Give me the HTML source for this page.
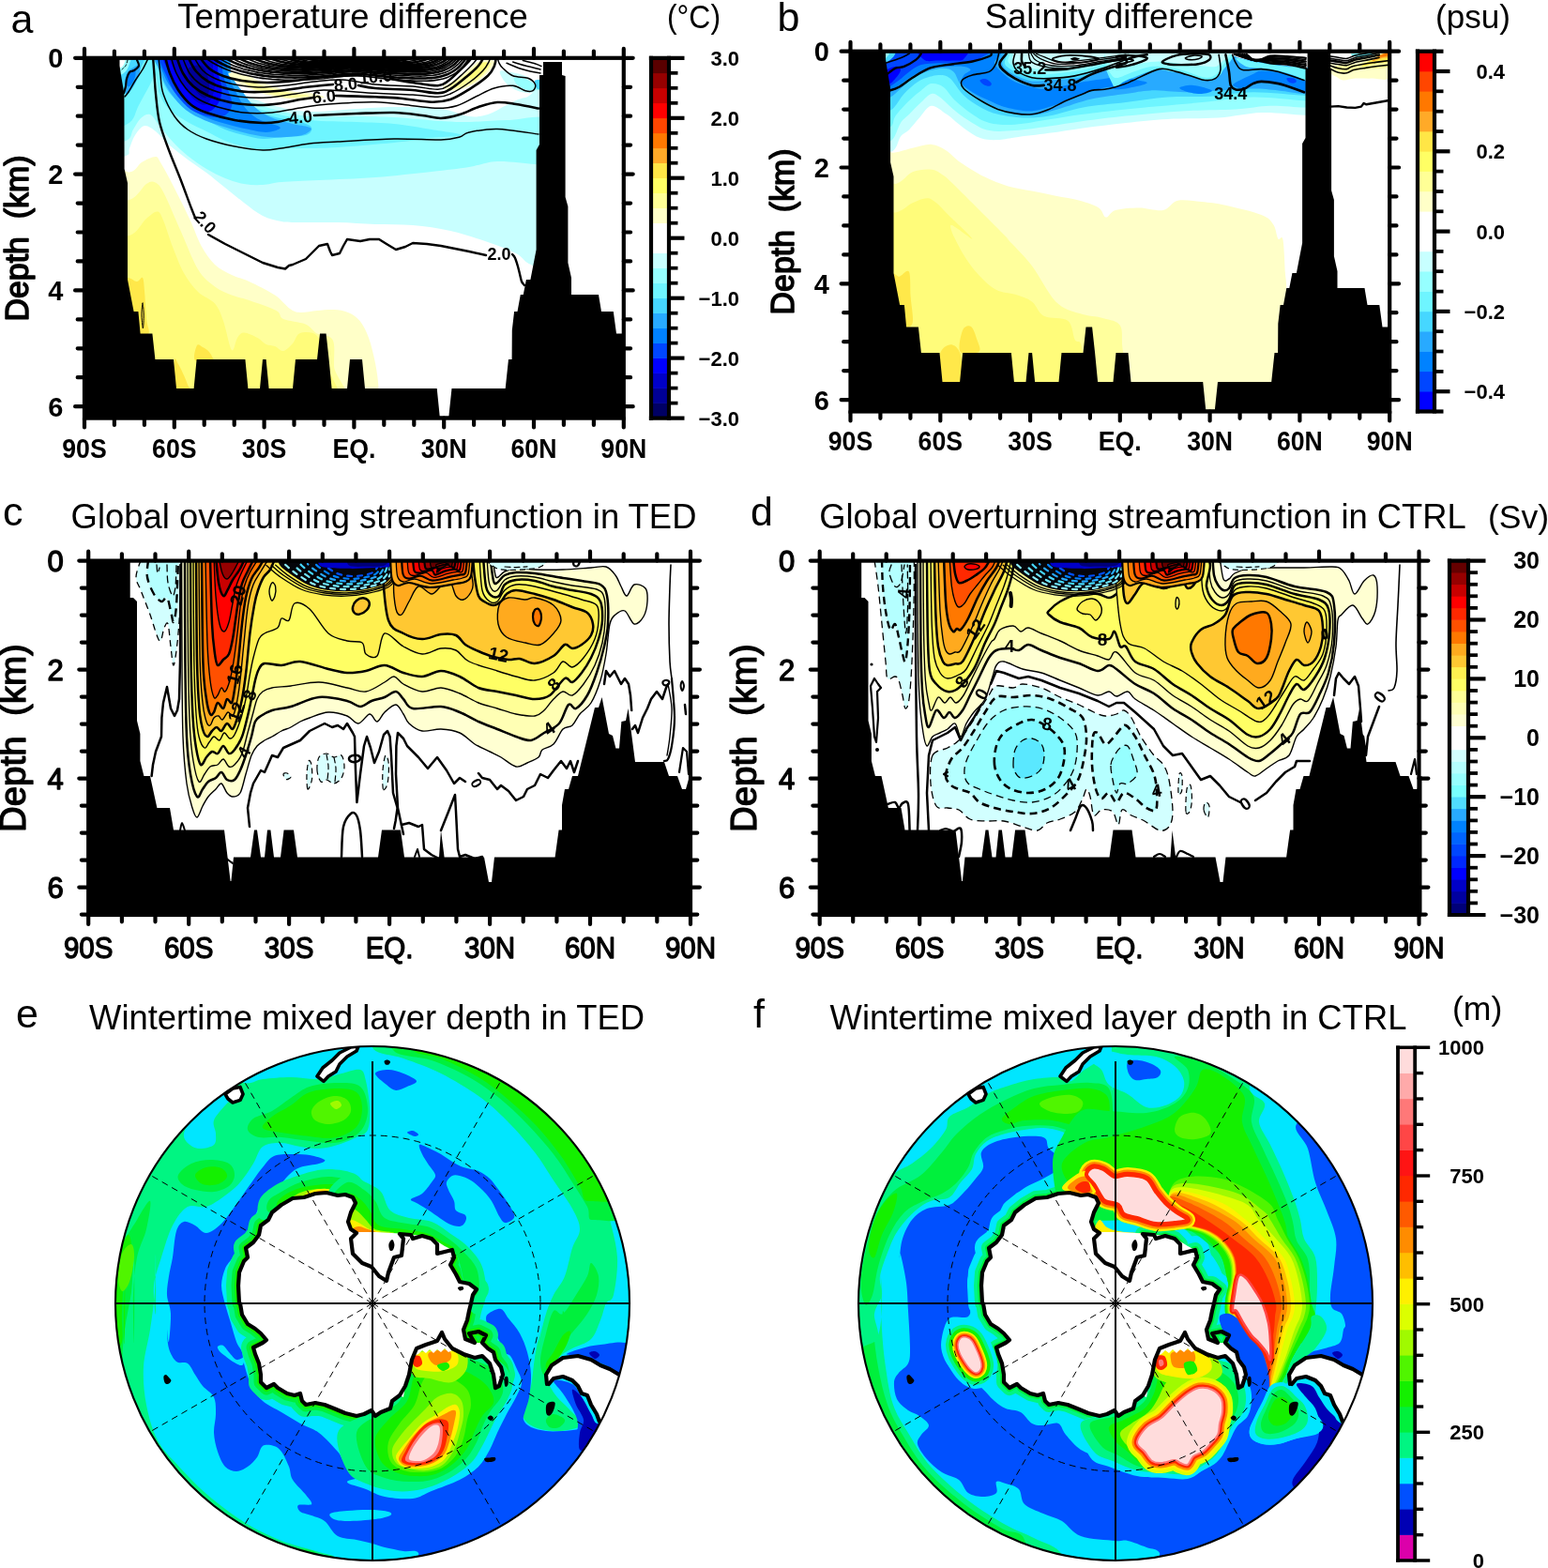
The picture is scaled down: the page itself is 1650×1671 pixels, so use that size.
<!DOCTYPE html>
<html lang="en"><head><meta charset="utf-8"><title>Figure</title>
<style>html,body{margin:0;padding:0;background:#fff}svg{display:block}</style>
</head><body>
<svg width="1650" height="1671" viewBox="0 0 1650 1671" font-family="'Liberation Sans', sans-serif" fill="#000">
<rect width="1650" height="1671" fill="#fff"/>
<g id="pa">
<defs><clipPath id="ca"><rect x="90.0" y="61.8" width="574.8" height="383.8"/></clipPath></defs>
<g clip-path="url(#ca)">
<path d="M100,50C120.8,30 203,46.7 225,50C247,53.3 229.5,64.3 232,70C234.5,75.7 235.3,79 240,84C244.7,89 251.7,95.3 260,100C268.3,104.7 278.3,108.8 290,112C301.7,115.2 315,118.3 330,119C345,119.7 365,116.8 380,116C395,115.2 405,114 420,114C435,114 456.7,114.3 470,116C483.3,117.7 491.7,123 500,124C508.3,125 513.3,124 520,122C526.7,120 533.3,115 540,112C546.7,109 551.7,105.3 560,104C568.3,102.7 585,74.3 590,104C595,133.7 594,252.3 590,282C586,311.7 572.7,284 566,282C559.3,280 557.7,274 550,270C542.3,266 531.7,262 520,258C508.3,254 493.3,249 480,246C466.7,243 453.3,241.2 440,240C426.7,238.8 413.3,239.5 400,239C386.7,238.5 373.3,237.3 360,237C346.7,236.7 330,237.2 320,237C310,236.8 306.7,237.2 300,236C293.3,234.8 286.7,233.3 280,230C273.3,226.7 266.7,221 260,216C253.3,211 246.7,205.3 240,200C233.3,194.7 226.7,189 220,184C213.3,179 206.7,175 200,170C193.3,165 185.7,159 180,154C174.3,149 170.3,143.3 166,140C161.7,136.7 157.7,133.3 154,134C150.3,134.7 146.7,140 144,144C141.3,148 139.7,154.3 138,158C136.3,161.7 140.3,164 134,166C127.7,168 105.7,189.3 100,170C94.3,150.7 79.2,70 100,50Z" fill="#c8ffff" />
<path d="M100,50C120.3,33 200.7,46.7 222,50C243.3,53.3 225.3,63.7 228,70C230.7,76.3 233,82.3 238,88C243,93.7 249.3,99.3 258,104C266.7,108.7 278,112.7 290,116C302,119.3 315,122.7 330,124C345,125.3 365,123.8 380,124C395,124.2 405,124.2 420,125C435,125.8 456.7,128.2 470,129C483.3,129.8 488.3,130.2 500,130C511.7,129.8 525,128.3 540,128C555,127.7 581.7,120 590,128C598.3,136 593.3,168.2 590,176C586.7,183.8 580,175.7 570,175C560,174.3 541.7,171.5 530,172C518.3,172.5 511.7,176.2 500,178C488.3,179.8 476.7,181.2 460,183C443.3,184.8 420,187.5 400,189C380,190.5 356.7,191.2 340,192C323.3,192.8 310,193.2 300,194C290,194.8 286.7,196.7 280,197C273.3,197.3 266.7,197.2 260,196C253.3,194.8 246.7,192.7 240,190C233.3,187.3 226.7,184 220,180C213.3,176 205.8,170.7 200,166C194.2,161.3 190,157.3 185,152C180,146.7 174.2,139 170,134C165.8,129 163.3,123.3 160,122C156.7,120.7 153,123.3 150,126C147,128.7 144.7,134 142,138C139.3,142 141,147.7 134,150C127,152.3 105.7,168.7 100,152C94.3,135.3 79.7,67 100,50Z" fill="#96ffff" />
<path d="M100,50C120,35.7 199.2,46.7 220,50C240.8,53.3 222.3,63 225,70C227.7,77 230.8,85.7 236,92C241.2,98.3 247,103.3 256,108C265,112.7 277.7,116.7 290,120C302.3,123.3 315,126.3 330,128C345,129.7 365,129.3 380,130C395,130.7 406.7,130.7 420,132C433.3,133.3 448,136 460,138C472,140 492,142.5 492,144C492,145.5 472,145.7 460,147C448,148.3 436.7,150.3 420,152C403.3,153.7 375,156 360,157C345,158 340,157.8 330,158C320,158.2 308.3,157.7 300,158C291.7,158.3 286.7,160.3 280,160C273.3,159.7 266.7,157.7 260,156C253.3,154.3 246.7,152.7 240,150C233.3,147.3 226.7,143.3 220,140C213.3,136.7 206.7,134 200,130C193.3,126 185,121 180,116C175,111 172.3,106 170,100C167.7,94 167.7,81.7 166,80C164.3,78.3 163,84.7 160,90C157,95.3 152,105 148,112C144,119 144,128 136,132C128,136 106,149.7 100,136C94,122.3 80,64.3 100,50Z" fill="#6ef5ff" />
<path d="M100,50C108.8,50 198.3,46.7 219,50C239.7,53.3 221.5,62.7 224,70C226.5,77.3 229,87.2 234,94C239,100.8 244.7,106 254,111C263.3,116 279,120.8 290,124C301,127.2 313,128 320,130C327,132 331,133.7 332,136C333,138.3 331.3,142.3 326,144C320.7,145.7 307.7,145.3 300,146C292.3,146.7 286.7,148.3 280,148C273.3,147.7 266.7,145.7 260,144C253.3,142.3 246.7,140.7 240,138C233.3,135.3 226.7,131.7 220,128C213.3,124.3 205.8,120 200,116C194.2,112 189.2,108.3 185,104C180.8,99.7 177.8,95.7 175,90C172.2,84.3 169.5,76.7 168,70C166.5,63.3 177.3,53.3 166,50C154.7,46.7 91.2,50 100,50Z" fill="#46d7ff" />
<path d="M166.4,50C177.2,45.2 222.9,44.8 236.4,50C249.9,55.2 243.7,73.1 247.3,81C250.9,88.9 254.2,91.9 258.2,97.3C262.1,102.7 266.1,109.1 271,113.6C275.9,118.1 280.6,121.5 287.3,124.5C294,127.5 304.1,130 311,131.8C317.9,133.6 325.7,134.3 329,135.5C332.3,136.7 332.5,137.5 331,139C329.5,140.5 326.4,143.3 320,144.5C313.6,145.7 301.8,146.7 292.7,146.4C283.6,146.1 274.3,144.5 265.5,142.7C256.7,140.9 247.9,137.9 240,135.5C232.1,133.1 225.2,131.2 218.2,128.2C211.2,125.2 204.3,122.2 198.2,117.3C192.1,112.4 186.2,105.4 181.8,99C177.4,92.6 174.4,87.2 171.8,79C169.2,70.8 155.6,54.8 166.4,50Z" fill="#28aaff" />
<path d="M168.2,50C177.9,45.2 220.1,44.8 232.7,50C245.3,55.2 240.5,73.1 243.6,81C246.7,88.9 248,91.5 251,97.3C254,103 257.9,110.7 261.8,115.5C265.7,120.3 269.1,123.4 274.5,126.4C279.9,129.4 290.6,131.8 294.5,133.6C298.4,135.4 299.8,136.1 298,137.3C296.2,138.5 289.6,141 283.6,141C277.6,141 269.1,138.8 261.8,137.3C254.5,135.8 247.3,133.9 240,131.8C232.7,129.7 224.7,127.5 218,124.5C211.3,121.5 205.4,118.1 200,113.6C194.6,109.1 189.8,103.1 185.5,97.3C181.2,91.5 177.4,86.9 174.5,79C171.6,71.1 158.5,54.8 168.2,50Z" fill="#0082ff" />
<path d="M171,50C179.2,43.9 217.8,44.8 229,50C240.2,55.2 235.6,73.1 238,81C240.4,88.9 242,92.2 243.6,97.3C245.2,102.4 247.9,107.6 247.3,111.8C246.7,116 243.6,120.6 240,122.7C236.4,124.8 230.9,125.1 225.5,124.5C220.1,123.9 212.8,122 207.3,119C201.8,116 197.2,111.8 192.7,106.4C188.1,101 183.6,95.8 180,86.4C176.4,77 162.8,56.1 171,50Z" fill="#0046ff" />
<path d="M174.5,50C181.8,44.8 215.8,45.2 225.5,50C235.2,54.8 230.9,71.4 232.7,79C234.5,86.6 236.4,90.3 236.4,95.5C236.4,100.7 235.1,106.1 232.7,110C230.3,113.9 226,118.4 221.8,119C217.6,119.6 212.2,116.9 207.3,113.6C202.5,110.3 196.9,104.4 192.7,99C188.4,93.6 184.8,89.2 181.8,81C178.8,72.8 167.2,55.2 174.5,50Z" fill="#0000ff" />
<path d="M180,50C185.8,45.2 213.9,45.5 221.8,50C229.7,54.5 226.1,70.3 227.3,77.3C228.5,84.3 229.3,87.3 229,91.8C228.7,96.3 227.3,101.2 225.5,104.5C223.7,107.8 221,111.5 218,111.8C215,112.1 210.9,109.4 207.3,106.4C203.7,103.4 199.7,98.2 196.4,93.6C193.1,89 190,86.3 187.3,79C184.6,71.7 174.2,54.8 180,50Z" fill="#0000c8" />
<path d="M200,73.6C202,71.2 210.9,68.5 214.5,70C218.1,71.5 220.4,78.2 221.8,82.7C223.2,87.2 223.3,93.7 222.7,97.3C222.1,100.9 220.5,104.5 218.2,104.5C215.9,104.5 211.6,100.6 209,97.3C206.4,94 204.2,88.5 202.7,84.5C201.2,80.5 198,76 200,73.6Z" fill="#000096" />
<path d="M120,100C122.2,107.5 130,101.3 133,100C136,98.7 136.2,94.7 138,92C139.8,89.3 142,87.3 144,84C146,80.7 148.3,75.7 150,72C151.7,68.3 154,64.8 154,62C154,59.2 155.7,56.2 150,55C144.3,53.8 125,47.5 120,55C115,62.5 117.8,92.5 120,100Z" fill="#46d7ff" />
<path d="M133,87C133.3,83.2 134.5,79.5 136,77C137.5,74.5 139.8,73.3 142,72C144.2,70.7 147.8,68.2 149,69C150.2,69.8 149.7,74 149,77C148.3,80 146.7,83.7 145,87C143.3,90.3 140.8,94.8 139,97C137.2,99.2 135,101.7 134,100C133,98.3 132.7,90.8 133,87Z" fill="#28aaff" />
<path d="M136,84C136.5,81.5 137.7,78.7 139,77C140.3,75.3 143.2,73.2 144,74C144.8,74.8 144.7,79.3 144,82C143.3,84.7 141.3,88.3 140,90C138.7,91.7 136.7,93 136,92C135.3,91 135.5,86.5 136,84Z" fill="#0082ff" />
<path d="M120,55C123.3,50.8 137,52.8 140,55C143,57.2 139,64.5 138,68C137,71.5 135.7,74 134,76C132.3,78 130.3,79.3 128,80C125.7,80.7 121.3,84.2 120,80C118.7,75.8 116.7,59.2 120,55Z" fill="#96ffff" />
<path d="M120,55C122.3,51.8 131.8,53.2 134,55C136.2,56.8 133.8,63.2 133,66C132.2,68.8 131.2,70.7 129,72C126.8,73.3 121.5,76.8 120,74C118.5,71.2 117.7,58.2 120,55Z" fill="#ffffff" />
<path d="M533,76C534.2,74.3 540.5,76.2 545,77C549.5,77.8 555.7,79 560,81C564.3,83 568.3,86.5 571,89C573.7,91.5 577.5,94.3 576,96C574.5,97.7 566.7,99.2 562,99C557.3,98.8 552,97 548,95C544,93 540.5,90.2 538,87C535.5,83.8 531.8,77.7 533,76Z" fill="#c8ffff" />
<path d="M548,83C549.3,81.8 556.3,82.8 560,84C563.7,85.2 567.3,88.2 570,90C572.7,91.8 577.2,94 576,95C574.8,96 567,96.7 563,96C559,95.3 554.5,93.2 552,91C549.5,88.8 546.7,84.2 548,83Z" fill="#96ffff" />
<path d="M570,86C571,84.7 576.7,84.5 578,86C579.3,87.5 579,93.7 578,95C577,96.3 573.3,95.5 572,94C570.7,92.5 569,87.3 570,86Z" fill="#46d7ff" />
<path d="M100,185C106.3,140.6 129.5,185.6 138,183.6C146.5,181.6 146.4,175.8 151,173C155.6,170.2 162.2,167 165.5,167C168.8,167 168,168.2 171,173C174,177.8 178.4,186 183.6,196C188.8,206 196.8,222 202,233C207.2,244 210,253.8 214.5,262C219,270.2 223.6,276.8 229,282C234.4,287.2 240.9,290 247,293C253.1,296 257.8,296.4 265.5,300C273.2,303.6 285.8,309.7 293,314.5C300.2,319.3 304.5,325.9 309,329C313.5,332.1 315.2,332.7 320,333C324.8,333.3 332,331.5 338,331C344,330.5 350.5,329.7 356,330C361.5,330.3 366.4,331 371,333C375.6,335 379.9,337.5 383.6,342C387.3,346.5 390.3,352.5 393,360C395.7,367.5 398.2,377.9 400,387C401.8,396.1 402.9,404 403.6,414.5C404.3,425 454.6,444.1 404,450C353.4,455.9 150.7,494.2 100,450C49.3,405.8 93.7,229.4 100,185Z" fill="#ffffc8" />
<path d="M100,215C106.3,175.5 128.7,216.2 138,213C147.3,209.8 151.4,199.1 156,196C160.6,192.9 162.4,192.9 165.5,194.5C168.6,196.1 169.9,196.8 174.5,205.5C179.1,214.2 186.9,233.4 193,247C199.1,260.6 205,277.2 211,287C217,296.8 223,300.9 229,305.5C235,310.1 240.9,312.1 247,314.5C253.1,316.9 257.6,317.2 265.5,320C273.4,322.8 288.4,327.7 294.5,331C300.6,334.3 296.8,337.6 302,340C307.2,342.4 319.5,342.9 325.5,345.5C331.5,348.1 333.2,352.8 338,355.5C342.8,358.2 351.5,356.2 354.5,362C357.5,367.8 355.9,375.3 356,390C356.1,404.7 397.7,440 355,450C312.3,460 142.5,489.2 100,450C57.5,410.8 93.7,254.5 100,215Z" fill="#ffff9c" />
<path d="M100,253C106.3,219.8 128.7,254.3 138,251C147.3,247.7 151,237.2 156,233C161,228.8 164.9,225 168,225.5C171.1,226 171.9,229.9 174.5,236C177.1,242.1 180,252.8 183.6,262C187.2,271.2 191.4,282.8 196,291C200.6,299.2 205.5,305.6 211,311C216.5,316.4 224.5,318.4 229,323.6C233.5,328.8 235,333.8 238,342C241,350.2 244.5,370 247,373C249.5,376 250.8,363.1 253,360C255.2,356.9 256.4,354.5 260,354.5C263.6,354.5 270.6,357.9 274.5,360C278.4,362.1 280.5,365.5 283.6,367C286.7,368.5 289.9,367.8 293,369C296.1,370.2 298.8,374.5 302,374C305.2,373.5 309,369.2 312,366C315,362.8 315.7,356.3 320,355C324.3,353.7 333.7,353.2 338,358C342.3,362.8 344.7,368.7 346,384C347.3,399.3 387,439 346,450C305,461 141,482.8 100,450C59,417.2 93.7,286.2 100,253Z" fill="#fffc7a" />
<path d="M134,300C135,290.7 143,300.7 146,300C149,299.3 150.7,294.3 152,296C153.3,297.7 153.3,302.7 154,310C154.7,317.3 155.3,332.3 156,340C156.7,347.7 160.7,353.3 158,356C155.3,358.7 144,365.3 140,356C136,346.7 133,309.3 134,300Z" fill="#ffe84a" />
<path d="M208,384C205.3,381.3 208.7,370.3 210,368C211.3,365.7 214,369 216,370C218,371 220.3,372.3 222,374C223.7,375.7 225.3,378.3 226,380C226.7,381.7 229,383.3 226,384C223,384.7 210.7,386.7 208,384Z" fill="#ffe84a" />
<path d="M186,384C186.7,379.3 188.3,385.3 190,388C191.7,390.7 194.3,396.3 196,400C197.7,403.7 199,407.3 200,410C201,412.7 204.3,415 202,416C199.7,417 188.7,421.3 186,416C183.3,410.7 185.3,388.7 186,384Z" fill="#ffe84a" />
<path d="M244,78C246,77 255.2,78 262,80C268.8,82 277,87.2 285,90C293,92.8 301.7,95.3 310,97C318.3,98.7 329.2,98.8 335,100C340.8,101.2 347.5,103 345,104C342.5,105 328.8,106.2 320,106C311.2,105.8 300.7,104.8 292,103C283.3,101.2 275,97.8 268,95C261,92.2 254,88.8 250,86C246,83.2 242,79 244,78Z" fill="#ffffc8" />
<path d="M258,84C260.8,84 276.3,90.5 285,93C293.7,95.5 302.5,97.5 310,99C317.5,100.5 330,101.2 330,102C330,102.8 317,104.3 310,104C303,103.7 295,101.8 288,100C281,98.2 273,95.7 268,93C263,90.3 255.2,84 258,84Z" fill="#ffff9c" />
<path d="M472,92C472.7,90.7 476.7,90 480,88C483.3,86 488,83 492,80C496,77 500.7,72.5 504,70C507.3,67.5 508.2,65.8 512,65C515.8,64.2 525.2,63.5 527,65C528.8,66.5 525.3,70.8 523,74C520.7,77.2 516.8,81 513,84C509.2,87 504.2,90 500,92C495.8,94 492,95.3 488,96C484,96.7 478.7,96.7 476,96C473.3,95.3 471.3,93.3 472,92Z" fill="#ffffc8" />
<path d="M480,91C481,89.2 488,86 492,83C496,80 500.7,75.7 504,73C507.3,70.3 508.8,68 512,67C515.2,66 521.8,65.7 523,67C524.2,68.3 521.2,72.2 519,75C516.8,77.8 513.5,81.3 510,84C506.5,86.7 502,89.3 498,91C494,92.7 489,94 486,94C483,94 479,92.8 480,91Z" fill="#ffff9c" />
<path d="M500,82C500.2,80.2 505.7,75.5 508,73C510.3,70.5 511.8,67.8 514,67C516.2,66.2 520.7,66.5 521,68C521.3,69.5 518.3,73.3 516,76C513.7,78.7 509.7,83 507,84C504.3,85 499.8,83.8 500,82Z" fill="#fffc7a" />
<path d="M163,60C163.2,63.3 164,73.3 164.5,80C165,86.7 165.1,91.7 166,100C166.9,108.3 167.7,120 170,130C172.3,140 176.3,150 180,160C183.7,170 188,179.7 192,190C196,200.3 201.3,215 204,222C206.7,229 207.3,230.3 208,232" fill="none" stroke="#000" stroke-width="2.4" stroke-linejoin="round" stroke-linecap="round" />
<path d="M222,250 240,260 260,270 280,280 296,285 304,286.5 308,283 312,282 326,276 334,268 340,262 349,260 352,268 354,272 362,270 366,262 370,255 384,257 394,255 404,255 412,260 422,266 432,263 440,259 455,260 470,262 485,265 500,268 518,272" fill="none" stroke="#000" stroke-width="2.4" stroke-linejoin="round" stroke-linecap="round" />
<path d="M546,271C546.5,271.7 548,272.8 549,275C550,277.2 551.2,281.2 552,284C552.8,286.8 553.3,289.3 554,292C554.7,294.7 555.2,298 556,300C556.8,302 558.5,303.3 559,304" fill="none" stroke="#000" stroke-width="2.4" stroke-linejoin="round" stroke-linecap="round" />
<text x="214" y="241" font-size="18" text-anchor="middle" font-weight="bold" transform="rotate(48 214 241)">2.0</text>
<text x="532" y="277" font-size="18" text-anchor="middle" font-weight="bold">2.0</text>
<path d="M169,60C169.3,63.3 170.2,73.3 171,80C171.8,86.7 171.5,92.7 174,100C176.5,107.3 181.7,117.7 186,124C190.3,130.3 194.3,134 200,138C205.7,142 211.7,145 220,148C228.3,151 240,154 250,156C260,158 271.7,159.7 280,160C288.3,160.3 291.7,159.2 300,158C308.3,156.8 320,154.2 330,153C340,151.8 345,151.8 360,151C375,150.2 401.7,148.3 420,148C438.3,147.7 458.3,149.3 470,149C481.7,148.7 485,147.3 490,146C495,144.7 493.3,142.4 500,141C506.7,139.6 517.7,137.1 530,137.4C542.3,137.7 566.7,142.1 574,143" fill="none" stroke="#000" stroke-width="1.5" stroke-linejoin="round" stroke-linecap="round" />
<path d="M176,60C176.8,63 178.7,72 181,78C183.3,84 186.2,90.3 190,96C193.8,101.7 199,108 204,112C209,116 212.3,117.3 220,120C227.7,122.7 240,126.2 250,128C260,129.8 272.3,130.7 280,131C287.7,131.3 291.3,130.7 296,130C300.7,129.3 306,127.5 308,127" fill="none" stroke="#000" stroke-width="2.6" stroke-linejoin="round" stroke-linecap="round" />
<path d="M335,123C342.5,122.7 365.8,121.5 380,121C394.2,120.5 408.3,119.7 420,120C431.7,120.3 441.7,122 450,123C458.3,124 463.3,126.2 470,126C476.7,125.8 483.3,124 490,122C496.7,120 503.3,116.2 510,114C516.7,111.8 523.3,109.5 530,109C536.7,108.5 542.7,109.9 550,111C557.3,112.1 570,114.8 574,115.6" fill="none" stroke="#000" stroke-width="2.6" stroke-linejoin="round" stroke-linecap="round" />
<text x="321" y="131" font-size="18" text-anchor="middle" font-weight="bold" transform="rotate(-6 321 131)">4.0</text>
<path d="M182,60C183,63 185.3,72.3 188,78C190.7,83.7 194,89.3 198,94C202,98.7 206.3,102.7 212,106C217.7,109.3 224,111.7 232,114C240,116.3 250.3,119 260,120C269.7,121 280,120.8 290,120C300,119.2 310,116.5 320,115C330,113.5 336.7,112 350,111C363.3,110 385,108.4 400,108.7C415,109 428.9,111.6 440,112.7C451.1,113.8 458.9,115.3 466.7,115.3C474.5,115.3 480,114.7 486.7,112.7C493.4,110.7 500,106.4 506.7,103.3C513.4,100.2 520,96 526.7,94C533.4,92 541.2,90.8 546.7,91.3C552.2,91.8 556.5,95.8 560,96.7C563.5,97.6 566.2,97.8 568,96.7C569.8,95.6 571.4,92.2 570.5,90C569.6,87.8 566.7,84.8 562.7,83.3C558.7,81.8 551.2,82.5 546.7,80.7C542.2,78.9 538.5,74.9 536,72.7C533.5,70.5 533,69.4 532,67.3C531,65.2 530.3,61.2 530,60" fill="none" stroke="#000" stroke-width="1.5" stroke-linejoin="round" stroke-linecap="round" />
<path d="M188,60C189.2,63 192,72.7 195,78C198,83.3 201.5,88 206,92C210.5,96 215.5,99.2 222,102C228.5,104.8 236.2,107.3 245,109C253.8,110.7 265.8,111.8 275,112C284.2,112.2 292.5,111 300,110C307.5,109 314.3,107 320,106C325.7,105 331.7,104.3 334,104" fill="none" stroke="#000" stroke-width="2.6" stroke-linejoin="round" stroke-linecap="round" />
<path d="M358,102C365,102.2 388.6,102.8 400,103.3C411.4,103.8 416.7,103.8 426.7,104.7C436.7,105.6 451.1,108.5 460,108.7C468.9,108.9 473.3,108.2 480,106C486.7,103.8 493.3,99.5 500,95.3C506.7,91.1 515.5,84.9 520,80.7C524.5,76.5 525.5,73.5 527,70C528.5,66.5 528.7,61.7 529,60" fill="none" stroke="#000" stroke-width="2.6" stroke-linejoin="round" stroke-linecap="round" />
<text x="346" y="109" font-size="18" text-anchor="middle" font-weight="bold" transform="rotate(-6 346 109)">6.0</text>
<path d="M194,60C195.3,63 198.7,73 202,78C205.3,83 209,86.7 214,90C219,93.3 225.2,95.8 232,98C238.8,100.2 246.2,102 255,103C263.8,104 275,104.5 285,104C295,103.5 305,101.3 315,100C325,98.7 330.8,96.1 345,96C359.2,95.9 384.2,98.5 400,99.3C415.8,100.1 428.9,100.3 440,101C451.1,101.7 460,103.5 466.7,103.3C473.4,103.1 474.4,102.5 480,100C485.6,97.5 494.2,92.2 500,88C505.8,83.8 511.5,78.7 515,75C518.5,71.3 519.7,68.5 521,66C522.3,63.5 522.7,61 523,60" fill="none" stroke="#000" stroke-width="1.5" stroke-linejoin="round" stroke-linecap="round" />
<path d="M200,60C201.5,62.7 205.3,71.5 209,76C212.7,80.5 216.8,84 222,87C227.2,90 232.8,92.2 240,94C247.2,95.8 255.8,97.5 265,98C274.2,98.5 285,97.8 295,97C305,96.2 315,94.2 325,93C335,91.8 350,90.5 355,90" fill="none" stroke="#000" stroke-width="2.6" stroke-linejoin="round" stroke-linecap="round" />
<path d="M382,91C385,91.5 390.3,93.2 400,94C409.7,94.8 428.9,95.1 440,96C451.1,96.9 460,99.5 466.7,99.3C473.4,99.1 474.9,97.9 480,95C485.1,92.1 492,86.2 497,82C502,77.8 506.8,73.7 510,70C513.2,66.3 515,61.7 516,60" fill="none" stroke="#000" stroke-width="2.6" stroke-linejoin="round" stroke-linecap="round" />
<text x="369" y="96" font-size="18" text-anchor="middle" font-weight="bold" transform="rotate(-6 369 96)">8.0</text>
<path d="M206,60C207.7,62.5 212,71 216,75C220,79 224.3,81.5 230,84C235.7,86.5 242.5,88.5 250,90C257.5,91.5 265.8,92.8 275,93C284.2,93.2 295,92 305,91C315,90 325,88 335,87C345,86 354.2,84.5 365,85C375.8,85.5 387.5,88.8 400,90C412.5,91.2 428.9,91.1 440,92C451.1,92.9 460,95.6 466.7,95.3C473.4,95 475.4,92.9 480,90C484.6,87.1 489.8,81.8 494,78C498.2,74.2 502.3,70 505,67C507.7,64 509.2,61.2 510,60" fill="none" stroke="#000" stroke-width="1.5" stroke-linejoin="round" stroke-linecap="round" />
<path d="M212,60C213.8,62.2 218.7,69.5 223,73C227.3,76.5 232.2,78.8 238,81C243.8,83.2 250.2,84.8 258,86C265.8,87.2 275.5,88 285,88C294.5,88 305,87 315,86C325,85 333.3,83 345,82C356.7,81 378.3,80.3 385,80" fill="none" stroke="#000" stroke-width="2.6" stroke-linejoin="round" stroke-linecap="round" />
<path d="M417,84C420.8,84.7 431.7,86.8 440,88C448.3,89.2 460.4,91.6 466.7,91.3C473,91 474.1,88.7 478,86C481.9,83.3 486.3,78.5 490,75C493.7,71.5 497.7,67.5 500,65C502.3,62.5 503.3,60.8 504,60" fill="none" stroke="#000" stroke-width="2.6" stroke-linejoin="round" stroke-linecap="round" />
<text x="401" y="88" font-size="18" text-anchor="middle" font-weight="bold" transform="rotate(-5 401 88)">10.0</text>
<path d="M540,67.3C542.2,68.2 549.1,71.2 553.3,72.7C557.5,74.2 561.2,75.1 565,76C568.8,76.9 574.2,77.7 576,78" fill="none" stroke="#000" stroke-width="1.5" stroke-linejoin="round" stroke-linecap="round" />
<path d="M546.7,66C548.9,66.7 555.1,68.7 560,70C564.9,71.3 573.3,73.3 576,74" fill="none" stroke="#000" stroke-width="1.5" stroke-linejoin="round" stroke-linecap="round" />
<path d="M557.3,64.5C559.5,65.1 567.4,67 570.7,68C574,69 576,70.1 577,70.5" fill="none" stroke="#000" stroke-width="1.5" stroke-linejoin="round" stroke-linecap="round" />
<path d="M219,61.8C220.2,62.6 223.7,65.1 226,66.5C228.4,67.9 230.7,69.2 233.1,70.3C235.4,71.5 237.7,72.5 240.1,73.4C242.4,74.4 244.8,75.2 247.1,76C249.4,76.8 251.8,77.5 254.1,78.2C256.5,78.9 258.8,79.5 261.1,80C263.5,80.6 265.8,81.1 268.2,81.5C270.5,82 272.9,82.4 275.2,82.8C277.5,83.1 279.9,83.5 282.2,83.7C284.6,84 286.9,84.2 289.2,84.4C291.6,84.6 293.9,84.8 296.3,84.9C298.6,85 301,85.1 303.3,85.2C305.6,85.2 308,85.2 310.3,85.2C312.7,85.3 315,85.2 317.4,85.2C319.7,85.2 322,85.1 324.4,85C326.7,84.9 329.1,84.9 331.4,84.7C333.7,84.6 336.1,84.5 338.4,84.3C340.8,84.1 343.1,83.9 345.4,83.7C347.8,83.4 350.1,83.1 352.5,82.8C354.8,82.6 357.2,82.2 359.5,81.9C361.8,81.7 364.2,81.4 366.5,81.1C368.9,80.9 371.2,80.7 373.6,80.7C375.9,80.6 378.2,80.6 380.6,80.6C382.9,80.7 385.3,80.9 387.6,81.1C389.9,81.3 392.3,81.6 394.6,81.9C397,82.2 399.3,82.5 401.6,82.8C404,83.1 406.3,83.5 408.7,83.7C411,84 413.4,84.2 415.7,84.5C418,84.7 420.4,84.9 422.7,85.1C425.1,85.2 427.4,85.4 429.8,85.5C432.1,85.7 434.4,85.8 436.8,85.9C439.1,86.1 441.5,86.2 443.8,86.2C446.1,86.3 448.5,86.4 450.8,86.3C453.2,86.3 455.5,86.3 457.9,86.1C460.2,86 462.5,85.8 464.9,85.4C467.2,85.1 469.6,84.7 471.9,84.1C474.2,83.4 476.6,82.7 478.9,81.6C481.3,80.6 483.6,79.4 485.9,77.7C488.3,76 490.6,74.2 493,71.6C495.3,68.9 498.8,63.4 500,61.8" fill="none" stroke="#000" stroke-width="1.6" stroke-linejoin="round" stroke-linecap="round" />
<path d="M226,61.8C227.1,62.5 230.5,64.7 232.8,66C235,67.3 237.3,68.4 239.6,69.5C241.8,70.5 244.1,71.4 246.3,72.3C248.6,73.1 250.8,73.9 253.1,74.6C255.4,75.3 257.6,76 259.9,76.6C262.1,77.2 264.4,77.7 266.6,78.2C268.9,78.7 271.2,79.1 273.4,79.5C275.7,79.9 277.9,80.3 280.2,80.6C282.5,80.9 284.7,81.1 287,81.4C289.2,81.6 291.5,81.8 293.8,81.9C296,82.1 298.3,82.2 300.5,82.3C302.8,82.4 305,82.5 307.3,82.5C309.6,82.5 311.8,82.6 314.1,82.6C316.3,82.6 318.6,82.5 320.9,82.5C323.1,82.5 325.4,82.4 327.6,82.3C329.9,82.2 332.1,82.2 334.4,82C336.7,81.9 338.9,81.8 341.2,81.6C343.4,81.4 345.7,81.2 347.9,81C350.2,80.8 352.5,80.5 354.7,80.3C357,80 359.2,79.8 361.5,79.5C363.8,79.3 366,79.1 368.3,78.9C370.5,78.7 372.8,78.6 375.1,78.6C377.3,78.5 379.6,78.6 381.8,78.6C384.1,78.7 386.3,78.9 388.6,79.1C390.9,79.3 393.1,79.6 395.4,79.8C397.6,80.1 399.9,80.4 402.1,80.6C404.4,80.9 406.7,81.1 408.9,81.4C411.2,81.6 413.4,81.8 415.7,82C418,82.2 420.2,82.3 422.5,82.5C424.7,82.6 427,82.8 429.2,82.9C431.5,83 433.8,83.1 436,83.2C438.3,83.3 440.5,83.4 442.8,83.5C445.1,83.5 447.3,83.6 449.6,83.5C451.8,83.5 454.1,83.5 456.4,83.3C458.6,83.2 460.9,83 463.1,82.7C465.4,82.4 467.6,82 469.9,81.4C472.2,80.9 474.4,80.2 476.7,79.3C478.9,78.3 481.2,77.3 483.4,75.8C485.7,74.3 488,72.6 490.2,70.3C492.5,68 495.9,63.2 497,61.8" fill="none" stroke="#000" stroke-width="2.6" stroke-linejoin="round" stroke-linecap="round" />
<path d="M233,61.8C234.1,62.4 237.3,64.4 239.5,65.6C241.7,66.8 243.9,67.8 246.1,68.7C248.2,69.6 250.4,70.5 252.6,71.3C254.8,72 256.9,72.7 259.1,73.4C261.3,74 263.4,74.6 265.6,75.1C267.8,75.7 270,76.1 272.1,76.6C274.3,77 276.5,77.4 278.7,77.7C280.9,78 283,78.3 285.2,78.6C287.4,78.9 289.6,79.1 291.7,79.3C293.9,79.4 296.1,79.6 298.2,79.7C300.4,79.8 302.6,79.9 304.8,80C306.9,80.1 309.1,80.1 311.3,80.2C313.5,80.2 315.6,80.2 317.8,80.2C320,80.2 322.2,80.2 324.4,80.1C326.5,80.1 328.7,80 330.9,79.9C333.1,79.9 335.2,79.8 337.4,79.7C339.6,79.5 341.8,79.4 343.9,79.2C346.1,79.1 348.3,78.9 350.4,78.7C352.6,78.5 354.8,78.3 357,78.1C359.2,77.8 361.3,77.6 363.5,77.4C365.7,77.2 367.8,77.1 370,76.9C372.2,76.8 374.4,76.8 376.6,76.7C378.7,76.7 380.9,76.8 383.1,76.9C385.2,77 387.4,77.1 389.6,77.3C391.8,77.5 393.9,77.7 396.1,78C398.3,78.2 400.5,78.4 402.6,78.6C404.8,78.9 407,79.1 409.2,79.3C411.4,79.5 413.5,79.7 415.7,79.8C417.9,80 420.1,80.1 422.2,80.2C424.4,80.4 426.6,80.5 428.8,80.6C430.9,80.7 433.1,80.8 435.3,80.8C437.4,80.9 439.6,81 441.8,81C444,81.1 446.1,81.1 448.3,81.1C450.5,81 452.7,81 454.9,80.8C457,80.7 459.2,80.5 461.4,80.3C463.6,80 465.7,79.6 467.9,79.1C470.1,78.6 472.2,78 474.4,77.2C476.6,76.3 478.8,75.4 480.9,74.1C483.1,72.7 485.3,71.3 487.5,69.2C489.7,67.2 492.9,63 494,61.8" fill="none" stroke="#000" stroke-width="1.6" stroke-linejoin="round" stroke-linecap="round" />
<path d="M240,61.8C241,62.4 244.2,64.2 246.3,65.2C248.4,66.3 250.5,67.2 252.6,68C254.6,68.9 256.7,69.6 258.8,70.3C260.9,71 263,71.6 265.1,72.2C267.2,72.8 269.3,73.3 271.4,73.8C273.5,74.2 275.6,74.6 277.6,75C279.7,75.4 281.8,75.7 283.9,76C286,76.3 288.1,76.5 290.2,76.8C292.3,77 294.4,77.2 296.5,77.3C298.6,77.5 300.7,77.6 302.8,77.7C304.8,77.8 306.9,77.9 309,77.9C311.1,78 313.2,78 315.3,78C317.4,78 319.5,78 321.6,78C323.7,78 325.8,78 327.9,78C329.9,77.9 332,77.9 334.1,77.8C336.2,77.7 338.3,77.6 340.4,77.5C342.5,77.4 344.6,77.3 346.7,77.1C348.8,77 350.9,76.8 352.9,76.6C355,76.4 357.1,76.2 359.2,76.1C361.3,75.9 363.4,75.7 365.5,75.6C367.6,75.4 369.7,75.3 371.8,75.2C373.9,75.1 376,75.1 378.1,75.1C380.1,75.1 382.2,75.2 384.3,75.3C386.4,75.4 388.5,75.5 390.6,75.7C392.7,75.9 394.8,76.1 396.9,76.3C399,76.4 401.1,76.7 403.1,76.8C405.2,77 407.3,77.2 409.4,77.4C411.5,77.5 413.6,77.7 415.7,77.8C417.8,78 419.9,78.1 422,78.2C424.1,78.3 426.2,78.4 428.2,78.5C430.3,78.6 432.4,78.6 434.5,78.7C436.6,78.7 438.7,78.8 440.8,78.8C442.9,78.8 445,78.8 447.1,78.8C449.2,78.8 451.3,78.7 453.4,78.6C455.4,78.5 457.5,78.3 459.6,78C461.7,77.8 463.8,77.5 465.9,77C468,76.5 470.1,76 472.2,75.3C474.3,74.5 476.4,73.7 478.4,72.5C480.5,71.3 482.6,70 484.7,68.3C486.8,66.5 490,62.9 491,61.8" fill="none" stroke="#000" stroke-width="2.6" stroke-linejoin="round" stroke-linecap="round" />
<path d="M247,61.8C248,62.3 251,64 253,64.9C255,65.8 257,66.7 259.1,67.4C261.1,68.2 263.1,68.9 265.1,69.5C267.1,70.1 269.1,70.7 271.1,71.2C273.1,71.7 275.1,72.2 277.1,72.6C279.1,73 281.1,73.4 283.1,73.7C285.2,74 287.2,74.3 289.2,74.5C291.2,74.8 293.2,75 295.2,75.2C297.2,75.4 299.2,75.5 301.2,75.6C303.2,75.8 305.2,75.9 307.2,75.9C309.3,76 311.3,76.1 313.3,76.1C315.3,76.2 317.3,76.2 319.3,76.2C321.3,76.2 323.3,76.2 325.3,76.2C327.3,76.2 329.3,76.2 331.4,76.1C333.4,76.1 335.4,76 337.4,76C339.4,75.9 341.4,75.8 343.4,75.7C345.4,75.6 347.4,75.4 349.4,75.3C351.4,75.2 353.4,75 355.4,74.9C357.5,74.7 359.5,74.5 361.5,74.4C363.5,74.2 365.5,74.1 367.5,74C369.5,73.9 371.5,73.8 373.5,73.8C375.5,73.7 377.5,73.7 379.6,73.7C381.6,73.8 383.6,73.8 385.6,73.9C387.6,74 389.6,74.2 391.6,74.3C393.6,74.5 395.6,74.6 397.6,74.8C399.6,75 401.6,75.1 403.6,75.3C405.7,75.5 407.7,75.6 409.7,75.8C411.7,75.9 413.7,76 415.7,76.1C417.7,76.3 419.7,76.4 421.7,76.4C423.7,76.5 425.7,76.6 427.8,76.7C429.8,76.7 431.8,76.8 433.8,76.8C435.8,76.9 437.8,76.9 439.8,76.9C441.8,76.9 443.8,76.9 445.8,76.9C447.8,76.9 449.8,76.8 451.9,76.7C453.9,76.6 455.9,76.4 457.9,76.2C459.9,75.9 461.9,75.6 463.9,75.2C465.9,74.8 467.9,74.3 469.9,73.6C471.9,73 473.9,72.2 475.9,71.2C478,70.1 480,69 482,67.4C484,65.9 487,62.7 488,61.8" fill="none" stroke="#000" stroke-width="1.6" stroke-linejoin="round" stroke-linecap="round" />
<path d="M254,61.8C255,62.3 257.8,63.8 259.8,64.6C261.7,65.5 263.6,66.2 265.6,66.9C267.5,67.6 269.4,68.2 271.3,68.8C273.2,69.4 275.2,69.9 277.1,70.3C279,70.8 280.9,71.2 282.9,71.5C284.8,71.9 286.7,72.2 288.6,72.5C290.6,72.8 292.5,73 294.4,73.2C296.4,73.4 298.3,73.6 300.2,73.7C302.1,73.9 304.1,74 306,74.1C307.9,74.2 309.8,74.3 311.8,74.4C313.7,74.5 315.6,74.5 317.5,74.5C319.4,74.6 321.4,74.6 323.3,74.6C325.2,74.6 327.1,74.6 329.1,74.6C331,74.6 332.9,74.5 334.9,74.5C336.8,74.5 338.7,74.4 340.6,74.3C342.6,74.3 344.5,74.2 346.4,74.1C348.3,74 350.2,73.8 352.2,73.7C354.1,73.6 356,73.4 357.9,73.3C359.9,73.2 361.8,73 363.7,72.9C365.7,72.8 367.6,72.7 369.5,72.6C371.4,72.6 373.3,72.5 375.3,72.5C377.2,72.5 379.1,72.5 381.1,72.5C383,72.6 384.9,72.6 386.8,72.7C388.8,72.8 390.7,73 392.6,73.1C394.5,73.2 396.4,73.4 398.4,73.5C400.3,73.7 402.2,73.8 404.1,73.9C406.1,74.1 408,74.2 409.9,74.3C411.9,74.4 413.8,74.6 415.7,74.7C417.6,74.7 419.6,74.8 421.5,74.9C423.4,75 425.3,75 427.2,75.1C429.2,75.1 431.1,75.2 433,75.2C434.9,75.2 436.9,75.3 438.8,75.3C440.7,75.3 442.6,75.3 444.6,75.2C446.5,75.2 448.4,75.1 450.4,75C452.3,74.9 454.2,74.7 456.1,74.5C458.1,74.3 460,74 461.9,73.6C463.8,73.2 465.8,72.8 467.7,72.2C469.6,71.6 471.5,70.9 473.4,70C475.4,69.1 477.3,68.1 479.2,66.7C481.2,65.3 484,62.6 485,61.8" fill="none" stroke="#000" stroke-width="2.6" stroke-linejoin="round" stroke-linecap="round" />
<path d="M262,61.8C262.9,62.2 265.7,63.6 267.5,64.3C269.3,65.1 271.2,65.8 273,66.4C274.8,67 276.7,67.6 278.5,68.1C280.3,68.6 282.2,69 284,69.4C285.8,69.8 287.7,70.2 289.5,70.5C291.3,70.8 293.2,71.1 295,71.3C296.8,71.6 298.7,71.8 300.5,71.9C302.3,72.1 304.2,72.3 306,72.4C307.8,72.5 309.7,72.6 311.5,72.7C313.3,72.8 315.2,72.9 317,72.9C318.8,73 320.7,73 322.5,73.1C324.3,73.1 326.2,73.1 328,73.1C329.8,73.1 331.7,73.1 333.5,73.1C335.3,73 337.2,73 339,73C340.8,72.9 342.7,72.9 344.5,72.8C346.3,72.7 348.2,72.6 350,72.5C351.8,72.4 353.7,72.3 355.5,72.2C357.3,72.1 359.2,72 361,71.9C362.8,71.8 364.7,71.7 366.5,71.6C368.3,71.5 370.2,71.4 372,71.4C373.8,71.3 375.7,71.3 377.5,71.3C379.3,71.3 381.2,71.4 383,71.4C384.8,71.5 386.7,71.6 388.5,71.6C390.3,71.7 392.2,71.9 394,72C395.8,72.1 397.7,72.2 399.5,72.3C401.3,72.5 403.2,72.6 405,72.7C406.8,72.8 408.7,72.9 410.5,73C412.3,73.1 414.2,73.2 416,73.3C417.8,73.3 419.7,73.4 421.5,73.5C423.3,73.5 425.2,73.6 427,73.6C428.8,73.7 430.7,73.7 432.5,73.7C434.3,73.7 436.2,73.7 438,73.7C439.8,73.7 441.7,73.7 443.5,73.6C445.3,73.6 447.2,73.5 449,73.4C450.8,73.3 452.7,73.2 454.5,72.9C456.3,72.7 458.2,72.5 460,72.1C461.8,71.8 463.7,71.4 465.5,70.9C467.3,70.3 469.2,69.7 471,68.9C472.8,68.1 474.7,67.2 476.5,66C478.3,64.8 481.1,62.5 482,61.8" fill="none" stroke="#000" stroke-width="1.6" stroke-linejoin="round" stroke-linecap="round" />
<path d="M270,61.8C270.9,62.2 273.5,63.4 275.2,64.1C276.9,64.8 278.7,65.4 280.4,65.9C282.1,66.5 283.9,67 285.6,67.4C287.3,67.9 289.1,68.2 290.8,68.6C292.5,68.9 294.3,69.2 296,69.5C297.7,69.8 299.5,70 301.2,70.2C302.9,70.4 304.7,70.6 306.4,70.7C308.1,70.9 309.9,71 311.6,71.1C313.3,71.2 315.1,71.3 316.8,71.4C318.5,71.5 320.3,71.5 322,71.6C323.7,71.6 325.5,71.7 327.2,71.7C328.9,71.7 330.7,71.7 332.4,71.7C334.1,71.7 335.9,71.7 337.6,71.7C339.3,71.6 341.1,71.6 342.8,71.6C344.5,71.5 346.3,71.4 348,71.4C349.7,71.3 351.5,71.2 353.2,71.1C354.9,71.1 356.7,71 358.4,70.9C360.1,70.8 361.9,70.7 363.6,70.6C365.3,70.5 367.1,70.5 368.8,70.4C370.5,70.3 372.3,70.3 374,70.3C375.7,70.3 377.5,70.3 379.2,70.3C380.9,70.3 382.7,70.3 384.4,70.4C386.1,70.4 387.9,70.5 389.6,70.6C391.3,70.7 393.1,70.8 394.8,70.9C396.5,71 398.3,71.1 400,71.2C401.7,71.3 403.5,71.4 405.2,71.5C406.9,71.6 408.7,71.7 410.4,71.7C412.1,71.8 413.9,71.9 415.6,72C417.3,72 419.1,72.1 420.8,72.1C422.5,72.2 424.3,72.2 426,72.2C427.7,72.2 429.5,72.3 431.2,72.3C432.9,72.3 434.7,72.3 436.4,72.3C438.1,72.2 439.9,72.2 441.6,72.2C443.3,72.1 445.1,72 446.8,71.9C448.5,71.8 450.3,71.7 452,71.5C453.7,71.3 455.5,71.1 457.2,70.7C458.9,70.4 460.7,70.1 462.4,69.6C464.1,69.1 465.9,68.6 467.6,67.9C469.3,67.2 471.1,66.4 472.8,65.4C474.5,64.4 477.1,62.4 478,61.8" fill="none" stroke="#000" stroke-width="2.6" stroke-linejoin="round" stroke-linecap="round" />
<path d="M278,61.8C278.8,62.1 281.3,63.2 282.9,63.8C284.5,64.4 286.2,65 287.8,65.5C289.4,66 291.1,66.4 292.7,66.8C294.3,67.1 296,67.5 297.6,67.8C299.2,68.1 300.9,68.3 302.5,68.6C304.1,68.8 305.8,69 307.4,69.2C309,69.4 310.7,69.5 312.3,69.6C313.9,69.8 315.6,69.9 317.2,70C318.8,70.1 320.5,70.1 322.1,70.2C323.7,70.3 325.4,70.3 327,70.3C328.6,70.4 330.3,70.4 331.9,70.4C333.5,70.4 335.2,70.4 336.8,70.4C338.4,70.4 340.1,70.4 341.7,70.4C343.3,70.3 345,70.3 346.6,70.3C348.2,70.2 349.9,70.2 351.5,70.1C353.1,70 354.8,70 356.4,69.9C358,69.8 359.7,69.7 361.3,69.7C362.9,69.6 364.6,69.5 366.2,69.5C367.8,69.4 369.5,69.4 371.1,69.3C372.7,69.3 374.4,69.3 376,69.3C377.6,69.3 379.3,69.3 380.9,69.3C382.5,69.3 384.2,69.4 385.8,69.4C387.4,69.5 389.1,69.6 390.7,69.6C392.3,69.7 394,69.8 395.6,69.9C397.2,69.9 398.9,70 400.5,70.1C402.1,70.2 403.8,70.3 405.4,70.4C407,70.4 408.7,70.5 410.3,70.6C411.9,70.6 413.6,70.7 415.2,70.7C416.8,70.8 418.5,70.8 420.1,70.9C421.7,70.9 423.4,70.9 425,70.9C426.6,71 428.3,71 429.9,71C431.5,71 433.2,70.9 434.8,70.9C436.4,70.9 438.1,70.9 439.7,70.8C441.3,70.7 443,70.7 444.6,70.6C446.2,70.4 447.9,70.3 449.5,70.1C451.1,70 452.8,69.8 454.4,69.5C456,69.2 457.7,68.9 459.3,68.5C460.9,68.1 462.6,67.6 464.2,67C465.8,66.4 467.5,65.7 469.1,64.8C470.7,64 473.2,62.3 474,61.8" fill="none" stroke="#000" stroke-width="1.6" stroke-linejoin="round" stroke-linecap="round" />
<path d="M287,61.8C287.8,62.1 290.1,63.1 291.6,63.6C293.1,64.1 294.6,64.6 296.1,65C297.7,65.4 299.2,65.8 300.7,66.1C302.2,66.5 303.8,66.8 305.3,67C306.8,67.3 308.4,67.5 309.9,67.7C311.4,67.9 312.9,68.1 314.4,68.2C316,68.4 317.5,68.5 319,68.6C320.5,68.7 322.1,68.8 323.6,68.9C325.1,69 326.7,69 328.2,69.1C329.7,69.1 331.2,69.2 332.8,69.2C334.3,69.2 335.8,69.2 337.3,69.2C338.8,69.3 340.4,69.2 341.9,69.2C343.4,69.2 345,69.2 346.5,69.2C348,69.1 349.5,69.1 351.1,69.1C352.6,69 354.1,69 355.6,68.9C357.1,68.9 358.7,68.8 360.2,68.7C361.7,68.7 363.2,68.6 364.8,68.6C366.3,68.5 367.8,68.5 369.4,68.5C370.9,68.4 372.4,68.4 373.9,68.4C375.4,68.4 377,68.4 378.5,68.4C380,68.4 381.6,68.4 383.1,68.4C384.6,68.5 386.1,68.5 387.6,68.6C389.2,68.6 390.7,68.7 392.2,68.7C393.8,68.8 395.3,68.9 396.8,68.9C398.3,69 399.9,69.1 401.4,69.1C402.9,69.2 404.4,69.3 405.9,69.3C407.5,69.4 409,69.4 410.5,69.5C412,69.5 413.6,69.6 415.1,69.6C416.6,69.7 418.1,69.7 419.7,69.7C421.2,69.7 422.7,69.7 424.2,69.8C425.8,69.8 427.3,69.8 428.8,69.8C430.4,69.7 431.9,69.7 433.4,69.7C434.9,69.7 436.5,69.6 438,69.6C439.5,69.5 441,69.4 442.5,69.3C444.1,69.2 445.6,69.1 447.1,68.9C448.7,68.7 450.2,68.6 451.7,68.3C453.2,68.1 454.8,67.8 456.3,67.4C457.8,67.1 459.3,66.7 460.9,66.1C462.4,65.6 463.9,65.1 465.4,64.3C466.9,63.6 469.2,62.2 470,61.8" fill="none" stroke="#000" stroke-width="2.6" stroke-linejoin="round" stroke-linecap="round" />
<path d="M296,61.8C296.7,62.1 298.8,62.9 300.2,63.4C301.6,63.8 303,64.2 304.4,64.6C305.9,65 307.3,65.3 308.7,65.6C310.1,65.9 311.5,66.1 312.9,66.3C314.3,66.5 315.7,66.7 317.1,66.9C318.5,67.1 319.9,67.2 321.4,67.3C322.8,67.5 324.2,67.6 325.6,67.7C327,67.8 328.4,67.8 329.8,67.9C331.2,68 332.6,68 334,68.1C335.4,68.1 336.8,68.1 338.2,68.2C339.7,68.2 341.1,68.2 342.5,68.2C343.9,68.2 345.3,68.2 346.7,68.2C348.1,68.1 349.5,68.1 350.9,68.1C352.3,68.1 353.7,68 355.1,68C356.6,68 358,67.9 359.4,67.9C360.8,67.8 362.2,67.8 363.6,67.8C365,67.7 366.4,67.7 367.8,67.7C369.2,67.6 370.6,67.6 372.1,67.6C373.5,67.6 374.9,67.6 376.3,67.6C377.7,67.5 379.1,67.6 380.5,67.6C381.9,67.6 383.3,67.6 384.7,67.6C386.1,67.7 387.5,67.7 388.9,67.8C390.4,67.8 391.8,67.9 393.2,67.9C394.6,68 396,68 397.4,68.1C398.8,68.1 400.2,68.2 401.6,68.2C403,68.3 404.4,68.3 405.9,68.4C407.3,68.4 408.7,68.5 410.1,68.5C411.5,68.5 412.9,68.6 414.3,68.6C415.7,68.6 417.1,68.6 418.5,68.6C419.9,68.7 421.3,68.7 422.8,68.7C424.2,68.7 425.6,68.7 427,68.6C428.4,68.6 429.8,68.6 431.2,68.6C432.6,68.5 434,68.5 435.4,68.4C436.8,68.3 438.2,68.3 439.6,68.2C441.1,68.1 442.5,67.9 443.9,67.8C445.3,67.6 446.7,67.5 448.1,67.2C449.5,67 450.9,66.8 452.3,66.5C453.7,66.2 455.1,65.8 456.5,65.4C458,64.9 459.4,64.5 460.8,63.9C462.2,63.3 464.3,62.1 465,61.8" fill="none" stroke="#000" stroke-width="1.6" stroke-linejoin="round" stroke-linecap="round" />
<path d="M305,61.8C305.6,62 307.6,62.7 308.8,63.1C310.1,63.5 311.4,63.9 312.6,64.2C313.9,64.5 315.2,64.7 316.5,65C317.8,65.2 319,65.4 320.3,65.6C321.6,65.8 322.9,66 324.1,66.1C325.4,66.3 326.7,66.4 327.9,66.5C329.2,66.6 330.5,66.7 331.8,66.8C333,66.8 334.3,66.9 335.6,66.9C336.9,67 338.2,67 339.4,67.1C340.7,67.1 342,67.1 343.2,67.1C344.5,67.1 345.8,67.2 347.1,67.2C348.3,67.2 349.6,67.1 350.9,67.1C352.2,67.1 353.5,67.1 354.7,67.1C356,67.1 357.3,67 358.6,67C359.8,67 361.1,66.9 362.4,66.9C363.6,66.9 364.9,66.9 366.2,66.8C367.5,66.8 368.8,66.8 370,66.8C371.3,66.8 372.6,66.7 373.9,66.7C375.1,66.7 376.4,66.7 377.7,66.7C378.9,66.7 380.2,66.7 381.5,66.8C382.8,66.8 384.1,66.8 385.3,66.8C386.6,66.8 387.9,66.9 389.1,66.9C390.4,66.9 391.7,67 393,67C394.2,67.1 395.5,67.1 396.8,67.1C398.1,67.2 399.4,67.2 400.6,67.3C401.9,67.3 403.2,67.3 404.4,67.4C405.7,67.4 407,67.4 408.3,67.4C409.5,67.5 410.8,67.5 412.1,67.5C413.4,67.5 414.7,67.5 415.9,67.5C417.2,67.5 418.5,67.5 419.8,67.5C421,67.5 422.3,67.5 423.6,67.5C424.8,67.5 426.1,67.4 427.4,67.4C428.7,67.3 430,67.3 431.2,67.2C432.5,67.2 433.8,67.1 435,67C436.3,66.9 437.6,66.8 438.9,66.7C440.2,66.5 441.4,66.4 442.7,66.2C444,66 445.2,65.8 446.5,65.5C447.8,65.3 449.1,65 450.4,64.6C451.6,64.3 452.9,63.9 454.2,63.4C455.4,62.9 457.4,62.1 458,61.8" fill="none" stroke="#000" stroke-width="2.6" stroke-linejoin="round" stroke-linecap="round" />
<path d="M315,61.8C315.6,62 317.2,62.6 318.4,62.9C319.5,63.2 320.6,63.5 321.8,63.8C322.9,64 324,64.3 325.1,64.5C326.2,64.7 327.4,64.8 328.5,65C329.6,65.1 330.8,65.3 331.9,65.4C333,65.5 334.1,65.6 335.2,65.7C336.4,65.8 337.5,65.9 338.6,65.9C339.8,66 340.9,66 342,66.1C343.1,66.1 344.2,66.1 345.4,66.2C346.5,66.2 347.6,66.2 348.8,66.2C349.9,66.2 351,66.2 352.1,66.2C353.2,66.2 354.4,66.2 355.5,66.2C356.6,66.2 357.8,66.2 358.9,66.2C360,66.2 361.1,66.1 362.2,66.1C363.4,66.1 364.5,66.1 365.6,66.1C366.8,66.1 367.9,66 369,66C370.1,66 371.2,66 372.4,66C373.5,66 374.6,66 375.8,66C376.9,66 378,66 379.1,66C380.2,66 381.4,66 382.5,66C383.6,66 384.8,66.1 385.9,66.1C387,66.1 388.1,66.1 389.2,66.1C390.4,66.2 391.5,66.2 392.6,66.2C393.8,66.2 394.9,66.3 396,66.3C397.1,66.3 398.2,66.3 399.4,66.4C400.5,66.4 401.6,66.4 402.8,66.4C403.9,66.5 405,66.5 406.1,66.5C407.2,66.5 408.4,66.5 409.5,66.5C410.6,66.5 411.8,66.5 412.9,66.5C414,66.5 415.1,66.5 416.2,66.5C417.4,66.5 418.5,66.5 419.6,66.4C420.8,66.4 421.9,66.4 423,66.3C424.1,66.3 425.2,66.2 426.4,66.2C427.5,66.1 428.6,66 429.8,65.9C430.9,65.8 432,65.7 433.1,65.6C434.2,65.5 435.4,65.4 436.5,65.2C437.6,65.1 438.8,64.9 439.9,64.7C441,64.5 442.1,64.2 443.2,64C444.4,63.7 445.5,63.4 446.6,63C447.8,62.7 449.4,62 450,61.8" fill="none" stroke="#000" stroke-width="1.6" stroke-linejoin="round" stroke-linecap="round" />
<path d="M326,61.8C326.5,61.9 327.9,62.4 328.9,62.7C329.8,63 330.8,63.2 331.7,63.4C332.6,63.6 333.6,63.8 334.6,63.9C335.5,64.1 336.4,64.2 337.4,64.4C338.3,64.5 339.3,64.6 340.2,64.7C341.2,64.8 342.2,64.8 343.1,64.9C344.1,65 345,65 345.9,65.1C346.9,65.1 347.9,65.2 348.8,65.2C349.8,65.2 350.7,65.3 351.6,65.3C352.6,65.3 353.6,65.3 354.5,65.3C355.4,65.3 356.4,65.3 357.4,65.3C358.3,65.3 359.2,65.3 360.2,65.3C361.1,65.3 362.1,65.3 363.1,65.3C364,65.3 364.9,65.3 365.9,65.3C366.8,65.3 367.8,65.3 368.8,65.3C369.7,65.3 370.7,65.3 371.6,65.2C372.6,65.2 373.5,65.2 374.4,65.2C375.4,65.2 376.4,65.2 377.3,65.2C378.2,65.2 379.2,65.2 380.1,65.2C381.1,65.2 382.1,65.3 383,65.3C383.9,65.3 384.9,65.3 385.9,65.3C386.8,65.3 387.8,65.3 388.7,65.3C389.6,65.3 390.6,65.4 391.6,65.4C392.5,65.4 393.4,65.4 394.4,65.4C395.3,65.4 396.3,65.4 397.2,65.4C398.2,65.5 399.2,65.5 400.1,65.5C401.1,65.5 402,65.5 402.9,65.5C403.9,65.5 404.9,65.5 405.8,65.5C406.8,65.5 407.7,65.5 408.6,65.5C409.6,65.5 410.6,65.4 411.5,65.4C412.4,65.4 413.4,65.4 414.4,65.4C415.3,65.3 416.2,65.3 417.2,65.2C418.1,65.2 419.1,65.1 420.1,65.1C421,65 421.9,65 422.9,64.9C423.8,64.8 424.8,64.7 425.8,64.6C426.7,64.5 427.7,64.4 428.6,64.3C429.6,64.2 430.5,64 431.4,63.9C432.4,63.7 433.4,63.5 434.3,63.3C435.2,63.1 436.2,62.9 437.1,62.6C438.1,62.4 439.5,61.9 440,61.8" fill="none" stroke="#000" stroke-width="2.6" stroke-linejoin="round" stroke-linecap="round" />
<path d="M338,61.8C338.4,61.9 339.5,62.3 340.2,62.5C341,62.7 341.8,62.9 342.5,63C343.2,63.2 344,63.3 344.8,63.5C345.5,63.6 346.2,63.7 347,63.8C347.8,63.9 348.5,64 349.2,64C350,64.1 350.8,64.2 351.5,64.2C352.2,64.3 353,64.3 353.8,64.3C354.5,64.4 355.2,64.4 356,64.4C356.8,64.5 357.5,64.5 358.2,64.5C359,64.5 359.8,64.5 360.5,64.5C361.2,64.5 362,64.5 362.8,64.6C363.5,64.6 364.2,64.6 365,64.6C365.8,64.6 366.5,64.6 367.2,64.6C368,64.6 368.8,64.6 369.5,64.6C370.2,64.6 371,64.6 371.8,64.6C372.5,64.6 373.2,64.6 374,64.6C374.8,64.5 375.5,64.5 376.2,64.5C377,64.5 377.8,64.5 378.5,64.5C379.2,64.5 380,64.5 380.8,64.5C381.5,64.5 382.2,64.6 383,64.6C383.8,64.6 384.5,64.6 385.2,64.6C386,64.6 386.8,64.6 387.5,64.6C388.2,64.6 389,64.6 389.8,64.6C390.5,64.6 391.2,64.6 392,64.6C392.8,64.6 393.5,64.6 394.2,64.6C395,64.6 395.8,64.6 396.5,64.6C397.2,64.6 398,64.6 398.8,64.6C399.5,64.6 400.2,64.5 401,64.5C401.8,64.5 402.5,64.5 403.2,64.5C404,64.5 404.8,64.5 405.5,64.4C406.2,64.4 407,64.4 407.8,64.3C408.5,64.3 409.2,64.3 410,64.2C410.8,64.2 411.5,64.2 412.2,64.1C413,64.1 413.8,64 414.5,63.9C415.2,63.9 416,63.8 416.8,63.7C417.5,63.6 418.2,63.6 419,63.5C419.8,63.4 420.5,63.3 421.2,63.2C422,63 422.8,62.9 423.5,62.8C424.2,62.6 425,62.5 425.8,62.3C426.5,62.2 427.6,61.9 428,61.8" fill="none" stroke="#000" stroke-width="1.6" stroke-linejoin="round" stroke-linecap="round" />
<path d="M350,61.8C350.3,61.9 351.1,62.1 351.6,62.3C352.1,62.4 352.7,62.5 353.2,62.7C353.7,62.8 354.3,62.9 354.8,62.9C355.3,63 355.9,63.1 356.4,63.2C356.9,63.2 357.5,63.3 358,63.3C358.5,63.4 359.1,63.4 359.6,63.5C360.1,63.5 360.7,63.5 361.2,63.6C361.7,63.6 362.3,63.6 362.8,63.6C363.3,63.7 363.9,63.7 364.4,63.7C364.9,63.7 365.5,63.7 366,63.7C366.5,63.7 367.1,63.7 367.6,63.7C368.1,63.7 368.7,63.7 369.2,63.7C369.7,63.8 370.3,63.8 370.8,63.8C371.3,63.8 371.9,63.8 372.4,63.8C372.9,63.8 373.5,63.8 374,63.8C374.5,63.8 375.1,63.8 375.6,63.7C376.1,63.7 376.7,63.7 377.2,63.7C377.7,63.7 378.3,63.7 378.8,63.7C379.3,63.7 379.9,63.7 380.4,63.7C380.9,63.7 381.5,63.7 382,63.7C382.5,63.7 383.1,63.7 383.6,63.7C384.1,63.7 384.7,63.7 385.2,63.7C385.7,63.7 386.3,63.7 386.8,63.7C387.3,63.7 387.9,63.6 388.4,63.6C388.9,63.6 389.5,63.6 390,63.6C390.5,63.6 391.1,63.6 391.6,63.6C392.1,63.6 392.7,63.6 393.2,63.5C393.7,63.5 394.3,63.5 394.8,63.5C395.3,63.5 395.9,63.5 396.4,63.4C396.9,63.4 397.5,63.4 398,63.4C398.5,63.4 399.1,63.3 399.6,63.3C400.1,63.3 400.7,63.3 401.2,63.2C401.7,63.2 402.3,63.2 402.8,63.1C403.3,63.1 403.9,63 404.4,63C404.9,63 405.5,62.9 406,62.9C406.5,62.8 407.1,62.8 407.6,62.7C408.1,62.7 408.7,62.6 409.2,62.5C409.7,62.5 410.3,62.4 410.8,62.3C411.3,62.2 411.9,62.2 412.4,62.1C412.9,62 413.7,61.8 414,61.8" fill="none" stroke="#000" stroke-width="2.6" stroke-linejoin="round" stroke-linecap="round" />
<path d="M158,62C157,64 154.3,70 152,74C149.7,78 146.5,82 144,86C141.5,90 138.8,95.2 137,98C135.2,100.8 133.7,102.2 133,103" fill="none" stroke="#000" stroke-width="1.5" stroke-linejoin="round" stroke-linecap="round" />
<path d="M146,64C146.3,65 148.5,68.2 148,70C147.5,71.8 144.7,73.8 143,75C141.3,76.2 139.3,75.5 138,77C136.7,78.5 135.7,81.5 135,84C134.3,86.5 134.5,89.5 134,92C133.5,94.5 132.3,97.8 132,99" fill="none" stroke="#000" stroke-width="2.2" stroke-linejoin="round" stroke-linecap="round" />
<path d="M136,64C135.7,65 135,68.3 134,70C133,71.7 130.7,73.3 130,74" fill="none" stroke="#000" stroke-width="1.0" stroke-linejoin="round" stroke-linecap="round" stroke-dasharray="3 2" />
<path d="M152,323C152.4,322.8 153.1,330.5 153.2,335C153.3,339.5 152.8,349.8 152.4,350C152,350.2 151.1,340.5 151,336C150.9,331.5 151.6,323.2 152,323Z" fill="none" stroke="#000" stroke-width="1.0" stroke-linejoin="round" stroke-linecap="round" />
</g>
<path d="M90,61.8 127.5,61.8 127.5,70 129,80 132.4,100 132.6,180 136,195 136,298 142.6,332 147.4,332 149.6,355.6 162.4,355.6 165.4,383 185,383 188,414 206.6,414 209.6,383 261.4,383 264.4,414 277,414 280,383 283.6,383 286.6,414 312,414 315,383 338,383 341,355.6 347.6,355.6 350.6,383 353.6,414 370,414 373,383 386,383 389,414 465.7,414 468.7,443.6 478.4,443.6 481.5,414 538.7,414 542,383 545.6,383 545.8,352 548.1,332 551.5,332 554.8,314 557.8,314 560.9,298 565.4,298 571.6,266 571.6,160 575,154 575,80 579,80 579,66 599,66 599,80 602.6,81 602.6,210 605.4,220 605.4,280 609,296 609,314 638,314 641,332 653.8,332 657,355.6 664.8,355.6 664.8,445.6 90,445.6Z" fill="#000" />
<rect x="90" y="61.8" width="574.8" height="383.8" fill="none" stroke="#000" stroke-width="4.2"/>
<path d="M90,61.8v-9.9M90,445.6v9.9M121.9,61.8v-7.3M121.9,445.6v7.3M153.9,61.8v-7.3M153.9,445.6v7.3M185.8,61.8v-9.9M185.8,445.6v9.9M217.7,61.8v-7.3M217.7,445.6v7.3M249.7,61.8v-7.3M249.7,445.6v7.3M281.6,61.8v-9.9M281.6,445.6v9.9M313.5,61.8v-7.3M313.5,445.6v7.3M345.5,61.8v-7.3M345.5,445.6v7.3M377.4,61.8v-9.9M377.4,445.6v9.9M409.3,61.8v-7.3M409.3,445.6v7.3M441.3,61.8v-7.3M441.3,445.6v7.3M473.2,61.8v-9.9M473.2,445.6v9.9M505.1,61.8v-7.3M505.1,445.6v7.3M537.1,61.8v-7.3M537.1,445.6v7.3M569,61.8v-9.9M569,445.6v9.9M600.9,61.8v-7.3M600.9,445.6v7.3M632.9,61.8v-7.3M632.9,445.6v7.3M664.8,61.8v-9.9M664.8,445.6v9.9M90,61.8h-9.9M664.8,61.8h9.9M90,92.8h-7.3M664.8,92.8h7.3M90,123.7h-7.3M664.8,123.7h7.3M90,154.6h-7.3M664.8,154.6h7.3M90,185.6h-9.9M664.8,185.6h9.9M90,216.6h-7.3M664.8,216.6h7.3M90,247.5h-7.3M664.8,247.5h7.3M90,278.4h-7.3M664.8,278.4h7.3M90,309.4h-9.9M664.8,309.4h9.9M90,340.4h-7.3M664.8,340.4h7.3M90,371.3h-7.3M664.8,371.3h7.3M90,402.2h-7.3M664.8,402.2h7.3M90,433.2h-9.9M664.8,433.2h9.9" stroke="#000" stroke-width="4.2" stroke-linecap="round" fill="none"/>
<text x="90" y="487.5" font-size="29" text-anchor="middle" font-weight="bold" textLength="47.5" lengthAdjust="spacingAndGlyphs">90S</text>
<text x="185.8" y="487.5" font-size="29" text-anchor="middle" font-weight="bold" textLength="47.5" lengthAdjust="spacingAndGlyphs">60S</text>
<text x="281.6" y="487.5" font-size="29" text-anchor="middle" font-weight="bold" textLength="47.5" lengthAdjust="spacingAndGlyphs">30S</text>
<text x="377.4" y="487.5" font-size="29" text-anchor="middle" font-weight="bold" textLength="46" lengthAdjust="spacingAndGlyphs">EQ.</text>
<text x="473.2" y="487.5" font-size="29" text-anchor="middle" font-weight="bold" textLength="48.9" lengthAdjust="spacingAndGlyphs">30N</text>
<text x="569" y="487.5" font-size="29" text-anchor="middle" font-weight="bold" textLength="48.9" lengthAdjust="spacingAndGlyphs">60N</text>
<text x="664.8" y="487.5" font-size="29" text-anchor="middle" font-weight="bold" textLength="48.9" lengthAdjust="spacingAndGlyphs">90N</text>
<text x="67.3" y="72.2" font-size="29" text-anchor="end" font-weight="bold">0</text>
<text x="67.3" y="196" font-size="29" text-anchor="end" font-weight="bold">2</text>
<text x="67.3" y="319.8" font-size="29" text-anchor="end" font-weight="bold">4</text>
<text x="67.3" y="443.6" font-size="29" text-anchor="end" font-weight="bold">6</text>
<text x="29.6" y="254" font-size="35" text-anchor="middle" textLength="177" lengthAdjust="spacingAndGlyphs" transform="rotate(-90 29.6 254)" xml:space="preserve" stroke="#000" stroke-width="1.5" stroke-linejoin="round">Depth  (km)</text>
<rect x="694" y="429.3" width="19" height="16.6" fill="#000064" />
<rect x="694" y="413.3" width="19" height="16.6" fill="#000096" />
<rect x="694" y="397.3" width="19" height="16.6" fill="#0000c8" />
<rect x="694" y="381.3" width="19" height="16.6" fill="#0000ff" />
<rect x="694" y="365.3" width="19" height="16.6" fill="#0046ff" />
<rect x="694" y="349.4" width="19" height="16.6" fill="#0082ff" />
<rect x="694" y="333.4" width="19" height="16.6" fill="#28aaff" />
<rect x="694" y="317.4" width="19" height="16.6" fill="#46d7ff" />
<rect x="694" y="301.4" width="19" height="16.6" fill="#6ef5ff" />
<rect x="694" y="285.4" width="19" height="16.6" fill="#96ffff" />
<rect x="694" y="269.4" width="19" height="16.6" fill="#c8ffff" />
<rect x="694" y="253.4" width="19" height="16.6" fill="#ffffff" />
<rect x="694" y="237.4" width="19" height="16.6" fill="#ffffff" />
<rect x="694" y="221.4" width="19" height="16.6" fill="#ffffc8" />
<rect x="694" y="205.4" width="19" height="16.6" fill="#ffff96" />
<rect x="694" y="189.4" width="19" height="16.6" fill="#ffff64" />
<rect x="694" y="173.4" width="19" height="16.6" fill="#ffe646" />
<rect x="694" y="157.4" width="19" height="16.6" fill="#ffaa28" />
<rect x="694" y="141.5" width="19" height="16.6" fill="#ff7800" />
<rect x="694" y="125.5" width="19" height="16.6" fill="#ff4600" />
<rect x="694" y="109.5" width="19" height="16.6" fill="#ff0000" />
<rect x="694" y="93.5" width="19" height="16.6" fill="#c80000" />
<rect x="694" y="77.5" width="19" height="16.6" fill="#960000" />
<rect x="694" y="61.5" width="19" height="16.6" fill="#5a0000" />
<path d="M694,59.7V447.7" stroke="#000" stroke-width="4.2" fill="none"/>
<path d="M713,59.7V447.7" stroke="#000" stroke-width="4.2" fill="none"/>
<path d="M691.9,445.6H729.5" stroke="#000" stroke-width="4.2" fill="none"/>
<path d="M713,429.6H722.5" stroke="#000" stroke-width="3.7800000000000002" fill="none"/>
<path d="M713,413.6H722.5" stroke="#000" stroke-width="3.7800000000000002" fill="none"/>
<path d="M713,397.6H722.5" stroke="#000" stroke-width="3.7800000000000002" fill="none"/>
<path d="M713,381.6H729.5" stroke="#000" stroke-width="4.2" fill="none"/>
<path d="M713,365.6H722.5" stroke="#000" stroke-width="3.7800000000000002" fill="none"/>
<path d="M713,349.7H722.5" stroke="#000" stroke-width="3.7800000000000002" fill="none"/>
<path d="M713,333.7H722.5" stroke="#000" stroke-width="3.7800000000000002" fill="none"/>
<path d="M713,317.7H729.5" stroke="#000" stroke-width="4.2" fill="none"/>
<path d="M713,301.7H722.5" stroke="#000" stroke-width="3.7800000000000002" fill="none"/>
<path d="M713,285.7H722.5" stroke="#000" stroke-width="3.7800000000000002" fill="none"/>
<path d="M713,269.7H722.5" stroke="#000" stroke-width="3.7800000000000002" fill="none"/>
<path d="M713,253.7H729.5" stroke="#000" stroke-width="4.2" fill="none"/>
<path d="M713,237.7H722.5" stroke="#000" stroke-width="3.7800000000000002" fill="none"/>
<path d="M713,221.7H722.5" stroke="#000" stroke-width="3.7800000000000002" fill="none"/>
<path d="M713,205.7H722.5" stroke="#000" stroke-width="3.7800000000000002" fill="none"/>
<path d="M713,189.7H729.5" stroke="#000" stroke-width="4.2" fill="none"/>
<path d="M713,173.7H722.5" stroke="#000" stroke-width="3.7800000000000002" fill="none"/>
<path d="M713,157.8H722.5" stroke="#000" stroke-width="3.7800000000000002" fill="none"/>
<path d="M713,141.8H722.5" stroke="#000" stroke-width="3.7800000000000002" fill="none"/>
<path d="M713,125.8H729.5" stroke="#000" stroke-width="4.2" fill="none"/>
<path d="M713,109.8H722.5" stroke="#000" stroke-width="3.7800000000000002" fill="none"/>
<path d="M713,93.8H722.5" stroke="#000" stroke-width="3.7800000000000002" fill="none"/>
<path d="M713,77.8H722.5" stroke="#000" stroke-width="3.7800000000000002" fill="none"/>
<path d="M691.9,61.8H729.5" stroke="#000" stroke-width="4.2" fill="none"/>
<text x="788" y="453.6" font-size="22" text-anchor="end" font-weight="bold">−3.0</text>
<text x="788" y="389.6" font-size="22" text-anchor="end" font-weight="bold">−2.0</text>
<text x="788" y="325.7" font-size="22" text-anchor="end" font-weight="bold">−1.0</text>
<text x="788" y="261.7" font-size="22" text-anchor="end" font-weight="bold">0.0</text>
<text x="788" y="197.7" font-size="22" text-anchor="end" font-weight="bold">1.0</text>
<text x="788" y="133.8" font-size="22" text-anchor="end" font-weight="bold">2.0</text>
<text x="788" y="69.8" font-size="22" text-anchor="end" font-weight="bold">3.0</text>
<text x="11.5" y="35" font-size="43">a</text>
<text x="376" y="30" font-size="36.4" text-anchor="middle">Temperature difference</text>
<text x="711" y="30" font-size="35.5" textLength="57" lengthAdjust="spacingAndGlyphs">(°C)</text>
</g>
<g id="pb">
<defs><clipPath id="cb"><rect x="906.5" y="54.7" width="574.7" height="383.8"/></clipPath></defs>
<g clip-path="url(#cb)">
<path d="M930,40C1015,19.1 1355,26.2 1440,40C1525,53.8 1445.3,108.9 1440,122.7C1434.7,136.5 1416.5,122.7 1408.2,122.7C1399.8,122.7 1400.6,123.2 1390,122.7C1379.4,122.3 1359.7,119.5 1344.5,120C1329.4,120.5 1315.8,124.3 1299.1,125.5C1282.4,126.6 1261.1,126 1244.5,126.9C1228,127.8 1215,129.3 1200,130.9C1185,132.5 1168.2,134.5 1154.5,136.4C1140.9,138.2 1130.3,140.2 1118.2,141.8C1106.1,143.5 1090.9,145.2 1081.8,146.4C1072.7,147.6 1069.7,148.9 1063.6,149.1C1057.6,149.2 1051.5,149.4 1045.5,147.3C1039.4,145.2 1033.3,140.6 1027.3,136.4C1021.2,132.1 1014.8,125.8 1009.1,121.8C1003.3,117.9 997.6,112.1 992.7,112.7C987.9,113.3 983.9,121.2 980,125.5C976.1,129.7 972.4,134.8 969.1,138.2C965.8,141.5 962.7,141.8 960,145.5C957.3,149.1 956.7,156.7 952.7,160C948.8,163.3 940.2,164.5 936.4,165.5C932.6,166.4 931.1,186.4 930,165.5C928.9,144.5 845,60.9 930,40Z" fill="#c8ffff" />
<path d="M930,40C1015,21.2 1355,27.6 1440,40C1525,52.4 1445.3,102.1 1440,114.5C1434.7,127 1416.5,114.5 1408.2,114.5C1399.8,114.5 1399.1,114.8 1390,114.5C1380.9,114.2 1365.8,112.4 1353.6,112.7C1341.5,113 1332.4,115.5 1317.3,116.4C1302.1,117.3 1282.3,117 1262.7,118.2C1243.2,119.4 1218,121.8 1200,123.6C1182,125.5 1168.2,127.3 1154.5,129.1C1140.9,130.9 1130.3,132.9 1118.2,134.5C1106.1,136.2 1092.4,138.3 1081.8,139.1C1071.2,139.8 1062.1,140.5 1054.5,139.1C1047,137.7 1042.4,134.4 1036.4,130.9C1030.3,127.4 1023.9,122.7 1018.2,118.2C1012.4,113.6 1006.1,106.7 1001.8,103.6C997.6,100.6 996.1,99.1 992.7,100C989.4,100.9 985.8,105.5 981.8,109.1C977.9,112.7 972.7,118.2 969.1,121.8C965.5,125.5 963,126.4 960,130.9C957,135.5 954.8,145.5 950.9,149.1C947,152.7 939.8,152.1 936.4,152.7C932.9,153.3 931.1,171.5 930,152.7C928.9,133.9 845,58.8 930,40Z" fill="#96ffff" />
<path d="M930,40C1015,23.6 1355,28.8 1440,40C1525,51.2 1445.3,96.1 1440,107.3C1434.7,118.5 1416.5,107.3 1408.2,107.3C1399.8,107.3 1402.1,107.9 1390,107.3C1377.9,106.7 1353.6,103.3 1335.5,103.6C1317.3,103.9 1303.5,107 1280.9,109.1C1258.3,111.2 1221.1,114.2 1200,116.4C1178.9,118.5 1168.2,120 1154.5,121.8C1140.9,123.6 1130.3,125.5 1118.2,127.3C1106.1,129.1 1092.4,132.1 1081.8,132.7C1071.2,133.3 1062.1,132.7 1054.5,130.9C1047,129.1 1042.4,125.8 1036.4,121.8C1030.3,117.9 1023.3,112.1 1018.2,107.3C1013,102.4 1009.7,95.8 1005.5,92.7C1001.2,89.7 996.7,88.5 992.7,89.1C988.8,89.7 985.8,93.3 981.8,96.4C977.9,99.4 973.6,102.7 969.1,107.3C964.5,111.8 957.7,119.1 954.5,123.6C951.4,128.2 953,132.1 950,134.5C947,137 939.7,137.6 936.4,138.2C933,138.8 931.1,154.5 930,138.2C928.9,121.8 845,56.4 930,40Z" fill="#6ef5ff" />
<path d="M930,40C1015,26.7 1355,29.7 1440,40C1525,50.3 1445.3,91.5 1440,101.8C1434.7,112.1 1416.5,101.8 1408.2,101.8C1399.8,101.8 1402.1,102.4 1390,101.8C1377.9,101.2 1352.1,98 1335.5,98.2C1318.8,98.3 1305.2,101.8 1290,102.7C1274.8,103.6 1259.5,102.6 1244.5,103.6C1229.5,104.7 1215,107.3 1200,109.1C1185,110.9 1168.2,112.1 1154.5,114.5C1140.9,117 1128.8,121.8 1118.2,123.6C1107.6,125.5 1100,125.8 1090.9,125.5C1081.8,125.2 1071.2,123.6 1063.6,121.8C1056.1,120 1051.5,117.9 1045.5,114.5C1039.4,111.2 1032.7,107 1027.3,101.8C1021.8,96.7 1017,87.3 1012.7,83.6C1008.5,80 1005.5,80.3 1001.8,80C998.2,79.7 994.8,80.6 990.9,81.8C987,83 982.7,84.2 978.2,87.3C973.6,90.3 968.2,95.2 963.6,100C959.1,104.8 955.5,113 950.9,116.4C946.4,119.7 939.8,119.4 936.4,120C932.9,120.6 931.1,133.3 930,120C928.9,106.7 845,53.3 930,40Z" fill="#46d7ff" />
<path d="M930,40C1015,28.8 1355,30 1440,40C1525,50 1445.3,90 1440,100C1434.7,110 1416.5,100 1408.2,100C1399.8,100 1397.6,100.6 1390,100C1382.4,99.4 1371.8,97.3 1362.7,96.4C1353.6,95.5 1346.1,94.5 1335.5,94.5C1324.8,94.5 1311.2,95.8 1299.1,96.4C1287,97 1274.8,98.2 1262.7,98.2C1250.6,98.2 1236.8,96.1 1226.4,96.4C1215.9,96.7 1210.5,98.5 1200,100C1189.5,101.5 1175.8,102.7 1163.6,105.5C1151.5,108.2 1137.9,113.5 1127.3,116.4C1116.7,119.2 1109.1,122.4 1100,122.7C1090.9,123 1080.3,120.2 1072.7,118.2C1065.2,116.2 1060.6,113.9 1054.5,110.9C1048.5,107.9 1041.5,103.6 1036.4,100C1031.2,96.4 1027,93 1023.6,89.1C1020.3,85.2 1019.4,79.1 1016.4,76.4C1013.3,73.6 1010.3,72.7 1005.5,72.7C1000.6,72.7 992.7,74.5 987.3,76.4C981.8,78.2 977.3,80.6 972.7,83.6C968.2,86.7 963.9,91.2 960,94.5C956.1,97.9 953,101.5 949.1,103.6C945.2,105.8 939.5,106.7 936.4,107.3C933.2,107.9 931.1,118.5 930,107.3C928.9,96.1 845,51.2 930,40Z" fill="#28aaff" />
<path d="M936.4,50.9C956.7,42.7 1037.6,48.2 1058.2,50.9C1078.8,53.6 1058.5,63 1060,67.3C1061.5,71.5 1063.6,73 1067.3,76.4C1070.9,79.7 1076.4,84.5 1081.8,87.3C1087.3,90 1093.9,91.5 1100,92.7C1106.1,93.9 1109.1,95.5 1118.2,94.5C1127.3,93.6 1140.9,89.4 1154.5,87.3C1168.2,85.2 1192.4,81.5 1200,81.8C1207.6,82.1 1204.5,87 1200,89.1C1195.5,91.2 1180.3,92.7 1172.7,94.5C1165.2,96.4 1162.1,97.3 1154.5,100C1147,102.7 1136.4,107.9 1127.3,110.9C1118.2,113.9 1109.1,117.6 1100,118.2C1090.9,118.8 1080.3,116.4 1072.7,114.5C1065.2,112.7 1060.6,110 1054.5,107.3C1048.5,104.5 1041.2,101.2 1036.4,98.2C1031.5,95.2 1027,92.1 1025.5,89.1C1023.9,86.1 1025.8,82.4 1027.3,80C1028.8,77.6 1034.5,76.1 1034.5,74.5C1034.5,73 1031.5,71.5 1027.3,70.9C1023,70.3 1015.2,70.6 1009.1,70.9C1003,71.2 997,71.1 990.9,72.7C984.8,74.4 978.2,77.9 972.7,80.9C967.3,83.9 962.4,88 958.2,90.9C953.9,93.8 950.9,96.7 947.3,98.2C943.6,99.7 938.2,107.9 936.4,100C934.5,92.1 916.1,59.1 936.4,50.9Z" fill="#0082ff" />
<path d="M936.4,50.9C955.2,43.6 1030.9,49.1 1049.1,50.9C1067.3,52.7 1047.9,59.2 1045.5,61.8C1043,64.4 1039.1,65.5 1034.5,66.4C1030,67.3 1023.9,67.1 1018.2,67.3C1012.4,67.4 1006.1,67 1000,67.3C993.9,67.6 987,67.6 981.8,69.1C976.7,70.6 973,73.6 969.1,76.4C965.2,79.1 961.8,82.7 958.2,85.5C954.5,88.2 950.9,91.2 947.3,92.7C943.6,94.2 938.2,101.5 936.4,94.5C934.5,87.6 917.6,58.2 936.4,50.9Z" fill="#0046ff" />
<path d="M1044.5,85.5C1045,84.5 1048.9,83.6 1050.9,84.2C1052.9,84.7 1056.1,87.5 1056.7,88.7C1057.3,90 1056,91.6 1054.5,91.8C1053.1,92 1049.8,91.1 1048.2,90C1046.5,88.9 1044.1,86.4 1044.5,85.5Z" fill="#0046ff" />
<path d="M980,50.9C987.3,48.7 1021.2,48.9 1029.1,50.9C1037,52.9 1029.1,60.5 1027.3,62.7C1025.5,65 1022.7,64.2 1018.2,64.5C1013.6,64.8 1005.5,64.6 1000,64.5C994.5,64.5 988.8,66.3 985.5,64C982.1,61.7 972.7,53.1 980,50.9Z" fill="#0000ff" />
<path d="M943.6,76.4C944.8,73.3 951.8,71.2 954.5,70.9C957.3,70.6 960,72.4 960,74.5C960,76.7 956.7,81.2 954.5,83.6C952.4,86.1 949.1,90.3 947.3,89.1C945.5,87.9 942.4,79.4 943.6,76.4Z" fill="#0000ff" />
<path d="M941.8,50.9C943.9,48.2 952.7,49.4 954.5,50.9C956.4,52.4 954.5,57.3 952.7,60C950.9,62.7 945.5,66.1 943.6,67.3C941.8,68.5 942.1,70 941.8,67.3C941.5,64.5 939.7,53.6 941.8,50.9Z" fill="#46d7ff" />
<path d="M941.8,50.9C942.9,49.1 948.2,49.7 949.1,50.9C950,52.1 948.3,56.4 947.3,58.2C946.2,60 943.6,63 942.7,61.8C941.8,60.6 940.8,52.7 941.8,50.9Z" fill="#96ffff" />
<path d="M1186.4,79.1C1190,77.4 1202.1,83 1208.2,84.5C1214.2,86.1 1222.7,86.8 1222.7,88.2C1222.7,89.5 1214.2,91.7 1208.2,92.7C1202.1,93.8 1190,96.8 1186.4,94.5C1182.7,92.3 1182.7,80.8 1186.4,79.1Z" fill="#0082ff" />
<path d="M1257.3,93.6C1258.2,92.4 1266.1,90.5 1271.8,90.9C1277.6,91.4 1290.3,94.8 1291.8,96.4C1293.3,97.9 1285.2,99.7 1280.9,100C1276.7,100.3 1270.3,99.2 1266.4,98.2C1262.4,97.1 1256.4,94.8 1257.3,93.6Z" fill="#0082ff" />
<path d="M1315.5,89.1C1318.5,86.8 1330.6,81.4 1335.5,79.1C1340.3,76.8 1340,75.8 1344.5,75.5C1349.1,75.2 1356.7,76.2 1362.7,77.3C1368.8,78.3 1375.8,80.3 1380.9,81.8C1386.1,83.3 1391.5,83.6 1393.6,86.4C1395.8,89.1 1397.3,97.3 1393.6,98.2C1390,99.1 1377,93.3 1371.8,91.8C1366.7,90.3 1367.3,89.9 1362.7,89.1C1358.2,88.3 1349.1,86.9 1344.5,86.9C1340,86.9 1338.5,87.8 1335.5,89.1C1332.4,90.4 1329.4,93.9 1326.4,94.5C1323.3,95.2 1319.1,93.6 1317.3,92.7C1315.5,91.8 1312.4,91.4 1315.5,89.1Z" fill="#0082ff" />
<path d="M1371.8,83.3C1372.9,82.8 1377.4,83 1379.1,83.6C1380.8,84.2 1382.1,86.1 1381.8,86.9C1381.5,87.8 1378.8,88.8 1377.3,88.7C1375.8,88.6 1373.6,87.3 1372.7,86.4C1371.8,85.5 1370.8,83.7 1371.8,83.3Z" fill="#0046ff" />
<path d="M1074.5,50.9C1096.1,49.7 1179.1,48.2 1200,50.9C1220.9,53.6 1203,63.6 1200,67.3C1197,70.9 1187.9,70.8 1181.8,72.7C1175.8,74.7 1169.7,77.3 1163.6,79.1C1157.6,80.9 1153,82.6 1145.5,83.6C1137.9,84.7 1125.8,85 1118.2,85.5C1110.6,85.9 1105.5,87 1100,86.4C1094.5,85.8 1090,83.8 1085.5,81.8C1080.9,79.8 1075.6,77 1072.7,74.5C1069.8,72.1 1068.5,70 1068.2,67.3C1067.9,64.5 1069.8,60.9 1070.9,58.2C1072,55.5 1053,52.1 1074.5,50.9Z" fill="#46d7ff" />
<path d="M1077.3,50.9C1098.3,49.7 1179.5,48.6 1200,50.9C1220.5,53.2 1203,61.4 1200,64.5C1197,67.7 1187.9,68 1181.8,70C1175.8,72 1169.7,74.5 1163.6,76.4C1157.6,78.2 1153,79.8 1145.5,80.9C1137.9,82 1125.8,82.3 1118.2,82.7C1110.6,83.2 1105.2,84.2 1100,83.6C1094.8,83 1091.4,80.9 1087.3,79.1C1083.2,77.3 1078.2,74.7 1075.5,72.7C1072.7,70.8 1071.2,69.7 1070.9,67.3C1070.6,64.8 1072.6,60.9 1073.6,58.2C1074.7,55.5 1056.2,52.1 1077.3,50.9Z" fill="#6ef5ff" />
<path d="M1079.1,50.9C1099.7,49.7 1179.8,49.1 1200,50.9C1220.2,52.7 1203,59.1 1200,61.8C1197,64.5 1189.4,65.2 1181.8,67.3C1174.2,69.4 1163.6,72.7 1154.5,74.5C1145.5,76.4 1134.8,77.4 1127.3,78.2C1119.7,78.9 1115.2,79.4 1109.1,79.1C1103,78.8 1095.8,77.7 1090.9,76.4C1086.1,75 1082.7,72.7 1080,70.9C1077.3,69.1 1075.2,67.6 1074.5,65.5C1073.9,63.3 1075.6,60.6 1076.4,58.2C1077.1,55.8 1058.5,52.1 1079.1,50.9Z" fill="#96ffff" />
<path d="M1081.8,50.9C1101.8,49.7 1180.3,49.5 1200,50.9C1219.7,52.3 1204.5,56.7 1200,59.1C1195.5,61.5 1181.8,63.5 1172.7,65.5C1163.6,67.4 1154.5,69.5 1145.5,70.9C1136.4,72.3 1125.8,73.3 1118.2,73.6C1110.6,73.9 1105.5,73.5 1100,72.7C1094.5,72 1088.9,70.6 1085.5,69.1C1082,67.6 1080,65.5 1079.1,63.6C1078.2,61.8 1079.5,60.3 1080,58.2C1080.5,56.1 1061.8,52.1 1081.8,50.9Z" fill="#c8ffff" />
<path d="M1109.1,67.3C1110.6,68 1127.3,70 1136.4,70C1145.5,70 1156.1,68.5 1163.6,67.3C1171.2,66.1 1183.3,63.2 1181.8,62.7C1180.3,62.3 1163.6,64.1 1154.5,64.5C1145.5,65 1134.8,65 1127.3,65.5C1119.7,65.9 1107.6,66.5 1109.1,67.3Z" fill="#ffffff" />
<path d="M1186.4,50.9C1206.4,44.2 1287,46.7 1306.4,50.9C1325.8,55.2 1305.2,70.8 1302.7,76.4C1300.3,82 1295.5,83.2 1291.8,84.5C1288.2,85.9 1285.8,85.5 1280.9,84.5C1276.1,83.6 1268.8,80.6 1262.7,79.1C1256.7,77.6 1249.4,76.4 1244.5,75.5C1239.7,74.5 1238.2,73 1233.6,73.6C1229.1,74.2 1223,77 1217.3,79.1C1211.5,81.2 1204.2,84.4 1199.1,86.4C1193.9,88.3 1188.5,96.8 1186.4,90.9C1184.2,85 1166.4,57.6 1186.4,50.9Z" fill="#6ef5ff" />
<path d="M1186.4,50.9C1206.1,45.8 1285.5,47.3 1304.5,50.9C1323.6,54.5 1303,67.6 1300.9,72.7C1298.8,77.9 1295.2,80.3 1291.8,81.8C1288.5,83.3 1285.8,82.9 1280.9,81.8C1276.1,80.8 1268.8,77.1 1262.7,75.5C1256.7,73.8 1250.6,72.6 1244.5,71.8C1238.5,71.1 1232.4,70.2 1226.4,70.9C1220.3,71.7 1214.8,74.5 1208.2,76.4C1201.5,78.2 1190,86.1 1186.4,81.8C1182.7,77.6 1166.7,56.1 1186.4,50.9Z" fill="#96ffff" />
<path d="M1186.4,50.9C1205.8,47.4 1283.9,47.9 1302.7,50.9C1321.5,53.9 1301.5,65.8 1299.1,69.1C1296.7,72.4 1292.7,70.9 1288.2,70.9C1283.6,70.9 1277.6,69.7 1271.8,69.1C1266.1,68.5 1259.7,67.9 1253.6,67.3C1247.6,66.7 1241.5,65.5 1235.5,65.5C1229.4,65.5 1223.3,66.5 1217.3,67.3C1211.2,68 1204.2,69.2 1199.1,70C1193.9,70.8 1188.5,75 1186.4,71.8C1184.2,68.6 1167,54.4 1186.4,50.9Z" fill="#c8ffff" />
<path d="M1306.4,50.9C1320.3,49.8 1380.6,47.6 1395.5,50.9C1410.3,54.2 1399.4,67.7 1395.5,70.9C1391.5,74.1 1378.8,70.6 1371.8,70C1364.8,69.4 1359.7,68.2 1353.6,67.3C1347.6,66.4 1340.9,65.5 1335.5,64.5C1330,63.6 1324.8,63 1320.9,61.8C1317,60.6 1314.2,59.1 1311.8,57.3C1309.4,55.5 1292.4,52 1306.4,50.9Z" fill="#ffffff" />
<path d="M1317.3,61.8C1316.1,62.7 1323.6,69.1 1328.2,70.9C1332.7,72.7 1338.8,72 1344.5,72.7C1350.3,73.5 1356.7,74.1 1362.7,75.5C1368.8,76.8 1375.8,79.2 1380.9,80.9C1386.1,82.6 1391.5,86.8 1393.6,85.5C1395.8,84.1 1397.3,75.2 1393.6,72.7C1390,70.3 1378.5,71.7 1371.8,70.9C1365.2,70.2 1359.7,69.1 1353.6,68.2C1347.6,67.3 1341.5,66.5 1335.5,65.5C1329.4,64.4 1318.5,60.9 1317.3,61.8Z" fill="#6ef5ff" />
<path d="M921.8,165.4C927.2,117.5 943.8,164.1 952.3,162.8C960.8,161.6 965.9,159.2 972.7,157.8C979.5,156.3 987.1,153.5 993,153.9C999,154.4 1003.2,157.1 1008.3,160.3C1013.4,163.5 1016.8,168.4 1023.6,173C1030.3,177.7 1040.5,184.1 1049,188.3C1057.5,192.5 1066,195.9 1074.5,198.5C1082.9,201 1091.4,201.9 1099.9,203.6C1108.4,205.3 1116.9,207 1125.3,208.7C1133.8,210.3 1143.2,211.6 1150.8,213.7C1158.4,215.9 1166.5,218.4 1171.1,221.4C1175.8,224.3 1175.8,231.1 1178.8,231.6C1181.7,232 1183,225.6 1189,223.9C1194.9,222.2 1205.9,221.4 1214.4,221.4C1222.9,221.4 1233,225.2 1239.8,223.9C1246.7,222.6 1248.6,215.2 1255.4,213.7C1262.3,212.3 1272.4,214.2 1280.9,215C1289.4,215.9 1295.7,216.5 1306.3,218.8C1316.9,221.2 1336,225.6 1344.5,229C1353,232.4 1354.3,234.9 1357.2,239.2C1360.2,243.4 1360.6,251.8 1362.3,254.5C1364,257.1 1366.1,249.2 1367.4,255.3C1368.7,261.3 1369.3,282.4 1369.9,290.9C1370.6,299.4 1371,296.8 1371.2,306.2C1371.5,315.5 1371.3,324 1371.5,346.9C1371.7,369.8 1447.7,426.4 1372.5,443.6C1297.2,460.8 995.1,496.4 920,450C844.9,403.6 916.4,213.3 921.8,165.4Z" fill="#ffffc8" />
<path d="M921.8,198.5C927.6,156.1 946.4,198.5 954.9,195.9C963.3,193.4 966.3,185.8 972.7,183.2C979,180.7 987.5,180 993,180.7C998.5,181.3 1001.5,184.1 1005.8,187C1010,190 1011.3,191.5 1018.5,198.5C1025.7,205.5 1039.7,219.7 1049,229C1058.3,238.3 1070.2,250.1 1074.5,254.5C1078.7,258.8 1070.2,250.5 1074.5,255.3C1078.7,260.1 1091.4,272.2 1099.9,283.3C1108.4,294.3 1116.9,312.9 1125.3,321.4C1133.8,329.9 1142.3,331.2 1150.8,334.1C1159.3,337.1 1169,337.1 1176.2,339.2C1183.4,341.4 1190.7,341.4 1194,346.9C1197.4,352.4 1194.9,362.3 1196.6,372.3C1198.3,382.3 1203,394.8 1204.2,406.7C1205.5,418.5 1251.6,436.3 1204.2,443.6C1156.9,450.8 967.1,490.8 920,450C872.9,409.2 916,240.8 921.8,198.5Z" fill="#ffff9c" />
<path d="M921.8,229C927.6,191.8 946.4,228.6 954.9,226.5C963.3,224.3 967.2,218.8 972.7,216.3C978.2,213.7 983.7,211.2 987.9,211.2C992.2,211.2 994.3,213.3 998.1,216.3C1001.9,219.3 1004.5,222.6 1010.8,229C1017.2,235.4 1035.9,252.6 1036.3,254.5C1036.7,256.3 1015.5,238.2 1013.4,240C1011.3,241.8 1018.9,257 1023.6,265.4C1028.2,273.9 1035,283.7 1041.4,290.9C1047.7,298.1 1054.9,304.9 1061.7,308.7C1068.5,312.5 1075.7,311.7 1082.1,313.8C1088.4,315.9 1094.8,317.6 1099.9,321.4C1105,325.2 1106.3,333.3 1112.6,336.7C1119,340.1 1132.6,337.5 1138.1,341.8C1143.6,346 1143.2,357 1145.7,362.1C1148.2,367.2 1151.6,358.7 1153.3,372.3C1155,385.9 1194.8,430.6 1155.9,443.6C1117,456.5 959,485.8 920,450C881,414.2 916,266.3 921.8,229Z" fill="#fffc7a" />
<path d="M952.3,293.4C952.5,288.6 955.9,295.3 958.7,294.7C961.4,294.1 966.9,286 968.9,289.6C970.8,293.2 970,307.2 970.6,316.3C971.3,325.5 974,339.2 972.7,344.3C971.3,349.4 965,350.3 962.5,346.9C959.9,343.5 959.1,332.9 957.4,324C955.7,315.1 952.1,298.3 952.3,293.4Z" fill="#ffe84a" />
<path d="M1023.6,374.9C1020.7,371 1024.2,356.4 1026.1,352C1028,347.5 1032.5,346.4 1035,348.1C1037.6,349.8 1040,357.7 1041.4,362.1C1042.8,366.6 1046.4,372.7 1043.4,374.9C1040.4,377 1026.4,378.7 1023.6,374.9Z" fill="#ffe84a" />
<path d="M1001.9,377.4C1003.6,370.8 1009.8,367.2 1013.4,367.2C1017,367.2 1021.9,370.8 1023.6,377.4C1025.3,384 1027,401.8 1023.6,406.7C1020.2,411.5 1006.8,411.5 1003.2,406.7C999.6,401.8 1000.2,384 1001.9,377.4Z" fill="#ffe84a" />
<path d="M1281,405C1283.3,399.2 1295.5,399.2 1298,405C1300.5,410.8 1298.3,434.2 1296,440C1293.7,445.8 1286.5,445.8 1284,440C1281.5,434.2 1278.7,410.8 1281,405Z" fill="#ffffc8" />
<path d="M947.6,96.7C949.4,96.1 954,95.1 958.2,92.7C962.4,90.4 967.3,86.1 972.7,82.7C978.2,79.4 984.8,75 990.9,72.7C997,70.5 1001.5,70.3 1009.1,69.1C1016.7,67.9 1028.8,67 1036.4,65.5C1043.9,63.9 1051.2,61.4 1054.5,60C1057.9,58.6 1056.4,57.7 1056.7,57.3" fill="none" stroke="#000" stroke-width="2.4" stroke-linejoin="round" stroke-linecap="round" />
<path d="M945.5,79.1C947,78 951.5,74.1 954.5,72.7C957.6,71.4 960,72.4 963.6,70.9C967.3,69.4 973.3,65.9 976.4,63.6C979.4,61.4 980.9,58.3 981.8,57.3" fill="none" stroke="#000" stroke-width="2.4" stroke-linejoin="round" stroke-linecap="round" />
<path d="M943.6,67.3C946.4,66.4 955.8,63.5 960,61.8C964.2,60.2 967.6,58 969.1,57.3" fill="none" stroke="#000" stroke-width="1.6" stroke-linejoin="round" stroke-linecap="round" />
<path d="M1064.5,57.3C1064.1,58.9 1063.5,64.1 1061.8,67.3C1060.2,70.5 1058.8,74.2 1054.5,76.4C1050.3,78.5 1041.2,78.5 1036.4,80C1031.5,81.5 1027,83 1025.5,85.5C1023.9,87.9 1023.9,90.9 1027.3,94.5C1030.6,98.2 1039.4,103.6 1045.5,107.3C1051.5,110.9 1057.6,114.1 1063.6,116.4C1069.7,118.6 1075.8,120 1081.8,120.9C1087.9,121.8 1093.9,122.6 1100,121.8C1106.1,121.1 1112.1,118.8 1118.2,116.4C1124.2,113.9 1130.3,110 1136.4,107.3C1142.4,104.5 1150,101.8 1154.5,100C1159.1,98.2 1159.1,97.3 1163.6,96.4C1168.2,95.5 1175.8,95.8 1181.8,94.5C1187.9,93.3 1195.6,90.6 1200,89.1C1204.4,87.6 1202.3,88 1208.2,85.5C1214.1,82.9 1227.9,75.2 1235.5,73.6C1243,72.1 1247.6,75 1253.6,76.4C1259.7,77.7 1266.7,80.3 1271.8,81.8C1277,83.3 1280.6,85.2 1284.5,85.5C1288.5,85.8 1292.7,85.5 1295.5,83.6C1298.2,81.8 1300.3,78.8 1300.9,74.5C1301.5,70.3 1299.4,60.9 1299.1,58.2" fill="none" stroke="#000" stroke-width="1.6" stroke-linejoin="round" stroke-linecap="round" />
<path d="M1072.7,57.3C1071.5,58.9 1066.1,64.4 1065.5,67.3C1064.8,70.2 1066.4,71.8 1069.1,74.5C1071.8,77.3 1076.7,80.9 1081.8,83.6C1087,86.4 1094.8,89.7 1100,90.9C1105.2,92.1 1110.6,90.9 1112.7,90.9" fill="none" stroke="#000" stroke-width="2.6" stroke-linejoin="round" stroke-linecap="round" />
<path d="M1147.3,87.6C1150,86.2 1157.9,81.6 1163.6,79.1C1169.4,76.6 1175.8,74.7 1181.8,72.7C1187.9,70.8 1196.8,68.8 1200,67.3C1203.2,65.8 1198.9,64.8 1200.9,63.6C1202.9,62.4 1208.2,60.9 1211.8,60C1215.5,59.1 1220.9,58.5 1222.7,58.2" fill="none" stroke="#000" stroke-width="2.6" stroke-linejoin="round" stroke-linecap="round" />
<text x="1130" y="97.3" font-size="18" text-anchor="middle" font-weight="bold">34.8</text>
<path d="M1081.8,57.3C1081.5,58.9 1079.4,64.1 1080,67.3C1080.6,70.5 1082.1,73.8 1085.5,76.4C1088.8,78.9 1094.5,81.5 1100,82.7C1105.5,83.9 1110.6,83.9 1118.2,83.6C1125.8,83.3 1136.4,82.6 1145.5,80.9C1154.5,79.2 1163.6,76.5 1172.7,73.6C1181.8,70.8 1195.5,65.3 1200,63.6" fill="none" stroke="#000" stroke-width="1.6" stroke-linejoin="round" stroke-linecap="round" />
<path d="M1089.1,57.3C1089.1,58.6 1088.5,63.2 1089.1,65.5C1089.7,67.7 1092.1,70 1092.7,70.9" fill="none" stroke="#000" stroke-width="2.6" stroke-linejoin="round" stroke-linecap="round" />
<path d="M1114.5,74.5C1118.2,74.4 1128.2,74.5 1136.4,73.6C1144.5,72.7 1154.5,70.8 1163.6,69.1C1172.7,67.4 1184.8,65 1190.9,63.6C1197,62.3 1198.5,61.4 1200,60.9" fill="none" stroke="#000" stroke-width="2.6" stroke-linejoin="round" stroke-linecap="round" />
<text x="1097.8" y="78.7" font-size="18" text-anchor="middle" font-weight="bold">35.2</text>
<path d="M1096.4,57.3C1097,58.8 1096.4,63.9 1100,66.4C1103.6,68.8 1110.6,70.8 1118.2,71.8C1125.8,72.8 1136.4,72.9 1145.5,72.2C1154.5,71.4 1163.6,68.7 1172.7,67.3C1181.8,65.8 1195.5,64.2 1200,63.6" fill="none" stroke="#000" stroke-width="1.3" stroke-linejoin="round" stroke-linecap="round" />
<path d="M1099.1,57.3C1100,58.5 1100.8,62.4 1104.5,64.5C1108.3,66.7 1115,69.1 1121.8,70C1128.6,70.9 1137,70.6 1145.5,69.8C1153.9,69.1 1163.6,66.8 1172.7,65.5C1181.8,64.1 1195.5,62.4 1200,61.8" fill="none" stroke="#000" stroke-width="1.3" stroke-linejoin="round" stroke-linecap="round" />
<path d="M1101.8,57.3C1103,58.2 1105.2,60.9 1109.1,62.7C1113,64.5 1119.4,67.4 1125.5,68.2C1131.5,69 1137.6,68.2 1145.5,67.5C1153.3,66.7 1163.6,64.9 1172.7,63.6C1181.8,62.4 1195.5,60.6 1200,60" fill="none" stroke="#000" stroke-width="1.3" stroke-linejoin="round" stroke-linecap="round" />
<path d="M1104.5,57.3C1106.1,57.9 1109.5,59.4 1113.6,60.9C1117.7,62.4 1123.8,65.7 1129.1,66.4C1134.4,67.1 1138.2,65.8 1145.5,65.1C1152.7,64.3 1163.6,63 1172.7,61.8C1181.8,60.7 1195.5,58.8 1200,58.2" fill="none" stroke="#000" stroke-width="1.3" stroke-linejoin="round" stroke-linecap="round" />
<path d="M1121.8,62.7C1122.4,61.5 1130.3,59.5 1136.4,59.1C1142.4,58.6 1152.4,59.4 1158.2,60C1163.9,60.6 1171.5,61.7 1170.9,62.7C1170.3,63.8 1160.9,65.8 1154.5,66.4C1148.2,67 1138.2,67 1132.7,66.4C1127.3,65.8 1121.2,63.9 1121.8,62.7Z" fill="none" stroke="#000" stroke-width="1.8" stroke-linejoin="round" stroke-linecap="round" />
<path d="M1140.9,62.7C1140.9,62.1 1143.8,60.9 1145.5,60.9C1147.1,60.9 1150.9,62.1 1150.9,62.7C1150.9,63.3 1147.1,64.5 1145.5,64.5C1143.8,64.5 1140.9,63.3 1140.9,62.7Z" fill="#000" />
<path d="M1190,60C1192.4,59.8 1199.1,58.8 1204.5,59.1C1210,59.4 1221.5,60.5 1222.7,61.8C1223.9,63.2 1216.1,65.8 1211.8,67.3C1207.6,68.8 1200.9,70.2 1197.3,70.9C1193.6,71.7 1191.2,71.7 1190,71.8" fill="none" stroke="#000" stroke-width="2.4" stroke-linejoin="round" stroke-linecap="round" />
<path d="M1190,63.6C1191.8,63.5 1197.9,62.6 1200.9,62.7C1203.9,62.9 1208.8,63.8 1208.2,64.5C1207.6,65.3 1200.3,66.7 1197.3,67.3C1194.2,67.9 1191.2,68 1190,68.2" fill="none" stroke="#000" stroke-width="1.6" stroke-linejoin="round" stroke-linecap="round" />
<path d="M1239.1,65.5C1240.6,63.9 1248.2,60.5 1253.6,59.1C1259.1,57.7 1266.1,57.4 1271.8,57.3C1277.6,57.1 1285.3,57.1 1288.2,58.2C1291.1,59.2 1290.9,62 1289.1,63.6C1287.3,65.3 1282.3,67.3 1277.3,68.2C1272.3,69.1 1264.5,69.1 1259.1,69.1C1253.6,69.1 1247.9,68.8 1244.5,68.2C1241.2,67.6 1237.6,67 1239.1,65.5Z" fill="none" stroke="#000" stroke-width="2.4" stroke-linejoin="round" stroke-linecap="round" />
<path d="M1263.6,61.8C1264.2,61.1 1268.9,59.4 1271.8,59.1C1274.7,58.8 1280,59.4 1280.9,60C1281.8,60.6 1279.4,62.1 1277.3,62.7C1275.2,63.3 1270.5,63.8 1268.2,63.6C1265.9,63.5 1263,62.6 1263.6,61.8Z" fill="none" stroke="#000" stroke-width="1.6" stroke-linejoin="round" stroke-linecap="round" />
<path d="M1306.4,58.2C1307,61.2 1309.1,70.9 1310,76.4C1310.9,81.8 1310.6,87.7 1311.8,90.9C1313,94.1 1314.8,94.8 1317.3,95.5C1319.7,96.1 1323.3,95.6 1326.4,94.5C1329.4,93.5 1332.4,90.4 1335.5,89.1C1338.5,87.8 1340,86.9 1344.5,86.9C1349.1,86.9 1358.2,88.3 1362.7,89.1C1367.3,89.9 1367.3,90.3 1371.8,91.8C1376.4,93.3 1387,97.1 1390,98.2" fill="none" stroke="#000" stroke-width="2.6" stroke-linejoin="round" stroke-linecap="round" />
<text x="1311.8" y="106.4" font-size="18" text-anchor="middle" font-weight="bold">34.4</text>
<path d="M1313.6,58.2C1314.2,59.7 1315.5,64.5 1317.3,67.3C1319.1,70 1320,73.5 1324.5,74.5C1329.1,75.6 1338.2,73.3 1344.5,73.6C1350.9,73.9 1355.2,74.4 1362.7,76.4C1370.3,78.3 1385.5,83.9 1390,85.5" fill="none" stroke="#000" stroke-width="1.6" stroke-linejoin="round" stroke-linecap="round" />
<path d="M1315.5,57.6C1317.6,58.3 1321.8,60.2 1328.2,61.8C1334.5,63.4 1346.4,66.1 1353.6,67.3C1360.9,68.4 1365.5,67.8 1371.8,68.7C1378.2,69.6 1388.5,72.1 1391.8,72.7" fill="none" stroke="#000" stroke-width="2.2" stroke-linejoin="round" stroke-linecap="round" />
<path d="M1317.6,57.6C1319.7,58.4 1324,61 1330,62.4C1336,63.8 1346.7,65.2 1353.6,66C1360.6,66.8 1365.5,66.5 1371.8,67.3C1378.2,68.1 1388.5,70.3 1391.8,70.9" fill="none" stroke="#000" stroke-width="1.6" stroke-linejoin="round" stroke-linecap="round" />
<path d="M1319.8,57.6C1321.8,58.5 1326.2,61.7 1331.8,62.9C1337.5,64.1 1347,64.2 1353.6,64.7C1360.3,65.2 1365.5,65.1 1371.8,65.8C1378.2,66.5 1388.5,68.5 1391.8,69.1" fill="none" stroke="#000" stroke-width="2.2" stroke-linejoin="round" stroke-linecap="round" />
<path d="M1322,57.6C1323.9,58.6 1328.4,62.5 1333.6,63.5C1338.9,64.4 1347.3,63.3 1353.6,63.5C1360,63.6 1365.5,63.7 1371.8,64.4C1378.2,65 1388.5,66.8 1391.8,67.3" fill="none" stroke="#000" stroke-width="1.6" stroke-linejoin="round" stroke-linecap="round" />
<path d="M1324.2,57.6C1326.1,58.7 1330.5,63.2 1335.5,64C1340.4,64.8 1347.6,62.4 1353.6,62.2C1359.7,62 1365.5,62.4 1371.8,62.9C1378.2,63.5 1388.5,65 1391.8,65.5" fill="none" stroke="#000" stroke-width="2.2" stroke-linejoin="round" stroke-linecap="round" />
<path d="M1326.4,57.6C1328.2,58.8 1332.7,64 1337.3,64.5C1341.8,65.1 1347.9,61.4 1353.6,60.9C1359.4,60.4 1365.5,61 1371.8,61.5C1378.2,61.9 1388.5,63.3 1391.8,63.6" fill="none" stroke="#000" stroke-width="1.6" stroke-linejoin="round" stroke-linecap="round" />
<path d="M1328.5,57.6C1330.3,58.9 1334.9,64.8 1339.1,65.1C1343.3,65.4 1348.2,60.5 1353.6,59.6C1359.1,58.8 1365.5,59.6 1371.8,60C1378.2,60.4 1388.5,61.5 1391.8,61.8" fill="none" stroke="#000" stroke-width="2.2" stroke-linejoin="round" stroke-linecap="round" />
<rect x="1418" y="50" width="70" height="400" fill="#fff"/>
<path d="M1418.2,57.3C1428.6,54.1 1470.5,53 1480.9,57.3C1491.4,61.5 1483.9,78.3 1480.9,82.7C1477.9,87.1 1468.8,83.5 1462.7,83.6C1456.7,83.8 1449.7,83.3 1444.5,83.6C1439.4,83.9 1435.2,85.8 1431.8,85.5C1428.5,85.2 1426.8,83.3 1424.5,81.8C1422.3,80.3 1419.2,80.5 1418.2,76.4C1417.1,72.3 1407.7,60.5 1418.2,57.3Z" fill="#ffffc8" />
<path d="M1420.9,72.7C1421.8,73.9 1428.5,76.7 1431.8,77.3C1435.2,77.9 1437.3,77 1440.9,76.4C1444.5,75.8 1447,74.5 1453.6,73.6C1460.3,72.7 1476.4,73.5 1480.9,70.9C1485.5,68.3 1483.9,59.4 1480.9,58.2C1477.9,57 1468.8,61.8 1462.7,63.6C1456.7,65.5 1450.6,68 1444.5,69.1C1438.5,70.2 1430.3,69.4 1426.4,70C1422.4,70.6 1420,71.5 1420.9,72.7Z" fill="#ffff9c" />
<path d="M1451.8,70.9C1453,71.2 1461.5,68.2 1466.4,67.3C1471.2,66.4 1478.5,67 1480.9,65.5C1483.3,63.9 1482.7,59.1 1480.9,58.2C1479.1,57.3 1473.6,58.8 1470,60C1466.4,61.2 1462.1,63.6 1459.1,65.5C1456.1,67.3 1450.6,70.6 1451.8,70.9Z" fill="#ffe84a" />
<path d="M1462.7,65.5C1463.9,65.5 1470.6,62.6 1473.6,61.8C1476.7,61.1 1479.7,61.8 1480.9,60.9C1482.1,60 1482.1,57 1480.9,56.4C1479.7,55.8 1476.1,56.4 1473.6,57.3C1471.2,58.1 1468.2,60.1 1466.4,61.5C1464.5,62.8 1461.5,65.4 1462.7,65.5Z" fill="#ffaa28" />
<path d="M1470,60.9C1470.9,61.2 1479.1,59.8 1480.9,59.1C1482.7,58.3 1481.8,56.7 1480.9,56.4C1480,56.1 1477.3,56.5 1475.5,57.3C1473.6,58 1469.1,60.6 1470,60.9Z" fill="#ff7800" />
<path d="M1418.2,57.3C1423.2,55.8 1444.4,56.2 1448.2,57.3C1452,58.3 1443.6,62 1440.9,63.6C1438.2,65.3 1435.6,66.8 1431.8,67.3C1428,67.7 1420.5,68 1418.2,66.4C1415.9,64.7 1413.2,58.8 1418.2,57.3Z" fill="#ffffff" />
<path d="M1440.9,57.3C1444.2,56.7 1463.6,56.8 1466.4,57.3C1469.1,57.7 1460.6,59.4 1457.3,60C1453.9,60.6 1449.1,61.4 1446.4,60.9C1443.6,60.5 1437.6,57.9 1440.9,57.3Z" fill="#6ef5ff" />
<path d="M1418.2,60C1419.5,60.2 1423.5,60.9 1426.4,61.3C1429.2,61.7 1432.4,62.7 1435.5,62.4C1438.5,62 1440.6,60.1 1444.5,59.1C1448.5,58.1 1454.8,57.2 1459.1,56.4C1463.3,55.5 1468.2,54.4 1470,54" fill="none" stroke="#000" stroke-width="1.6" stroke-linejoin="round" stroke-linecap="round" />
<path d="M1418.2,62.4C1419.5,62.6 1423.5,63.2 1426.4,63.6C1429.2,64 1432.4,65.1 1435.5,64.7C1438.5,64.4 1440.6,62.5 1444.5,61.5C1448.5,60.5 1454.8,59.6 1459.1,58.7C1463.3,57.9 1468.2,56.8 1470,56.4" fill="none" stroke="#000" stroke-width="1.6" stroke-linejoin="round" stroke-linecap="round" />
<path d="M1418.2,64.5C1419.5,64.8 1423.5,65.4 1426.4,65.8C1429.2,66.2 1432.4,67.3 1435.5,66.9C1438.5,66.5 1440.6,64.6 1444.5,63.6C1448.5,62.6 1454.8,61.8 1459.1,60.9C1463.3,60.1 1468.2,58.9 1470,58.5" fill="none" stroke="#000" stroke-width="2.4" stroke-linejoin="round" stroke-linecap="round" />
<path d="M1418.2,67.3C1419.5,67.5 1423.5,68.2 1426.4,68.5C1429.2,68.9 1432.4,70 1435.5,69.6C1438.5,69.3 1440.6,67.4 1444.5,66.4C1448.5,65.4 1454.8,64.5 1459.1,63.6C1463.3,62.8 1468.2,61.7 1470,61.3" fill="none" stroke="#000" stroke-width="1.6" stroke-linejoin="round" stroke-linecap="round" />
<path d="M1418.2,70C1419.5,70.5 1423.5,72.1 1426.4,72.7C1429.2,73.3 1433,73.9 1435.5,73.6C1437.9,73.3 1437.9,71.8 1440.9,70.9C1443.9,70 1449.4,68.9 1453.6,68.2C1457.9,67.4 1461.8,67 1466.4,66.4C1470.9,65.8 1478.5,64.8 1480.9,64.5" fill="none" stroke="#000" stroke-width="1.6" stroke-linejoin="round" stroke-linecap="round" />
<path d="M1418.2,73.6C1419.5,74.2 1423.5,76.6 1426.4,77.3C1429.2,78 1432.7,78.3 1435.5,77.8C1438.2,77.4 1439.4,75.5 1442.7,74.5C1446.1,73.6 1451.2,73 1455.5,72.4C1459.7,71.7 1463.9,71.1 1468.2,70.5C1472.4,70 1478.8,69.3 1480.9,69.1" fill="none" stroke="#000" stroke-width="1.6" stroke-linejoin="round" stroke-linecap="round" />
<path d="M1418.2,113.6 1426.4,113.1 1435.5,114.5 1444.5,114.9 1450.9,113.6 1453.6,110 1456.4,111.3 1466.4,109.5 1479.1,107.3" fill="none" stroke="#000" stroke-width="2.4" stroke-linejoin="round" stroke-linecap="round" />
</g>
<path d="M906.5,54.7 944,54.7 944,62.9 945.5,72.9 948.9,92.9 949.1,172.9 952.5,187.9 952.5,290.9 959.1,324.9 963.9,324.9 966.1,348.5 978.9,348.5 981.9,375.9 1001.5,375.9 1004.5,406.9 1023.1,406.9 1026.1,375.9 1077.9,375.9 1080.9,406.9 1093.5,406.9 1096.5,375.9 1100.1,375.9 1103.1,406.9 1128.5,406.9 1131.5,375.9 1154.5,375.9 1157.5,348.5 1164.1,348.5 1167.1,375.9 1170.1,406.9 1186.5,406.9 1189.5,375.9 1202.5,375.9 1205.5,406.9 1282.2,406.9 1285.2,436.5 1294.9,436.5 1298,406.9 1355.2,406.9 1358.5,375.9 1362.1,375.9 1362.3,344.9 1364.6,324.9 1368,324.9 1371.3,306.9 1374.3,306.9 1377.4,290.9 1381.9,290.9 1388.1,258.9 1388.1,152.9 1391.5,146.9 1391.5,72.9 1395.5,72.9 1395.5,58.9 1415.5,58.9 1415.5,72.9 1419.1,73.9 1419.1,202.9 1421.9,212.9 1421.9,272.9 1425.5,288.9 1425.5,306.9 1454.5,306.9 1457.5,324.9 1470.3,324.9 1473.5,348.5 1481.3,348.5 1481.3,438.5 906.5,438.5Z" fill="#000" />
<rect x="1393.6" y="54.7" width="24.6" height="22" fill="#000" />
<rect x="906.5" y="54.7" width="574.7" height="383.8" fill="none" stroke="#000" stroke-width="4.2"/>
<path d="M906.5,54.7v-9.9M906.5,438.5v9.9M938.4,54.7v-7.3M938.4,438.5v7.3M970.4,54.7v-7.3M970.4,438.5v7.3M1002.3,54.7v-9.9M1002.3,438.5v9.9M1034.2,54.7v-7.3M1034.2,438.5v7.3M1066.1,54.7v-7.3M1066.1,438.5v7.3M1098.1,54.7v-9.9M1098.1,438.5v9.9M1130,54.7v-7.3M1130,438.5v7.3M1161.9,54.7v-7.3M1161.9,438.5v7.3M1193.8,54.7v-9.9M1193.8,438.5v9.9M1225.8,54.7v-7.3M1225.8,438.5v7.3M1257.7,54.7v-7.3M1257.7,438.5v7.3M1289.6,54.7v-9.9M1289.6,438.5v9.9M1321.6,54.7v-7.3M1321.6,438.5v7.3M1353.5,54.7v-7.3M1353.5,438.5v7.3M1385.4,54.7v-9.9M1385.4,438.5v9.9M1417.3,54.7v-7.3M1417.3,438.5v7.3M1449.3,54.7v-7.3M1449.3,438.5v7.3M1481.2,54.7v-9.9M1481.2,438.5v9.9M906.5,54.7h-9.9M1481.2,54.7h9.9M906.5,85.7h-7.3M1481.2,85.7h7.3M906.5,116.6h-7.3M1481.2,116.6h7.3M906.5,147.6h-7.3M1481.2,147.6h7.3M906.5,178.5h-9.9M1481.2,178.5h9.9M906.5,209.4h-7.3M1481.2,209.4h7.3M906.5,240.4h-7.3M1481.2,240.4h7.3M906.5,271.4h-7.3M1481.2,271.4h7.3M906.5,302.3h-9.9M1481.2,302.3h9.9M906.5,333.2h-7.3M1481.2,333.2h7.3M906.5,364.2h-7.3M1481.2,364.2h7.3M906.5,395.1h-7.3M1481.2,395.1h7.3M906.5,426.1h-9.9M1481.2,426.1h9.9" stroke="#000" stroke-width="4.2" stroke-linecap="round" fill="none"/>
<text x="906.5" y="480.4" font-size="29" text-anchor="middle" font-weight="bold" textLength="47.5" lengthAdjust="spacingAndGlyphs">90S</text>
<text x="1002.3" y="480.4" font-size="29" text-anchor="middle" font-weight="bold" textLength="47.5" lengthAdjust="spacingAndGlyphs">60S</text>
<text x="1098.1" y="480.4" font-size="29" text-anchor="middle" font-weight="bold" textLength="47.5" lengthAdjust="spacingAndGlyphs">30S</text>
<text x="1193.8" y="480.4" font-size="29" text-anchor="middle" font-weight="bold" textLength="46" lengthAdjust="spacingAndGlyphs">EQ.</text>
<text x="1289.6" y="480.4" font-size="29" text-anchor="middle" font-weight="bold" textLength="48.9" lengthAdjust="spacingAndGlyphs">30N</text>
<text x="1385.4" y="480.4" font-size="29" text-anchor="middle" font-weight="bold" textLength="48.9" lengthAdjust="spacingAndGlyphs">60N</text>
<text x="1481.2" y="480.4" font-size="29" text-anchor="middle" font-weight="bold" textLength="48.9" lengthAdjust="spacingAndGlyphs">90N</text>
<text x="883.8" y="65.1" font-size="29" text-anchor="end" font-weight="bold">0</text>
<text x="883.8" y="188.9" font-size="29" text-anchor="end" font-weight="bold">2</text>
<text x="883.8" y="312.7" font-size="29" text-anchor="end" font-weight="bold">4</text>
<text x="883.8" y="436.5" font-size="29" text-anchor="end" font-weight="bold">6</text>
<text x="846.1" y="246.9" font-size="35" text-anchor="middle" textLength="177" lengthAdjust="spacingAndGlyphs" transform="rotate(-90 846.1 246.9)" xml:space="preserve" stroke="#000" stroke-width="1.5" stroke-linejoin="round">Depth  (km)</text>
<rect x="1511" y="416.9" width="18" height="21.9" fill="#0000ff" />
<rect x="1511" y="395.6" width="18" height="21.9" fill="#0046ff" />
<rect x="1511" y="374.2" width="18" height="21.9" fill="#0082ff" />
<rect x="1511" y="352.9" width="18" height="21.9" fill="#28aaff" />
<rect x="1511" y="331.6" width="18" height="21.9" fill="#46d7ff" />
<rect x="1511" y="310.3" width="18" height="21.9" fill="#6ef5ff" />
<rect x="1511" y="288.9" width="18" height="21.9" fill="#96ffff" />
<rect x="1511" y="267.6" width="18" height="21.9" fill="#c8ffff" />
<rect x="1511" y="246.3" width="18" height="21.9" fill="#ffffff" />
<rect x="1511" y="225" width="18" height="21.9" fill="#ffffff" />
<rect x="1511" y="203.7" width="18" height="21.9" fill="#ffffc8" />
<rect x="1511" y="182.3" width="18" height="21.9" fill="#ffff96" />
<rect x="1511" y="161" width="18" height="21.9" fill="#ffff64" />
<rect x="1511" y="139.7" width="18" height="21.9" fill="#ffe646" />
<rect x="1511" y="118.4" width="18" height="21.9" fill="#ffaa28" />
<rect x="1511" y="97" width="18" height="21.9" fill="#ff7800" />
<rect x="1511" y="75.7" width="18" height="21.9" fill="#ff4600" />
<rect x="1511" y="54.4" width="18" height="21.9" fill="#ff0000" />
<path d="M1511,52.6V440.6" stroke="#000" stroke-width="4.2" fill="none"/>
<path d="M1529,52.6V440.6" stroke="#000" stroke-width="4.2" fill="none"/>
<path d="M1508.9,438.5H1538.5" stroke="#000" stroke-width="4.2" fill="none"/>
<path d="M1529,417.2H1545.5" stroke="#000" stroke-width="4.2" fill="none"/>
<path d="M1529,395.9H1538.5" stroke="#000" stroke-width="3.7800000000000002" fill="none"/>
<path d="M1529,374.5H1538.5" stroke="#000" stroke-width="3.7800000000000002" fill="none"/>
<path d="M1529,353.2H1538.5" stroke="#000" stroke-width="3.7800000000000002" fill="none"/>
<path d="M1529,331.9H1545.5" stroke="#000" stroke-width="4.2" fill="none"/>
<path d="M1529,310.6H1538.5" stroke="#000" stroke-width="3.7800000000000002" fill="none"/>
<path d="M1529,289.2H1538.5" stroke="#000" stroke-width="3.7800000000000002" fill="none"/>
<path d="M1529,267.9H1538.5" stroke="#000" stroke-width="3.7800000000000002" fill="none"/>
<path d="M1529,246.6H1545.5" stroke="#000" stroke-width="4.2" fill="none"/>
<path d="M1529,225.3H1538.5" stroke="#000" stroke-width="3.7800000000000002" fill="none"/>
<path d="M1529,204H1538.5" stroke="#000" stroke-width="3.7800000000000002" fill="none"/>
<path d="M1529,182.6H1538.5" stroke="#000" stroke-width="3.7800000000000002" fill="none"/>
<path d="M1529,161.3H1545.5" stroke="#000" stroke-width="4.2" fill="none"/>
<path d="M1529,140H1538.5" stroke="#000" stroke-width="3.7800000000000002" fill="none"/>
<path d="M1529,118.7H1538.5" stroke="#000" stroke-width="3.7800000000000002" fill="none"/>
<path d="M1529,97.3H1538.5" stroke="#000" stroke-width="3.7800000000000002" fill="none"/>
<path d="M1529,76H1545.5" stroke="#000" stroke-width="4.2" fill="none"/>
<path d="M1508.9,54.7H1538.5" stroke="#000" stroke-width="4.2" fill="none"/>
<text x="1604" y="425.2" font-size="22" text-anchor="end" font-weight="bold">−0.4</text>
<text x="1604" y="339.9" font-size="22" text-anchor="end" font-weight="bold">−0.2</text>
<text x="1604" y="254.6" font-size="22" text-anchor="end" font-weight="bold">0.0</text>
<text x="1604" y="169.3" font-size="22" text-anchor="end" font-weight="bold">0.2</text>
<text x="1604" y="84" font-size="22" text-anchor="end" font-weight="bold">0.4</text>
<text x="828.5" y="32.5" font-size="43">b</text>
<text x="1193" y="30" font-size="36.4" text-anchor="middle">Salinity difference</text>
<text x="1530" y="30" font-size="35.5" textLength="80" lengthAdjust="spacingAndGlyphs">(psu)</text>
</g>
<g id="pc">
<defs><clipPath id="cc"><rect x="94.2" y="597.6" width="641.8" height="377.4"/></clipPath></defs>
<g clip-path="url(#cc)">
<path d="M150,597C149.2,600 145,609.7 145,615C145,620.3 147.5,622.3 150,629C152.5,635.7 156.7,646 160,655C163.3,664 167.5,680.7 170,683C172.5,685.3 173.5,672 175,669C176.5,666 177.8,661.7 179,665C180.2,668.3 181,681.7 182,689C183,696.3 183.8,709.7 185,709C186.2,708.3 187.8,695.7 189,685C190.2,674.3 191.3,659.7 192,645C192.7,630.3 192.8,605 193,597Z" fill="#d2ffff" stroke="#000" stroke-width="1.3" stroke-linejoin="round" stroke-dasharray="7 5"/>
<path d="M158,597C157.8,600 156,609 157,615C158,621 161.5,628.7 164,633C166.5,637.3 169.7,640.3 172,641C174.3,641.7 176.3,635.3 178,637C179.7,638.7 180.8,646.7 182,651C183.2,655.3 184,664 185,663C186,662 187.2,656 188,645C188.8,634 189.7,605 190,597Z" fill="#b4ffff" stroke="#000" stroke-width="2.4" stroke-linejoin="round" stroke-dasharray="9 6"/>
<path d="M178,602C178.2,605.2 178,615.5 179,621C180,626.5 182.7,634.3 184,635C185.3,635.7 186.3,630.5 187,625C187.7,619.5 187.8,605.8 188,602" fill="none" stroke="#000" stroke-width="1.3" stroke-linejoin="round" stroke-linecap="round" stroke-dasharray="7 5" />
<path d="M167,602C167.2,603.5 167.5,610.5 168,611C168.5,611.5 169.7,606 170,605" fill="none" stroke="#000" stroke-width="1.3" stroke-linejoin="round" stroke-linecap="round" stroke-dasharray="7 5" />
<path d="M193.6,593C193.7,611.7 193.8,673 194,705C194.2,737 194.2,763.3 195,785C195.8,806.7 197.3,822.3 199,835C200.7,847.7 203.2,855 205,861C206.8,867 208.2,871.3 210,871C211.8,870.7 214,862.7 216,859C218,855.3 219.7,852 222,849C224.3,846 227.7,843.3 230,841C232.3,838.7 234,834.3 236,835C238,835.7 240,842.7 242,845C244,847.3 245.7,849 248,849C250.3,849 253.7,849 256,845C258.3,841 260,831.7 262,825C264,818.3 266,810 268,805C270,800 271.7,797.7 274,795C276.3,792.3 279.3,790.7 282,789C284.7,787.3 287,786.7 290,785C293,783.3 296.7,780.7 300,779C303.3,777.3 306.7,776.7 310,775C313.3,773.3 316.7,770.7 320,769C323.3,767.3 325,766.7 330,765C335,763.3 343.3,759.3 350,759C356.7,758.7 364.7,761 370,763C375.3,765 378,771.3 382,771C386,770.7 390.7,761.3 394,761C397.3,760.7 399.3,769.3 402,769C404.7,768.7 406.7,762 410,759C413.3,756 418.7,750.7 422,751C425.3,751.3 427.7,757.7 430,761C432.3,764.3 432.7,768 436,771C439.3,774 444.3,778 450,779C455.7,780 463.3,776.7 470,777C476.7,777.3 484,778.3 490,781C496,783.7 500.7,789.7 506,793C511.3,796.3 517.3,798.7 522,801C526.7,803.3 529.3,804.3 534,807C538.7,809.7 545.3,816 550,817C554.7,818 558,814.7 562,813C566,811.3 571.3,809.3 574,807C576.7,804.7 575.3,801.3 578,799C580.7,796.7 586.3,796.7 590,793C593.7,789.3 596.7,780.3 600,777C603.3,773.7 607,775.7 610,773C613,770.3 614.7,765 618,761C621.3,757 626.3,755 630,749C633.7,743 637.3,733.7 640,725C642.7,716.3 644.3,707 646,697C647.7,687 648.3,672 650,665C651.7,658 653.3,657.3 656,655C658.7,652.7 662.7,649.3 666,651C669.3,652.7 672.7,664 676,665C679.3,666 683.7,661 686,657C688.3,653 689.7,646 690,641C690.3,636 690.3,630 688,627C685.7,624 679.3,621.7 676,623C672.7,624.3 670.3,634.7 668,635C665.7,635.3 664,628.7 662,625C660,621.3 658.7,616.5 656,613C653.3,609.5 650.3,605.3 646,604C641.7,602.7 637.7,604.5 630,605C622.3,605.5 610,606.7 600,607C590,607.3 578.3,607.2 570,607C561.7,606.8 555.3,605.7 550,606C544.7,606.3 541.2,607.5 538,609C534.8,610.5 532.7,614.3 531,615C529.3,615.7 529,616.7 528,613C527,609.3 525.5,596.3 525,593Z" fill="#ffffd2" stroke="#000" stroke-width="1.4" stroke-linejoin="round" />
<path d="M197,593C197.1,611.7 197.1,673 197.4,705C197.7,737 198.1,765 199,785C199.9,805 201.2,814.3 203,825C204.8,835.7 207.8,846.3 210,849C212.2,851.7 214,843.7 216,841C218,838.3 219.7,835 222,833C224.3,831 227.7,830.7 230,829C232.3,827.3 234,822.7 236,823C238,823.3 239.7,829.7 242,831C244.3,832.3 247.7,832.7 250,831C252.3,829.3 254,825.3 256,821C258,816.7 260,811 262,805C264,799 266.3,791 268,785C269.7,779 270.3,772.7 272,769C273.7,765.3 275,765 278,763C281,761 284.7,758.7 290,757C295.3,755.3 301.7,755.3 310,753C318.3,750.7 330,744 340,743C350,742 362.7,745.3 370,747C377.3,748.7 379.7,753 384,753C388.3,753 391.7,748.7 396,747C400.3,745.3 405.7,744.7 410,743C414.3,741.3 418.7,736.7 422,737C425.3,737.3 427,742 430,745C433,748 433.3,753.7 440,755C446.7,756.3 461.7,752.3 470,753C478.3,753.7 483.3,756.3 490,759C496.7,761.7 503.3,766 510,769C516.7,772 523.3,774.3 530,777C536.7,779.7 544,783 550,785C556,787 561,789.7 566,789C571,788.3 575,784 580,781C585,778 591.7,776 596,771C600.3,766 603,753.7 606,751C609,748.3 610.7,756.7 614,755C617.3,753.3 622.3,747.3 626,741C629.7,734.7 633,725.7 636,717C639,708.3 642,697.7 644,689C646,680.3 647.5,674 648,665C648.5,656 648.3,642 647,635C645.7,628 644.5,625.7 640,623C635.5,620.3 626.7,620.2 620,619C613.3,617.8 608.3,617.3 600,616C591.7,614.7 578.3,612 570,611C561.7,610 555.3,609.7 550,610C544.7,610.3 541.3,611.2 538,613C534.7,614.8 532,620 530,621C528,622 527.3,623.7 526,619C524.7,614.3 523,597.3 522.4,593Z" fill="#ffffb4" stroke="#000" stroke-width="2.5" stroke-linejoin="round" />
<path d="M200,593C200.1,611.7 200.2,674.7 200.6,705C201,735.3 201.5,757.3 202.4,775C203.3,792.7 204.4,801.3 206,811C207.6,820.7 210,830.7 212,833C214,835.3 216,827.7 218,825C220,822.3 221.7,818.7 224,817C226.3,815.3 229.7,816.3 232,815C234.3,813.7 236,808.7 238,809C240,809.3 242,816 244,817C246,818 247.7,817.3 250,815C252.3,812.7 255.7,808.7 258,803C260.3,797.3 262,788.3 264,781C266,773.7 268.3,765 270,759C271.7,753 272.3,748.7 274,745C275.7,741.3 277.3,739 280,737C282.7,735 285,734 290,733C295,732 301.7,732 310,731C318.3,730 330,726.7 340,727C350,727.3 361.7,731.3 370,733C378.3,734.7 383.3,738 390,737C396.7,736 405,729.7 410,727C415,724.3 416.7,720.7 420,721C423.3,721.3 425,726.3 430,729C435,731.7 443.3,736.3 450,737C456.7,737.7 463.3,732.7 470,733C476.7,733.3 483.3,736.3 490,739C496.7,741.7 503.3,746.3 510,749C516.7,751.7 523.3,753 530,755C536.7,757 543.3,759.7 550,761C556.7,762.3 565,763.7 570,763C575,762.3 576.7,760 580,757C583.3,754 586.7,748.3 590,745C593.3,741.7 596.7,737.7 600,737C603.3,736.3 606.3,742.3 610,741C613.7,739.7 618,734.3 622,729C626,723.7 630.7,716.3 634,709C637.3,701.7 640.2,693 642,685C643.8,677 644.7,669 645,661C645.3,653 645.5,642.5 644,637C642.5,631.5 641.7,630.2 636,628C630.3,625.8 617.7,625.3 610,624C602.3,622.7 596.7,621.5 590,620C583.3,618.5 576.7,616 570,615C563.3,614 555.3,613.5 550,614C544.7,614.5 541.3,615.5 538,618C534.7,620.5 532.2,627.2 530,629C527.8,630.8 526.5,630.7 525,629C523.5,627.3 522,625 521,619C520,613 519.3,597.3 519,593Z" fill="#ffff96" stroke="#000" stroke-width="1.4" stroke-linejoin="round" />
<path d="M203,593C203.1,611.7 203.2,676.3 203.6,705C204,733.7 204.7,749.7 205.6,765C206.5,780.3 207.6,788.7 209,797C210.4,805.3 212.2,813.3 214,815C215.8,816.7 218,809.3 220,807C222,804.7 224,801.7 226,801C228,800.3 230,804 232,803C234,802 236,795 238,795C240,795 242,802.3 244,803C246,803.7 247.7,802 250,799C252.3,796 255.7,791 258,785C260.3,779 262.3,769.7 264,763C265.7,756.3 266.7,751.3 268,745C269.3,738.7 270.7,730.3 272,725C273.3,719.7 274.3,716 276,713C277.7,710 278,707.7 282,707C286,706.3 293.7,709.3 300,709C306.3,708.7 311.7,704.3 320,705C328.3,705.7 341.7,711 350,713C358.3,715 363.3,716.7 370,717C376.7,717.3 383.3,716.3 390,715C396.7,713.7 403.3,708.7 410,709C416.7,709.3 423.3,715 430,717C436.7,719 443.3,721.3 450,721C456.7,720.7 463.3,715 470,715C476.7,715 483.3,718 490,721C496.7,724 503.3,730.3 510,733C516.7,735.7 523.3,735.7 530,737C536.7,738.3 543.3,739.7 550,741C556.7,742.3 564,745 570,745C576,745 580.7,744.7 586,741C591.3,737.3 598,725.3 602,723C606,720.7 607,728 610,727C613,726 616.7,721.3 620,717C623.3,712.7 627,707 630,701C633,695 636,687.7 638,681C640,674.3 641.7,667.7 642,661C642.3,654.3 642,645.7 640,641C638,636.3 635,635 630,633C625,631 616.7,630.3 610,629C603.3,627.7 596.7,626.7 590,625C583.3,623.3 576.7,620.2 570,619C563.3,617.8 555.3,617.3 550,618C544.7,618.7 541,620.2 538,623C535,625.8 534.3,633 532,635C529.7,637 526.3,636.7 524,635C521.7,633.3 519.5,632 518,625C516.5,618 515.5,598.3 515,593Z" fill="#ffff64" stroke="#000" stroke-width="2.5" stroke-linejoin="round" />
<path d="M206,593C206.1,611.7 206.3,677 206.8,705C207.3,733 208.1,747.7 209,761C209.9,774.3 210.5,779 212,785C213.5,791 216.2,796 218,797C219.8,798 221.3,793 223,791C224.7,789 226.2,785.3 228,785C229.8,784.7 232.2,789.7 234,789C235.8,788.3 237.2,781.3 239,781C240.8,780.7 243.2,786.7 245,787C246.8,787.3 248,786.7 250,783C252,779.3 255,771.3 257,765C259,758.7 260.5,752.3 262,745C263.5,737.7 264.7,728.3 266,721C267.3,713.7 268.3,707.7 270,701C271.7,694.3 274,685.3 276,681C278,676.7 278.7,677 282,675C285.3,673 293,671.7 296,669C299,666.3 298,660.3 300,659C302,657.7 305.7,663.7 308,661C310.3,658.3 310.3,645 314,643C317.7,641 324,643.7 330,649C336,654.3 343.3,669.3 350,675C356.7,680.7 364,681.3 370,683C376,684.7 382.7,682.7 386,685C389.3,687.3 387.3,694.7 390,697C392.7,699.3 398.7,702.7 402,699C405.3,695.3 405.3,676.7 410,675C414.7,673.3 423.3,685.3 430,689C436.7,692.7 443.3,696.7 450,697C456.7,697.3 464,691.7 470,691C476,690.3 481,690.7 486,693C491,695.3 492.7,701.3 500,705C507.3,708.7 521.7,712.3 530,715C538.3,717.7 543.3,719.3 550,721C556.7,722.7 563.3,725.7 570,725C576.7,724.3 585,720.3 590,717C595,713.7 596.7,706 600,705C603.3,704 606.3,711.7 610,711C613.7,710.3 618,706 622,701C626,696 631.3,687.7 634,681C636.7,674.3 637.7,667 638,661C638.3,655 639,648.7 636,645C633,641.3 626,641 620,639C614,637 608.3,635.3 600,633C591.7,630.7 578.3,626.7 570,625C561.7,623.3 555.3,622.3 550,623C544.7,623.7 541.3,626 538,629C534.7,632 532.7,639 530,641C527.3,643 524.7,643 522,641C519.3,639 515.8,637 514,629C512.2,621 511.5,599 511,593Z" fill="#fff050" stroke="#000" stroke-width="1.4" stroke-linejoin="round" />
<path d="M287,630C287.1,626.8 288.9,621.8 290,621C291.1,620.2 293.1,622.7 293.6,625C294.1,627.3 293.7,632.5 293,635C292.3,637.5 290.6,640.8 289.6,640C288.6,639.2 286.9,633.2 287,630Z" fill="#ffff64" stroke="#000" stroke-width="1.4" stroke-linejoin="round" />
<path d="M209,593C209.2,611.7 209.4,678 210,705C210.6,732 211.4,743 212.4,755C213.4,767 214.6,772 216,777C217.4,782 219.3,784.7 221,785C222.7,785.3 224.3,780.7 226,779C227.7,777.3 229.3,775 231,775C232.7,775 234.2,779.7 236,779C237.8,778.3 240,771.3 242,771C244,770.7 246.2,778 248,777C249.8,776 251.3,770.3 253,765C254.7,759.7 256.4,753.3 258,745C259.6,736.7 261,726.7 262.4,715C263.8,703.3 265,686.7 266.4,675C267.8,663.3 269.6,652.7 271,645C272.4,637.3 273.3,634 275,629C276.7,624 278.8,618.7 281,615C283.2,611.3 285.8,610.7 288,607C290.2,603.3 293,595.3 294,593Z" fill="#ffc832" stroke="#000" stroke-width="2.5" stroke-linejoin="round" />
<path d="M212,593C212.2,611.7 212.5,679 213.2,705C213.9,731 214.9,738.3 216,749C217.1,759.7 218.7,765 220,769C221.3,773 222.7,773.7 224,773C225.3,772.3 226.5,766.7 228,765C229.5,763.3 231.5,762.7 233,763C234.5,763.3 235.3,767.7 237,767C238.7,766.3 241.2,759.7 243,759C244.8,758.3 246.5,764.3 248,763C249.5,761.7 250.7,757.3 252,751C253.3,744.7 254.7,736 256,725C257.3,714 258.6,698.3 260,685C261.4,671.7 262.7,655.3 264.4,645C266.1,634.7 267.7,629 270,623C272.3,617 275,614 278,609C281,604 286.3,595.7 288,593Z" fill="#ffaa1e" stroke="#000" stroke-width="1.4" stroke-linejoin="round" />
<path d="M215,593C215.2,611.7 215.6,679.7 216.4,705C217.2,730.3 218.7,735.7 220,745C221.3,754.3 222.7,758.7 224,761C225.3,763.3 226.7,761 228,759C229.3,757 230.3,749.7 232,749C233.7,748.3 236.3,755.7 238,755C239.7,754.3 240.5,746 242,745C243.5,744 245.7,750.7 247,749C248.3,747.3 248.8,742.3 250,735C251.2,727.7 252.7,716.7 254,705C255.3,693.3 256.7,676.3 258,665C259.3,653.7 260.3,645 262,637C263.7,629 265.7,622.3 268,617C270.3,611.7 273.5,609 276,605C278.5,601 281.8,595 283,593Z" fill="#ff7800" stroke="#000" stroke-width="2.5" stroke-linejoin="round" />
<path d="M219,593C219.3,608.3 220.2,663 221,685C221.8,707 222.8,715.3 224,725C225.2,734.7 226.7,740.3 228,743C229.3,745.7 230.7,742.7 232,741C233.3,739.3 234.7,733.7 236,733C237.3,732.3 238.5,738.3 240,737C241.5,735.7 243.5,730.3 245,725C246.5,719.7 247.7,713.3 249,705C250.3,696.7 251.8,685 253,675C254.2,665 255.2,653.3 256.4,645C257.6,636.7 258.7,630.8 260.4,625C262.1,619.2 263.6,615.3 266.4,610C269.2,604.7 275.2,595.8 277,593Z" fill="#ff5000" stroke="#000" stroke-width="1.4" stroke-linejoin="round" />
<path d="M224,593C224.3,605 225.2,647.7 226,665C226.8,682.3 228,689.7 229,697C230,704.3 230.5,708 232,709C233.5,710 236,705 238,703C240,701 242.3,700.7 244,697C245.7,693.3 246.8,687 248,681C249.2,675 250,667.7 251,661C252,654.3 252.8,647.5 254,641C255.2,634.5 256.3,627.5 258,622C259.7,616.5 262.1,612.8 264.4,608C266.7,603.2 270.7,595.5 272,593Z" fill="#ff2800" stroke="#000" stroke-width="2.5" stroke-linejoin="round" />
<path d="M228,593C228.3,600 229,623 230,635C231,647 232.5,658.7 234,665C235.5,671.3 237.3,673.3 239,673C240.7,672.7 242.6,667.7 244,663C245.4,658.3 246.3,651.3 247.6,645C248.9,638.7 249.9,630.8 251.6,625C253.3,619.2 255.2,615.3 257.6,610C260,604.7 264.6,595.8 266,593Z" fill="#ff0000" stroke="#000" stroke-width="1.4" stroke-linejoin="round" />
<path d="M230,593C230.5,597.7 231.7,614 233,621C234.3,628 236.3,633.8 238,635C239.7,636.2 241.3,630.8 243,628C244.7,625.2 245.8,621.7 248,618C250.2,614.3 253.7,610.2 256,606C258.3,601.8 261,595.2 262,593Z" fill="#c80000" stroke="#000" stroke-width="2.5" stroke-linejoin="round" />
<path d="M233,593C233.7,596 235.5,607 237,611C238.5,615 240.2,617.2 242,617C243.8,616.8 245.5,614 248,610C250.5,606 255.5,595.8 257,593Z" fill="#960000" stroke="#000" stroke-width="1.4" stroke-linejoin="round" />
<path d="M410,593C409.7,596 407.3,599.7 408,611C408.7,622.3 410.3,650.3 414,661C417.7,671.7 424,671.7 430,675C436,678.3 443.3,680.8 450,681C456.7,681.2 464,676.7 470,676C476,675.3 481.7,675.2 486,677C490.3,678.8 492,684.2 496,687C500,689.8 505,691.8 510,694C515,696.2 520.7,698.5 526,700C531.3,701.5 537.3,702.7 542,703C546.7,703.3 549.3,701.3 554,702C558.7,702.7 564,707.5 570,707C576,706.5 584.7,702.3 590,699C595.3,695.7 598.7,688.3 602,687C605.3,685.7 607,691 610,691C613,691 616.7,689.3 620,687C623.3,684.7 628,680.7 630,677C632,673.3 632.7,669 632,665C631.3,661 629.7,656 626,653C622.3,650 616,649.3 610,647C604,644.7 596.7,641.3 590,639C583.3,636.7 576.7,634.7 570,633C563.3,631.3 555,629 550,629C545,629 542.7,631 540,633C537.3,635 536.3,639 534,641C531.7,643 529,645 526,645C523,645 518.7,642.7 516,641C513.3,639.3 511.7,639.3 510,635C508.3,630.7 507,622 506,615C505,608 504.3,596.7 504,593Z" fill="#ffc832" stroke="#000" stroke-width="2.5" stroke-linejoin="round" />
<path d="M420,621C418.7,628.3 420.7,643.3 422,649C423.3,654.7 425.7,656.3 428,655C430.3,653.7 433,646 436,641C439,636 442,626.3 446,625C450,623.7 456,633 460,633C464,633 466.7,627 470,625C473.3,623 477.3,619.3 480,621C482.7,622.7 483.7,632 486,635C488.3,638 491.3,639.7 494,639C496.7,638.3 500.3,634 502,631C503.7,628 504.7,625.3 504,621C503.3,616.7 503.7,609 498,605C492.3,601 481.3,597 470,597C458.7,597 438.3,601 430,605C421.7,609 421.3,613.7 420,621Z" fill="#ffaa1e" stroke="#000" stroke-width="1.4" stroke-linejoin="round" />
<path d="M532,645C533.8,640.3 537.3,638 542,637C546.7,636 555.3,639 560,639C564.7,639 565,636 570,637C575,638 585.3,641 590,645C594.7,649 598,656 598,661C598,666 593.7,670.7 590,675C586.3,679.3 581,685.3 576,687C571,688.7 566,686.3 560,685C554,683.7 544.8,682.3 540,679C535.2,675.7 532.3,670.7 531,665C529.7,659.3 530.2,649.7 532,645Z" fill="#ffaa1e" stroke="#000" stroke-width="1.4" stroke-linejoin="round" />
<path d="M568,657C568,654.5 568.9,651.3 570,650C571.1,648.7 573.2,648.1 574.4,649.4C575.6,650.7 577,655.1 577,658C577,660.9 575.6,665.4 574.4,666.6C573.2,667.8 571.1,666.6 570,665C568.9,663.4 568,659.5 568,657Z" fill="#ff7800" stroke="#000" stroke-width="2.2" stroke-linejoin="round" />
<path d="M376,647C376.4,644.8 378,641.6 380,640C382,638.4 385.7,637.1 388,637.4C390.3,637.7 393.1,639.9 393.6,642C394.1,644.1 392.8,647.9 391,650C389.2,652.1 385.2,654.1 383,654.6C380.8,655.1 378.8,654.3 377.6,653C376.4,651.7 375.6,649.2 376,647Z" fill="#ffc832" stroke="#000" stroke-width="2.5" stroke-linejoin="round" />
<path d="M297,593C297.2,594.5 295.8,598.8 298,602C300.2,605.2 304.7,608.3 310,612C315.3,615.7 323.3,621.2 330,624C336.7,626.8 343.3,628 350,629C356.7,630 363.3,630.4 370,630.2C376.7,630 383.3,629.4 390,628C396.7,626.6 405.2,624.7 410,622C414.8,619.3 416.9,615.3 419,612C421.1,608.7 421.7,605.2 422.4,602C423.1,598.8 422.9,594.5 423,593Z" fill="#05050a" />
<path d="M293.6,602.1C295.7,603.9 300.6,608.8 306.2,612.6C311.8,616.5 320.2,622.3 327.2,625.2C334.2,628.2 341.2,629.4 348.2,630.5C355.2,631.6 362.2,631.9 369.2,631.8C376.2,631.6 383.2,630.9 390.2,629.5C397.2,628 406.1,626 411.2,623.1C416.3,620.3 418.5,616.1 420.6,612.6C422.8,609.1 423.6,603.9 424.2,602.1" fill="none" stroke="#000" stroke-width="1.3" stroke-linejoin="round" stroke-linecap="round" />
<path d="M289.2,602.3C291.4,604.1 296.5,609.3 302.4,613.3C308.3,617.3 317.1,623.4 324.4,626.5C331.7,629.6 339.1,630.9 346.4,632C353.7,633.1 361.1,633.5 368.4,633.3C375.7,633.1 383.1,632.4 390.4,630.9C397.7,629.4 407.1,627.2 412.4,624.3C417.7,621.4 420,617 422.3,613.3C424.6,609.6 425.4,604.1 426,602.3" fill="none" stroke="#000" stroke-width="1.3" stroke-linejoin="round" stroke-linecap="round" />
<path d="M283.9,602.5C286.2,604.4 291.7,609.8 297.8,614.1C304,618.3 313.3,624.7 321,628C328.8,631.3 336.5,632.6 344.2,633.8C352,635 359.7,635.4 367.4,635.2C375.2,635 382.9,634.2 390.6,632.6C398.4,631.1 408.2,628.8 413.8,625.7C419.4,622.6 421.9,617.9 424.3,614.1C426.7,610.2 427.6,604.4 428.2,602.5" fill="none" stroke="#000" stroke-width="1.3" stroke-linejoin="round" stroke-linecap="round" />
<path d="M304.2,601.8C306,603.3 310.4,607.7 315.3,611.1C320.3,614.5 327.7,619.6 333.9,622.2C340.1,624.9 346.3,625.9 352.5,626.9C358.7,627.9 364.9,628.2 371.1,628C377.3,627.9 383.5,627.2 389.7,626C395.9,624.7 403.8,622.9 408.3,620.4C412.8,617.9 414.8,614.2 416.7,611.1C418.6,608 419.3,603.3 419.9,601.8" fill="none" stroke="#8cf0ff" stroke-width="2.2" stroke-linejoin="round" stroke-linecap="round" stroke-dasharray="5 6" stroke-dashoffset="0"/>
<path d="M312.1,601.5C313.8,602.9 317.7,606.8 322.2,609.9C326.6,613 333.4,617.6 339,620C344.6,622.4 350.2,623.3 355.8,624.2C361.4,625.1 367,625.3 372.6,625.2C378.2,625.1 383.8,624.5 389.4,623.4C395,622.2 402.1,620.6 406.2,618.3C410.2,616.1 412,612.7 413.7,609.9C415.5,607.1 416.1,602.9 416.6,601.5" fill="none" stroke="#6ee6ff" stroke-width="2.2" stroke-linejoin="round" stroke-linecap="round" stroke-dasharray="5 6" stroke-dashoffset="5"/>
<path d="M320,601.2C321.5,602.5 325,606 329,608.8C333,611.5 339,615.6 344,617.8C349,619.9 354,620.7 359,621.5C364,622.3 369,622.5 374,622.4C379,622.3 384,621.8 389,620.8C394,619.7 400.4,618.2 404,616.2C407.6,614.2 409.2,611.2 410.8,608.8C412.3,606.2 412.9,602.5 413.3,601.2" fill="none" stroke="#46d7ff" stroke-width="2.2" stroke-linejoin="round" stroke-linecap="round" stroke-dasharray="5 6" stroke-dashoffset="10"/>
<path d="M327.9,601C329.2,602.1 332.3,605.2 335.8,607.6C339.4,610 344.6,613.6 349,615.5C353.4,617.4 357.8,618.1 362.2,618.8C366.6,619.5 371,619.7 375.4,619.6C379.8,619.5 384.2,619 388.6,618.1C393,617.2 398.7,615.9 401.8,614.2C405,612.4 406.4,609.8 407.8,607.6C409.1,605.4 409.6,602.1 410,601" fill="none" stroke="#28aaff" stroke-width="2.2" stroke-linejoin="round" stroke-linecap="round" stroke-dasharray="5 6" stroke-dashoffset="15"/>
<path d="M335.8,600.7C337,601.7 339.6,604.3 342.7,606.4C345.7,608.5 350.3,611.6 354.1,613.2C357.9,614.9 361.7,615.5 365.5,616.1C369.3,616.7 373.1,616.9 376.9,616.8C380.7,616.7 384.5,616.3 388.3,615.5C392.1,614.8 396.9,613.6 399.7,612.1C402.4,610.6 403.6,608.3 404.8,606.4C406,604.5 406.4,601.7 406.7,600.7" fill="none" stroke="#0082ff" stroke-width="2.2" stroke-linejoin="round" stroke-linecap="round" stroke-dasharray="5 6" stroke-dashoffset="20"/>
<path d="M343.8,600.4C344.7,601.2 347,603.5 349.5,605.2C352.1,607 355.9,609.6 359.1,611C362.3,612.4 365.5,612.9 368.7,613.4C371.9,613.9 375.1,614.1 378.3,614C381.5,613.9 384.7,613.6 387.9,612.9C391.1,612.3 395.2,611.3 397.5,610C399.8,608.8 400.8,606.8 401.8,605.2C402.8,603.6 403.2,601.2 403.5,600.4" fill="none" stroke="#0050ff" stroke-width="2.2" stroke-linejoin="round" stroke-linecap="round" stroke-dasharray="5 6" stroke-dashoffset="25"/>
<path d="M340,593C340.3,594.7 337,601.3 342,603.4C347,605.5 360.3,605.5 370,605.8C379.7,606.1 392,605.5 400,605C408,604.5 414.8,605 418,603C421.2,601 418.8,594.7 419,593Z" fill="#0000c8" />
<path d="M370,593C370.3,594.6 368.7,600.8 372,602.6C375.3,604.4 383.7,603.8 390,603.8C396.3,603.8 405.7,604.4 410,602.6C414.3,600.8 415,594.6 416,593Z" fill="#000078" />
<path d="M416,593C416.3,596.9 416.3,611.2 417.6,616.4C418.9,621.6 420.9,623.2 424,624C427.1,624.8 430.3,620.7 436,621C441.7,621.3 449.7,625.8 458,626C466.3,626.2 479.7,623 486,622C492.3,621 493.3,621.3 496,620C498.7,618.7 500.7,618.5 502,614C503.3,609.5 503.7,596.5 504,593Z" fill="#ffaa1e" stroke="#000" stroke-width="2.2" stroke-linejoin="round" />
<path d="M422,593C422.3,596.5 422.3,609.5 423.6,614C424.9,618.5 426.9,619.5 430,620C433.1,620.5 437.1,616.7 442,617C446.9,617.3 452.7,621.8 459.5,622C466.3,622.2 477.4,619 483,618C488.6,617 490.3,617 493,616C495.7,615 497.7,615.8 499,612C500.3,608.2 500.7,596.2 501,593Z" fill="#ff7800" stroke="#000" stroke-width="1.3" stroke-linejoin="round" />
<path d="M428,593C428.3,596.2 428.3,608 429.6,612C430.9,615.9 432.9,616.3 436,616.6C439.1,616.9 443.8,613.3 448,613.6C452.2,613.9 455.7,618.4 461,618.6C466.3,618.8 475.2,615.6 480,614.6C484.8,613.6 487.3,613.3 490,612.6C492.7,611.9 494.7,613.6 496,610.3C497.3,607 497.7,595.9 498,593Z" fill="#ff5000" stroke="#000" stroke-width="2.2" stroke-linejoin="round" />
<path d="M434,593C434.3,595.8 434.3,606.6 435.6,610C436.9,613.4 438.9,613.3 442,613.4C445.1,613.5 450.6,610.1 454,610.4C457.4,610.7 458.7,615.2 462.5,615.4C466.3,615.6 472.9,612.4 477,611.4C481.1,610.4 484.3,609.8 487,609.4C489.7,609 491.7,611.4 493,608.7C494.3,606 494.7,595.6 495,593Z" fill="#ff2800" stroke="#000" stroke-width="1.3" stroke-linejoin="round" />
<path d="M440,593C440.3,595.6 440.3,605.4 441.6,608.4C442.9,611.3 444.9,610.7 448,610.6C451.1,610.5 457.3,607.3 460,607.6C462.7,607.9 461.7,612.4 464,612.6C466.3,612.8 470.7,609.6 474,608.6C477.3,607.6 481.3,606.8 484,606.6C486.7,606.4 488.7,609.6 490,607.3C491.3,605 491.7,595.4 492,593Z" fill="#ff0000" stroke="#000" stroke-width="2.2" stroke-linejoin="round" />
<path d="M446,593C446.3,595.3 446.3,604.4 447.6,606.9C448.9,609.5 450.9,608.5 454,608.2C457.1,607.9 464.1,604.9 466,605.2C467.9,605.5 464.7,610 465.5,610.2C466.3,610.4 468.4,607.2 471,606.2C473.6,605.2 478.3,604.2 481,604.2C483.7,604.2 485.7,608 487,606.1C488.3,604.2 488.7,595.2 489,593Z" fill="#c80000" stroke="#000" stroke-width="1.3" stroke-linejoin="round" />
<path d="M452,593C452.3,595.1 452.3,603.3 453.6,605.5C454.9,607.6 456.9,606.2 460,605.8C463.1,605.4 470.8,602.5 472,602.8C473.2,603.1 467.7,607.6 467,607.8C466.3,608 466.2,604.8 468,603.8C469.8,602.8 475.3,601.6 478,601.8C480.7,602 482.7,606.4 484,604.9C485.3,603.4 485.7,595 486,593Z" fill="#960000" stroke="#000" stroke-width="2.2" stroke-linejoin="round" />
<path d="M458,593C458.3,594.9 458.3,602.5 459.6,604.3C460.9,606.1 462.9,604.4 466,603.8C469.1,603.2 477.6,600.5 478,600.8C478.4,601.1 470.7,605.6 468.5,605.8C466.3,606 463.9,602.8 465,601.8C466.1,600.8 472.3,599.4 475,599.8C477.7,600.1 479.7,605 481,603.9C482.3,602.8 482.7,594.8 483,593Z" fill="#640000" stroke="#000" stroke-width="1.3" stroke-linejoin="round" />
<path d="M524,597C515.7,598.3 525.3,603.3 528,605C530.7,606.7 534.3,607.1 540,607.4C545.7,607.7 556,607.2 562,606.6C568,606 573.3,605.6 576,604C578.7,602.4 586.7,598.2 578,597C569.3,595.8 532.3,595.7 524,597Z" fill="#d2ffff" stroke="#000" stroke-width="1.2" stroke-linejoin="round" stroke-dasharray="6 4"/>
<path d="M538,604C540,604.1 546,604.6 550,604.6C554,604.6 560,603.9 562,603.8" fill="none" stroke="#000" stroke-width="1.2" stroke-linejoin="round" stroke-linecap="round" stroke-dasharray="6 4" />
<path d="M192.4,602 192.2,665 192,705 191,745 189,757 186,763 182,755 178,732 174,749 172.4,765 172,785 166,801 163,815 161.6,827" fill="none" stroke="#000" stroke-width="2.5" stroke-linejoin="round" stroke-linecap="round" />
<path d="M266,881 264,861 267,845 270,835 278,821 282,823 290,805 296,807 302,797 320,789 330,779 346,771 354,775 360,773 366,777 370,771 376,781 378,785 379,821 380.4,855 384,825 388,795 391,785 395,797 399,813 404,801 409,783 413,779 415.6,785 417,805 419,845 423.6,861 421.6,875 420,883" fill="none" stroke="#000" stroke-width="2.5" stroke-linejoin="round" stroke-linecap="round" />
<path d="M430,889 424,861 422,825 422.4,795 424,781 430,787 434,795 446,807 456,819 466,807 476,821 484,835 490,829 496,833" fill="none" stroke="#000" stroke-width="2.5" stroke-linejoin="round" stroke-linecap="round" />
<path d="M510,824 514,829 522,831 530,841 534,837 542,843 550,853 558,849 562,841 570,837 576,825 584,829 590,821 598,811 604,819 608,811 612,823 616,811" fill="none" stroke="#000" stroke-width="2.5" stroke-linejoin="round" stroke-linecap="round" />
<text x="503" y="837.4" font-size="16" text-anchor="middle" font-weight="bold" transform="rotate(60 503 837.4)">0</text>
<path d="M428,879 436,877 446,881 450,879 452,905 460,911 468,915" fill="none" stroke="#000" stroke-width="2.5" stroke-linejoin="round" stroke-linecap="round" />
<path d="M470,885 478,865 485,847 486,865 488,905 490,913 496,911 506,915 514,913" fill="none" stroke="#000" stroke-width="2.5" stroke-linejoin="round" stroke-linecap="round" />
<path d="M442,913 445,905 447,913" fill="none" stroke="#000" stroke-width="2.0" stroke-linejoin="round" stroke-linecap="round" />
<path d="M364,913C364.3,907.7 364.3,888.7 366,881C367.7,873.3 371.7,869 374,867C376.3,865 378.3,866 380,869C381.7,872 383,877.7 384,885C385,892.3 385.7,908.3 386,913" fill="none" stroke="#000" stroke-width="2.5" stroke-linejoin="round" stroke-linecap="round" />
<path d="M192,885C192.3,883.7 193.2,877 194,877C194.8,877 196.5,883.7 197,885" fill="none" stroke="#000" stroke-width="2.0" stroke-linejoin="round" stroke-linecap="round" />
<path d="M238,913C239,913.7 242.3,915.8 244,917C245.7,918.2 247.3,919.5 248,920" fill="none" stroke="#000" stroke-width="2.0" stroke-linejoin="round" stroke-linecap="round" />
<path d="M372,808.6C372,807.5 373.5,806 375,805.4C376.5,804.8 379.5,804.6 381,805C382.5,805.4 384,806.9 384,808C384,809.1 382.5,810.8 381,811.4C379.5,812 376.5,812.3 375,811.8C373.5,811.3 372,809.7 372,808.6Z" fill="none" stroke="#000" stroke-width="2.5" stroke-linejoin="round" stroke-linecap="round" />
<path d="M328,841C327.1,840 326.8,830 327,825C327.2,820 328.2,812.7 329,811C329.8,809.3 331.4,811.7 332,815C332.6,818.3 333.1,826.7 332.4,831C331.7,835.3 328.9,842 328,841Z" fill="#d8ffff" stroke="#000" stroke-width="1.2" stroke-linejoin="round" stroke-dasharray="6 4"/>
<path d="M338,821C337.7,816.7 338.3,810 340,807C341.7,804 345.3,803 348,803C350.7,803 353.3,806.7 356,807C358.7,807.3 362.2,803.3 364,805C365.8,806.7 367,813 367,817C367,821 365.8,826 364,829C362.2,832 358.7,834.7 356,835C353.3,835.3 350.3,831.3 348,831C345.7,830.7 343.7,834.7 342,833C340.3,831.3 338.3,825.3 338,821Z" fill="#d8ffff" stroke="#000" stroke-width="1.2" stroke-linejoin="round" stroke-dasharray="6 4"/>
<path d="M302,825C302.2,823.9 304.7,823.5 306,824C307.3,824.5 310.2,826.9 310,828C309.8,829.1 306.3,831.1 305,830.6C303.7,830.1 301.8,826.1 302,825Z" fill="#d8ffff" stroke="#000" stroke-width="1.2" stroke-linejoin="round" stroke-dasharray="6 4"/>
<path d="M408.4,841C407.6,838.7 407.6,827 408,821C408.4,815 409.9,806 411,805C412.1,804 414.1,810 414.4,815C414.7,820 414,830.7 413,835C412,839.3 409.2,843.3 408.4,841Z" fill="#d8ffff" stroke="#000" stroke-width="1.2" stroke-linejoin="round" stroke-dasharray="6 4"/>
<path d="M348,804C348.3,806.2 349.8,812.5 350,817C350.2,821.5 349.2,828.7 349,831" fill="none" stroke="#000" stroke-width="1.2" stroke-linejoin="round" stroke-linecap="round" stroke-dasharray="6 4" />
<path d="M356,807C356.3,809 357.8,814.7 358,819C358.2,823.3 357.2,830.7 357,833" fill="none" stroke="#000" stroke-width="1.2" stroke-linejoin="round" stroke-linecap="round" stroke-dasharray="6 4" />
<path d="M644,729 646,715 650,721 655,715 662,729 666,723 670,729 672,741 673.2,757" fill="none" stroke="#000" stroke-width="2.5" stroke-linejoin="round" stroke-linecap="round" />
<path d="M674,777 677,773 680,781 685,765 690,755 694,745 700,737 706,745 710,733 712,729" fill="none" stroke="#000" stroke-width="2.5" stroke-linejoin="round" stroke-linecap="round" />
<path d="M715,602C714.8,605.8 714.3,614.5 714,625C713.7,635.5 713,651.7 713,665C713,678.3 713.5,695.3 714,705C714.5,714.7 715.7,720 716,723" fill="none" stroke="#000" stroke-width="1.6" stroke-linejoin="round" stroke-linecap="round" />
<path d="M716,723C716.5,730 719,753 719,765C719,777 717.2,787.7 716,795C714.8,802.3 713.3,806.3 712,809C710.7,811.7 708.7,810.7 708,811" fill="none" stroke="#000" stroke-width="2.2" stroke-linejoin="round" stroke-linecap="round" />
<path d="M712,729C712.7,733.3 715.7,745.7 716,755C716.3,764.3 714.8,776.7 714,785C713.2,793.3 711.5,801.7 711,805" fill="none" stroke="#000" stroke-width="1.4" stroke-linejoin="round" stroke-linecap="round" />
<path d="M724,823 728,797 732,801 734,825" fill="none" stroke="#000" stroke-width="2.2" stroke-linejoin="round" stroke-linecap="round" />
<path d="M706.4,727.4C706.5,726.5 707.9,725.2 709,725C710.1,724.8 712.4,725.3 713,726C713.6,726.7 713.2,728.7 712.4,729.4C711.6,730.1 709.4,730.5 708.4,730.2C707.4,729.9 706.3,728.3 706.4,727.4Z" fill="none" stroke="#000" stroke-width="2.2" stroke-linejoin="round" stroke-linecap="round" />
<path d="M725.6,731C725.6,729.3 726.4,726 727,726C727.6,726 729,729.3 729,731C729,732.7 727.8,736 727.2,736C726.6,736 725.6,732.7 725.6,731Z" fill="none" stroke="#000" stroke-width="2.0" stroke-linejoin="round" stroke-linecap="round" />
<path d="M730,751 731,761" fill="none" stroke="#000" stroke-width="2.5" stroke-linejoin="round" stroke-linecap="round" />
<text x="260" y="636" font-size="19" text-anchor="middle" font-weight="bold" transform="rotate(-75 260 636)">20</text>
<text x="256.4" y="720" font-size="19" text-anchor="middle" font-weight="bold" transform="rotate(-75 256.4 720)">16</text>
<text x="258" y="761" font-size="19" text-anchor="middle" font-weight="bold" transform="rotate(-70 258 761)">12</text>
<text x="272.4" y="743" font-size="19" text-anchor="middle" font-weight="bold" transform="rotate(-70 272.4 743)">8</text>
<text x="265.6" y="805" font-size="19" text-anchor="middle" font-weight="bold" transform="rotate(-60 265.6 805)">4</text>
<text x="530" y="704" font-size="19" text-anchor="middle" font-weight="bold" transform="rotate(12 530 704)">12</text>
<text x="595" y="734" font-size="19" text-anchor="middle" font-weight="bold" transform="rotate(-45 595 734)">8</text>
<text x="589" y="782" font-size="19" text-anchor="middle" font-weight="bold" transform="rotate(-35 589 782)">4</text>
<text x="613" y="604" font-size="19" text-anchor="middle" font-weight="bold" transform="rotate(15 613 604)">0</text>
<text x="298" y="599" font-size="19" text-anchor="middle" font-weight="bold" transform="rotate(0 298 599)">0</text>
<text x="267" y="599" font-size="19" text-anchor="middle" font-weight="bold" transform="rotate(0 267 599)">8</text>
<text x="253" y="599" font-size="19" text-anchor="middle" font-weight="bold" transform="rotate(0 253 599)">4</text>
</g>
<path d="M94.2,597.6 138.7,597.6 138.7,637 142,637 146,641 146,768 149.4,782 149.4,811 153.4,827 160,827 167.4,861 181,861 185,884.4 239,884.4 242.5,913 245.6,939 246.4,939 249,913.6 267,913.6 271,884.4 274,884.4 278,913.6 282,913.6 285,884.4 288.4,884.4 292,913.6 299,913.6 302.6,884.4 313,884.4 317,913.6 403,913.6 407,884.4 427,884.4 431,913.6 468,913.6 470,885 473.6,913.6 516,913.6 521,940 524,940 527,913.6 591.6,913.6 595.6,884.4 599,884.4 599,858 602,841 606,841 610,827 616,827 634,754 638,754 641.6,743 649,782 653,784 656.4,797.6 660,797.6 662.4,769 667,768 669.6,755 677,812 708,812 713,827 722,827 727,841 731,841 735,827 736,827 736,975 94.2,975Z" fill="#000" />
<rect x="94.2" y="597.6" width="641.8" height="377.4" fill="none" stroke="#000" stroke-width="4.2"/>
<path d="M94.2,597.6v-9.9M94.2,975v9.9M129.9,597.6v-7.3M129.9,975v7.3M165.5,597.6v-7.3M165.5,975v7.3M201.2,597.6v-9.9M201.2,975v9.9M236.8,597.6v-7.3M236.8,975v7.3M272.5,597.6v-7.3M272.5,975v7.3M308.1,597.6v-9.9M308.1,975v9.9M343.8,597.6v-7.3M343.8,975v7.3M379.4,597.6v-7.3M379.4,975v7.3M415.1,597.6v-9.9M415.1,975v9.9M450.8,597.6v-7.3M450.8,975v7.3M486.4,597.6v-7.3M486.4,975v7.3M522.1,597.6v-9.9M522.1,975v9.9M557.7,597.6v-7.3M557.7,975v7.3M593.4,597.6v-7.3M593.4,975v7.3M629,597.6v-9.9M629,975v9.9M664.7,597.6v-7.3M664.7,975v7.3M700.3,597.6v-7.3M700.3,975v7.3M736,597.6v-9.9M736,975v9.9M94.2,597.6h-9.9M736,597.6h9.9M94.2,626.6h-7.3M736,626.6h7.3M94.2,655.6h-7.3M736,655.6h7.3M94.2,684.6h-7.3M736,684.6h7.3M94.2,713.6h-9.9M736,713.6h9.9M94.2,742.6h-7.3M736,742.6h7.3M94.2,771.6h-7.3M736,771.6h7.3M94.2,800.6h-7.3M736,800.6h7.3M94.2,829.6h-9.9M736,829.6h9.9M94.2,858.6h-7.3M736,858.6h7.3M94.2,887.6h-7.3M736,887.6h7.3M94.2,916.6h-7.3M736,916.6h7.3M94.2,945.6h-9.9M736,945.6h9.9M94.2,974.6h-7.3M736,974.6h7.3" stroke="#000" stroke-width="4.2" stroke-linecap="round" fill="none"/>
<text x="94.2" y="1021" font-size="31" text-anchor="middle" textLength="52.6" lengthAdjust="spacingAndGlyphs" stroke="#000" stroke-width="1.3" stroke-linejoin="round">90S</text>
<text x="201.2" y="1021" font-size="31" text-anchor="middle" textLength="52.6" lengthAdjust="spacingAndGlyphs" stroke="#000" stroke-width="1.3" stroke-linejoin="round">60S</text>
<text x="308.1" y="1021" font-size="31" text-anchor="middle" textLength="52.6" lengthAdjust="spacingAndGlyphs" stroke="#000" stroke-width="1.3" stroke-linejoin="round">30S</text>
<text x="415.1" y="1021" font-size="31" text-anchor="middle" textLength="50.9" lengthAdjust="spacingAndGlyphs" stroke="#000" stroke-width="1.3" stroke-linejoin="round">EQ.</text>
<text x="522.1" y="1021" font-size="31" text-anchor="middle" textLength="54.2" lengthAdjust="spacingAndGlyphs" stroke="#000" stroke-width="1.3" stroke-linejoin="round">30N</text>
<text x="629" y="1021" font-size="31" text-anchor="middle" textLength="54.2" lengthAdjust="spacingAndGlyphs" stroke="#000" stroke-width="1.3" stroke-linejoin="round">60N</text>
<text x="736" y="1021" font-size="31" text-anchor="middle" textLength="54.2" lengthAdjust="spacingAndGlyphs" stroke="#000" stroke-width="1.3" stroke-linejoin="round">90N</text>
<text x="67.7" y="608.8" font-size="31" text-anchor="end" stroke="#000" stroke-width="1.3" stroke-linejoin="round">0</text>
<text x="67.7" y="724.8" font-size="31" text-anchor="end" stroke="#000" stroke-width="1.3" stroke-linejoin="round">2</text>
<text x="67.7" y="840.8" font-size="31" text-anchor="end" stroke="#000" stroke-width="1.3" stroke-linejoin="round">4</text>
<text x="67.7" y="956.8" font-size="31" text-anchor="end" stroke="#000" stroke-width="1.3" stroke-linejoin="round">6</text>
<text x="27" y="786.6" font-size="38" text-anchor="middle" textLength="201" lengthAdjust="spacingAndGlyphs" transform="rotate(-90 27 786.6)" xml:space="preserve" stroke="#000" stroke-width="1.3" stroke-linejoin="round">Depth  (km)</text>
<text x="3" y="560" font-size="43">c</text>
<text x="409" y="563" font-size="36.4" text-anchor="middle">Global overturning streamfunction in TED</text>
</g>
<g id="pd">
<defs><clipPath id="cd"><rect x="873.7" y="597.6" width="638.8" height="377.4"/></clipPath></defs>
<g clip-path="url(#cd)">
<path d="M932,597C932.7,601.7 934.7,613.7 936,625C937.3,636.3 938.7,651.7 940,665C941.3,678.3 943,695.3 944,705C945,714.7 944.3,720.3 946,723C947.7,725.7 952,720.7 954,721C956,721.3 956.7,721.7 958,725C959.3,728.3 960.8,736 962,741C963.2,746 963.8,754.3 965,755C966.2,755.7 967.8,753.3 969,745C970.2,736.7 971.2,721.7 972,705C972.8,688.3 973.6,663 974,645C974.4,627 974.3,605 974.4,597Z" fill="#d2ffff" stroke="#000" stroke-width="1.3" stroke-linejoin="round" stroke-dasharray="8 5"/>
<path d="M940,597C940.2,601.7 940.3,616 941,625C941.7,634 942.7,643.3 944,651C945.3,658.7 947.3,668.7 949,671C950.7,673.3 952.5,663.7 954,665C955.5,666.3 956.7,673.7 958,679C959.3,684.3 960.8,692.7 962,697C963.2,701.3 964.1,707 965,705C965.9,703 966.8,695 967.6,685C968.4,675 969.2,659.7 969.6,645C970,630.3 969.9,605 970,597Z" fill="#b4ffff" stroke="#000" stroke-width="2.4" stroke-linejoin="round" stroke-dasharray="8 5"/>
<path d="M950,602C949.7,603.5 947.3,607.2 948,611C948.7,614.8 952,623.3 954,625C956,626.7 958.3,624.8 960,621C961.7,617.2 963.3,605.2 964,602" fill="none" stroke="#000" stroke-width="1.3" stroke-linejoin="round" stroke-linecap="round" stroke-dasharray="7 5" />
<path d="M961,602C961.3,609.2 962.2,632.8 963,645C963.8,657.2 964.8,675 965.6,675C966.4,675 967.3,657.2 967.6,645C967.9,632.8 967.3,609.2 967.2,602" fill="none" stroke="#000" stroke-width="1.3" stroke-linejoin="round" stroke-linecap="round" stroke-dasharray="7 5" />
<path d="M994,805C997,798.7 1005.3,799.7 1010,797C1014.7,794.3 1018,793 1022,789C1026,785 1030.3,778.3 1034,773C1037.7,767.7 1040.7,762.3 1044,757C1047.3,751.7 1051,745.3 1054,741C1057,736.7 1057.7,732.3 1062,731C1066.3,729.7 1075.3,733.3 1080,733C1084.7,732.7 1085,729 1090,729C1095,729 1103.3,730.7 1110,733C1116.7,735.3 1123.3,740 1130,743C1136.7,746 1144,748.3 1150,751C1156,753.7 1161.3,757 1166,759C1170.7,761 1174,762.7 1178,763C1182,763.3 1186.7,762 1190,761C1193.3,760 1195.3,756.3 1198,757C1200.7,757.7 1203,760.3 1206,765C1209,769.7 1212,778.3 1216,785C1220,791.7 1226,800 1230,805C1234,810 1237.3,810.7 1240,815C1242.7,819.3 1244.3,822.7 1246,831C1247.7,839.3 1250,856.7 1250,865C1250,873.3 1248.3,877.7 1246,881C1243.7,884.3 1240.3,886 1236,885C1231.7,884 1225,877.7 1220,875C1215,872.3 1210,871 1206,869C1202,867 1198.3,861.3 1196,863C1193.7,864.7 1193.7,878.7 1192,879C1190.3,879.3 1189,867.7 1186,865C1183,862.3 1177.3,862.3 1174,863C1170.7,863.7 1168,871.3 1166,869C1164,866.7 1163.3,853.7 1162,849C1160.7,844.3 1159.3,840.7 1158,841C1156.7,841.3 1156,847 1154,851C1152,855 1150,861.3 1146,865C1142,868.7 1135,871 1130,873C1125,875 1120,875 1116,877C1112,879 1110.3,884.3 1106,885C1101.7,885.7 1096,882.7 1090,881C1084,879.3 1076.7,876 1070,875C1063.3,874 1056,875.3 1050,875C1044,874.7 1038.7,875 1034,873C1029.3,871 1026,865 1022,863C1018,861 1014,861.7 1010,861C1006,860.3 1001,863.3 998,859C995,854.7 992.7,844 992,835C991.3,826 991,811.3 994,805Z" fill="#d2ffff" stroke="#000" stroke-width="1.3" stroke-linejoin="round" stroke-dasharray="8 5"/>
<path d="M1008,827C1008,822.3 1011,814 1014,809C1017,804 1022,802 1026,797C1030,792 1034,785.3 1038,779C1042,772.7 1046,765 1050,759C1054,753 1057,745.7 1062,743C1067,740.3 1073.7,743.3 1080,743C1086.3,742.7 1093.3,740.7 1100,741C1106.7,741.3 1113.3,742.7 1120,745C1126.7,747.3 1134.3,751.7 1140,755C1145.7,758.3 1151,760 1154,765C1157,770 1157.7,778.3 1158,785C1158.3,791.7 1157.3,797.7 1156,805C1154.7,812.3 1152.7,822.7 1150,829C1147.3,835.3 1145,837.7 1140,843C1135,848.3 1126.7,857 1120,861C1113.3,865 1106.7,866.3 1100,867C1093.3,867.7 1086.7,866 1080,865C1073.3,864 1066,862.7 1060,861C1054,859.3 1048.3,857.7 1044,855C1039.7,852.3 1037.7,847.3 1034,845C1030.3,842.7 1025.3,842.3 1022,841C1018.7,839.7 1016.3,839.3 1014,837C1011.7,834.7 1008,831.7 1008,827Z" fill="#b4ffff" stroke="#000" stroke-width="2.6" stroke-linejoin="round" stroke-dasharray="8 5"/>
<path d="M1028,825C1027.7,821 1028,816.7 1030,811C1032,805.3 1036,798 1040,791C1044,784 1049,774.7 1054,769C1059,763.3 1064,759.7 1070,757C1076,754.3 1083.3,753.3 1090,753C1096.7,752.7 1103.3,753 1110,755C1116.7,757 1124,760.7 1130,765C1136,769.3 1143,775 1146,781C1149,787 1148.3,794.3 1148,801C1147.7,807.7 1146.3,815 1144,821C1141.7,827 1138,832.3 1134,837C1130,841.7 1125.7,846 1120,849C1114.3,852 1106.7,854.3 1100,855C1093.3,855.7 1086.7,854.3 1080,853C1073.3,851.7 1066,849 1060,847C1054,845 1048.7,843 1044,841C1039.3,839 1034.7,837.7 1032,835C1029.3,832.3 1028.3,829 1028,825Z" fill="#96ffff" stroke="#000" stroke-width="1.3" stroke-linejoin="round" stroke-dasharray="8 5"/>
<path d="M1060,815C1059.3,809 1060.3,800.7 1062,795C1063.7,789.3 1066,785 1070,781C1074,777 1081,773.3 1086,771C1091,768.7 1095.3,766.7 1100,767C1104.7,767.3 1109.7,770.3 1114,773C1118.3,775.7 1122.7,779.3 1126,783C1129.3,786.7 1132.7,790.3 1134,795C1135.3,799.7 1135,805.3 1134,811C1133,816.7 1131.3,824 1128,829C1124.7,834 1119.3,838.3 1114,841C1108.7,843.7 1102,845 1096,845C1090,845 1083,843.3 1078,841C1073,838.7 1069,835.3 1066,831C1063,826.7 1060.7,821 1060,815Z" fill="#7df8ff" stroke="#000" stroke-width="2.6" stroke-linejoin="round" stroke-dasharray="8 5"/>
<path d="M1080,815C1080,811 1080.3,803.3 1082,799C1083.7,794.7 1087,791 1090,789C1093,787 1096.7,786.3 1100,787C1103.3,787.7 1107.8,790 1110,793C1112.2,796 1113,800.7 1113,805C1113,809.3 1112.2,815.3 1110,819C1107.8,822.7 1103.7,825.3 1100,827C1096.3,828.7 1091,829.7 1088,829C1085,828.3 1083.3,825.3 1082,823C1080.7,820.7 1080,819 1080,815Z" fill="#5ae8ff" stroke="#000" stroke-width="1.3" stroke-linejoin="round" stroke-dasharray="8 5"/>
<path d="M1165,785C1166,779.3 1167.8,779.7 1170,781C1172.2,782.3 1175.3,792 1178,793C1180.7,794 1183.3,789.7 1186,787C1188.7,784.3 1191.7,779.3 1194,777C1196.3,774.7 1197.3,771.7 1200,773C1202.7,774.3 1206.7,779.7 1210,785C1213.3,790.3 1216.7,798.3 1220,805C1223.3,811.7 1227.8,818.3 1230,825C1232.2,831.7 1232.7,838.7 1233,845C1233.3,851.3 1233.8,860.3 1232,863C1230.2,865.7 1225.7,863 1222,861C1218.3,859 1214,853.7 1210,851C1206,848.3 1201.3,844.3 1198,845C1194.7,845.7 1192.7,855 1190,855C1187.3,855 1184.7,845.7 1182,845C1179.3,844.3 1176.3,851.7 1174,851C1171.7,850.3 1169.7,847 1168,841C1166.3,835 1164.5,824.3 1164,815C1163.5,805.7 1164,790.7 1165,785Z" fill="#b4ffff" stroke="#000" stroke-width="2.6" stroke-linejoin="round" stroke-dasharray="8 5"/>
<path d="M1184,815C1184.3,810.7 1186.3,808 1188,805C1189.7,802 1191.7,798.7 1194,797C1196.3,795.3 1199.7,793 1202,795C1204.3,797 1206.3,804 1208,809C1209.7,814 1213,820.7 1212,825C1211,829.3 1205,833.3 1202,835C1199,836.7 1196,833.3 1194,835C1192,836.7 1191.3,845.7 1190,845C1188.7,844.3 1187,836 1186,831C1185,826 1183.7,819.3 1184,815Z" fill="#96ffff" stroke="#000" stroke-width="1.3" stroke-linejoin="round" stroke-dasharray="8 5"/>
<path d="M1256,845C1255.6,842 1256.3,828 1257,825C1257.7,822 1259.6,824 1260,827C1260.4,830 1260.3,840 1259.6,843C1258.9,846 1256.4,848 1256,845Z" fill="#d8ffff" stroke="#000" stroke-width="1.2" stroke-linejoin="round" stroke-dasharray="6 4"/>
<path d="M1264,865C1263.5,861 1264.2,845.7 1265,841C1265.8,836.3 1268.1,835 1269,837C1269.9,839 1270.6,848.3 1270.4,853C1270.2,857.7 1269.1,863 1268,865C1266.9,867 1264.5,869 1264,865Z" fill="#d8ffff" stroke="#000" stroke-width="1.2" stroke-linejoin="round" stroke-dasharray="6 4"/>
<path d="M1283,863C1282.6,860.3 1284,855.7 1285,855C1286,854.3 1288.6,856.3 1289,859C1289.4,861.7 1288.6,870.3 1287.6,871C1286.6,871.7 1283.4,865.7 1283,863Z" fill="#d8ffff" stroke="#000" stroke-width="1.2" stroke-linejoin="round" stroke-dasharray="6 4"/>
<path d="M1010,827C1009.3,826.7 1006,825.7 1006,825C1006,824.3 1009.3,823.3 1010,823" fill="none" stroke="#000" stroke-width="2.2" stroke-linejoin="round" stroke-linecap="round" />
<path d="M978,593C978.1,608.3 978.1,659.7 978.4,685C978.7,710.3 979.1,729 980,745C980.9,761 982.7,772.7 984,781C985.3,789.3 986.3,794.3 988,795C989.7,795.7 991.7,787.3 994,785C996.3,782.7 999.3,782.3 1002,781C1004.7,779.7 1007.3,778.7 1010,777C1012.7,775.3 1015.7,769.7 1018,771C1020.3,772.3 1022,785 1024,785C1026,785 1027.7,775.3 1030,771C1032.3,766.7 1034.7,763.3 1038,759C1041.3,754.7 1046.7,751.3 1050,745C1053.3,738.7 1056,727 1058,721C1060,715 1060,711.7 1062,709C1064,706.3 1065.3,704.3 1070,705C1074.7,705.7 1083.3,711 1090,713C1096.7,715 1103.3,715 1110,717C1116.7,719 1123.3,722.3 1130,725C1136.7,727.7 1143.3,730.3 1150,733C1156.7,735.7 1164.7,740.3 1170,741C1175.3,741.7 1178.7,736.8 1182,737C1185.3,737.2 1186.7,742 1190,742C1193.3,742 1198.7,736.5 1202,737C1205.3,737.5 1205.3,741.7 1210,745C1214.7,748.3 1223.3,752.7 1230,757C1236.7,761.3 1243.3,766.3 1250,771C1256.7,775.7 1263.3,780.7 1270,785C1276.7,789.3 1283.3,793 1290,797C1296.7,801 1303.3,804.7 1310,809C1316.7,813.3 1325.3,820 1330,823C1334.7,826 1334.7,827.7 1338,827C1341.3,826.3 1346,821.7 1350,819C1354,816.3 1358,813.3 1362,811C1366,808.7 1370.7,809.3 1374,805C1377.3,800.7 1379.3,789.7 1382,785C1384.7,780.3 1387,780.3 1390,777C1393,773.7 1396.7,770.3 1400,765C1403.3,759.7 1407,752.3 1410,745C1413,737.7 1415.7,730.3 1418,721C1420.3,711.7 1422.7,699 1424,689C1425.3,679 1425,666.7 1426,661C1427,655.3 1427.3,657.7 1430,655C1432.7,652.3 1438.3,644.3 1442,645C1445.7,645.7 1449.3,655.7 1452,659C1454.7,662.3 1455.7,666.3 1458,665C1460.3,663.7 1464.3,657.7 1466,651C1467.7,644.3 1468.3,631.3 1468,625C1467.7,618.7 1466.3,614 1464,613C1461.7,612 1457.3,615.7 1454,619C1450.7,622.3 1446.7,633 1444,633C1441.3,633 1440.3,623.3 1438,619C1435.7,614.7 1433,609.5 1430,607C1427,604.5 1426.7,604.3 1420,604C1413.3,603.7 1401.7,604.8 1390,605C1378.3,605.2 1360,604.8 1350,605C1340,605.2 1335.7,605 1330,606C1324.3,607 1319.3,609.2 1316,611C1312.7,612.8 1312,616 1310,617C1308,618 1305.7,621 1304,617C1302.3,613 1300.7,597 1300,593Z" fill="#ffffd2" stroke="#000" stroke-width="1.4" stroke-linejoin="round" />
<path d="M981,593C981.1,608.3 981.1,661.3 981.4,685C981.7,708.7 982.2,722.3 983,735C983.8,747.7 984.8,754.3 986,761C987.2,767.7 988,775.7 990,775C992,774.3 995.3,758.7 998,757C1000.7,755.3 1003.7,764.7 1006,765C1008.3,765.3 1010,759 1012,759C1014,759 1015.7,765.3 1018,765C1020.3,764.7 1023.3,761 1026,757C1028.7,753 1031,747 1034,741C1037,735 1040.7,727.7 1044,721C1047.3,714.3 1051,705.7 1054,701C1057,696.3 1058.3,694.7 1062,693C1065.7,691.3 1072,691 1076,691C1080,691 1082.7,693.7 1086,693C1089.3,692.3 1092,687 1096,687C1100,687 1104.3,690.7 1110,693C1115.7,695.3 1123.3,698.7 1130,701C1136.7,703.3 1143.3,704.7 1150,707C1156.7,709.3 1164.7,714.7 1170,715C1175.3,715.3 1178.7,709.3 1182,709C1185.3,708.7 1185.3,709.7 1190,713C1194.7,716.3 1203.3,724.7 1210,729C1216.7,733.3 1223.3,734.7 1230,739C1236.7,743.3 1243.3,750.3 1250,755C1256.7,759.7 1263.3,762.7 1270,767C1276.7,771.3 1283.3,776.7 1290,781C1296.7,785.3 1303.3,788.7 1310,793C1316.7,797.3 1324.7,804 1330,807C1335.3,810 1338,811.7 1342,811C1346,810.3 1349.3,806.7 1354,803C1358.7,799.3 1366,792.7 1370,789C1374,785.3 1375.3,785.7 1378,781C1380.7,776.3 1383,764.7 1386,761C1389,757.3 1392.7,762.3 1396,759C1399.3,755.7 1402.7,748 1406,741C1409.3,734 1413.3,726.3 1416,717C1418.7,707.7 1421,697 1422,685C1423,673 1423.3,654 1422,645C1420.7,636 1421,634.3 1414,631C1407,627.7 1390.7,627.7 1380,625C1369.3,622.3 1358.3,617 1350,615C1341.7,613 1335.7,612.8 1330,613C1324.3,613.2 1319.3,613.7 1316,616C1312.7,618.3 1312,624.8 1310,627C1308,629.2 1306,629.7 1304,629C1302,628.3 1299.7,625.7 1298,623C1296.3,620.3 1294.9,618 1294,613C1293.1,608 1292.7,596.3 1292.4,593Z" fill="#ffffb4" stroke="#000" stroke-width="2.5" stroke-linejoin="round" />
<path d="M984,593C984.1,606.7 984.2,653 984.6,675C985,697 985.5,712.7 986.4,725C987.3,737.3 988.9,743.7 990,749C991.1,754.3 991.3,758 993,757C994.7,756 997.7,744.3 1000,743C1002.3,741.7 1004.8,749 1007,749C1009.2,749 1011,743 1013,743C1015,743 1016.7,749.3 1019,749C1021.3,748.7 1024.2,745.3 1027,741C1029.8,736.7 1032.8,729.3 1036,723C1039.2,716.7 1042.7,709.3 1046,703C1049.3,696.7 1053.7,688.7 1056,685C1058.3,681.3 1058.3,683.3 1060,681C1061.7,678.7 1062.7,673.3 1066,671C1069.3,668.7 1076.3,666.7 1080,667C1083.7,667.3 1085.3,672.7 1088,673C1090.7,673.3 1092.3,668.7 1096,669C1099.7,669.3 1104.3,672.7 1110,675C1115.7,677.3 1123.3,680 1130,683C1136.7,686 1143.3,690.3 1150,693C1156.7,695.7 1164.7,697.3 1170,699C1175.3,700.7 1178.7,703.7 1182,703C1185.3,702.3 1185.3,692.7 1190,695C1194.7,697.3 1203.3,712 1210,717C1216.7,722 1223.3,721 1230,725C1236.7,729 1243.3,736.3 1250,741C1256.7,745.7 1263.3,748.7 1270,753C1276.7,757.3 1283.3,762.7 1290,767C1296.7,771.3 1303.3,774.3 1310,779C1316.7,783.7 1324.7,792 1330,795C1335.3,798 1338,798 1342,797C1346,796 1350,793 1354,789C1358,785 1362,779.3 1366,773C1370,766.7 1374.7,755.7 1378,751C1381.3,746.3 1383.3,745.7 1386,745C1388.7,744.3 1391,749.7 1394,747C1397,744.3 1400.7,735.3 1404,729C1407.3,722.7 1411.3,717 1414,709C1416.7,701 1419.2,691.3 1420,681C1420.8,670.7 1420.7,654.7 1419,647C1417.3,639.3 1416.5,638 1410,635C1403.5,632 1390,631.7 1380,629C1370,626.3 1358.3,621 1350,619C1341.7,617 1335.7,616.8 1330,617C1324.3,617.2 1319.3,617.3 1316,620C1312.7,622.7 1312.2,630.2 1310,633C1307.8,635.8 1305.5,637.3 1303,637C1300.5,636.7 1297.2,634 1295,631C1292.8,628 1291.1,625.3 1290,619C1288.9,612.7 1288.7,597.3 1288.4,593Z" fill="#ffff96" stroke="#000" stroke-width="1.4" stroke-linejoin="round" />
<path d="M1118,651C1120,648.7 1124.7,644 1130,641C1135.3,638 1143.3,634.3 1150,633C1156.7,631.7 1164.7,632.3 1170,633C1175.3,633.7 1178.7,637 1182,637C1185.3,637 1187.7,635 1190,633C1192.3,631 1194,629 1196,625C1198,621 1199.7,614.3 1202,609C1204.3,603.7 1196.3,595.7 1210,593C1223.7,590.3 1271.3,587.7 1284,593C1296.7,598.3 1284.7,617.3 1286,625C1287.3,632.7 1289.3,635.7 1292,639C1294.7,642.3 1299,645 1302,645C1305,645 1307.7,642.5 1310,639C1312.3,635.5 1312.7,627 1316,624C1319.3,621 1324.3,621.2 1330,621C1335.7,620.8 1341.7,621 1350,623C1358.3,625 1370.7,630.3 1380,633C1389.3,635.7 1400,636.3 1406,639C1412,641.7 1414.2,643 1416,649C1417.8,655 1417.7,666.3 1417,675C1416.3,683.7 1414.5,693.3 1412,701C1409.5,708.7 1405.7,715.3 1402,721C1398.3,726.7 1393.3,733.7 1390,735C1386.7,736.3 1384.7,728 1382,729C1379.3,730 1377,735.7 1374,741C1371,746.3 1367.3,755 1364,761C1360.7,767 1357.7,773 1354,777C1350.3,781 1346,784 1342,785C1338,786 1335.3,786 1330,783C1324.7,780 1316.7,771.7 1310,767C1303.3,762.3 1296.7,759.3 1290,755C1283.3,750.7 1276.7,745.3 1270,741C1263.3,736.7 1256.7,733.7 1250,729C1243.3,724.3 1236.7,717 1230,713C1223.3,709 1215,709 1210,705C1205,701 1202.7,691.7 1200,689C1197.3,686.3 1196,691.7 1194,689C1192,686.3 1190,674.3 1188,673C1186,671.7 1186,680 1182,681C1178,682 1169.3,681 1164,679C1158.7,677 1155.7,671.7 1150,669C1144.3,666.3 1135.3,665.3 1130,663C1124.7,660.7 1120,657 1118,655C1116,653 1116,653.3 1118,651Z" fill="#ffff64" stroke="#000" stroke-width="2.5" stroke-linejoin="round" />
<path d="M1148,649C1148,646.8 1151.3,642.8 1154,641C1156.7,639.2 1161,637.7 1164,638C1167,638.3 1170.3,640.5 1172,643C1173.7,645.5 1174.7,650 1174,653C1173.3,656 1170,660.7 1168,661C1166,661.3 1164.3,656.2 1162,655C1159.7,653.8 1156.3,655 1154,654C1151.7,653 1148,651.2 1148,649Z" fill="#fff050" stroke="#000" stroke-width="1.4" stroke-linejoin="round" />
<path d="M1190,593C1189.8,596 1188.3,599 1189,611C1189.7,623 1191.8,652.7 1194,665C1196.2,677.3 1197.7,680.7 1202,685C1206.3,689.3 1213.7,687.7 1220,691C1226.3,694.3 1233.3,701 1240,705C1246.7,709 1253.3,711 1260,715C1266.7,719 1273.3,724 1280,729C1286.7,734 1293.3,740.3 1300,745C1306.7,749.7 1313.3,753 1320,757C1326.7,761 1335,767.7 1340,769C1345,770.3 1346.7,768 1350,765C1353.3,762 1356.7,756 1360,751C1363.3,746 1366.7,740 1370,735C1373.3,730 1376.7,722.7 1380,721C1383.3,719.3 1386.7,726.3 1390,725C1393.3,723.7 1396.7,717.7 1400,713C1403.3,708.3 1407.7,703.7 1410,697C1412.3,690.3 1413.7,680.7 1414,673C1414.3,665.3 1414.3,656 1412,651C1409.7,646 1405.3,645.3 1400,643C1394.7,640.7 1388.3,639.7 1380,637C1371.7,634.3 1358.3,629 1350,627C1341.7,625 1335.7,624.7 1330,625C1324.3,625.3 1319.3,625.7 1316,629C1312.7,632.3 1312.3,641.3 1310,645C1307.7,648.7 1305.3,651 1302,651C1298.7,651 1293.3,648.7 1290,645C1286.7,641.3 1283.7,637.7 1282,629C1280.3,620.3 1280.3,599 1280,593Z" fill="#fff050" stroke="#000" stroke-width="1.4" stroke-linejoin="round" />
<path d="M1253,643C1253.1,641 1253.8,637.1 1254.4,636.6C1255,636.1 1256.5,638.2 1256.8,640C1257.1,641.8 1256.5,646 1256,647.4C1255.5,648.8 1254.5,649.3 1254,648.6C1253.5,647.9 1252.9,645 1253,643Z" fill="#ffff64" stroke="#000" stroke-width="1.4" stroke-linejoin="round" />
<path d="M1270,685C1271.7,681 1276,674.3 1280,671C1284,667.7 1289.7,667.7 1294,665C1298.3,662.3 1302.7,660 1306,655C1309.3,650 1310,639 1314,635C1318,631 1324,631.3 1330,631C1336,630.7 1343.3,631.7 1350,633C1356.7,634.3 1363.3,637 1370,639C1376.7,641 1384,643 1390,645C1396,647 1402.7,647 1406,651C1409.3,655 1409.7,662.7 1410,669C1410.3,675.3 1409.7,683 1408,689C1406.3,695 1403,701.7 1400,705C1397,708.3 1393,709.3 1390,709C1387,708.7 1384.7,702 1382,703C1379.3,704 1376.7,709.7 1374,715C1371.3,720.3 1368.3,730 1366,735C1363.7,740 1364,741.7 1360,745C1356,748.3 1347,754.7 1342,755C1337,755.3 1335.3,750.7 1330,747C1324.7,743.3 1316.7,737.3 1310,733C1303.3,728.7 1295.7,725.3 1290,721C1284.3,716.7 1279.3,711.3 1276,707C1272.7,702.7 1271,698.7 1270,695C1269,691.3 1268.3,689 1270,685Z" fill="#ffc832" stroke="#000" stroke-width="2.5" stroke-linejoin="round" />
<path d="M1306,681C1306.3,673.3 1308,661.3 1310,655C1312,648.7 1314,645.3 1318,643C1322,640.7 1328.7,641.3 1334,641C1339.3,640.7 1345,639.3 1350,641C1355,642.7 1359.7,647 1364,651C1368.3,655 1375,659.3 1376,665C1377,670.7 1372.3,678.3 1370,685C1367.7,691.7 1364.7,698.3 1362,705C1359.3,711.7 1357.3,720.3 1354,725C1350.7,729.7 1346,733 1342,733C1338,733 1334,728 1330,725C1326,722 1321.7,719 1318,715C1314.3,711 1310,706.7 1308,701C1306,695.3 1305.7,688.7 1306,681Z" fill="#ffaa1e" stroke="#000" stroke-width="1.4" stroke-linejoin="round" />
<path d="M1390,673C1389.8,669.3 1391.7,663 1393,663C1394.3,663 1397.8,669.3 1398,673C1398.2,676.7 1395.3,685 1394,685C1392.7,685 1390.2,676.7 1390,673Z" fill="#ffaa1e" stroke="#000" stroke-width="1.4" stroke-linejoin="round" />
<path d="M1314,671C1315.2,668 1318.7,665.7 1322,663C1325.3,660.3 1329.3,656.7 1334,655C1338.7,653.3 1346.5,651.3 1350,653C1353.5,654.7 1354.2,660.3 1355,665C1355.8,669.7 1355.8,675 1355,681C1354.2,687 1352.5,696.7 1350,701C1347.5,705.3 1343.3,707.3 1340,707C1336.7,706.7 1333.3,701 1330,699C1326.7,697 1322.5,698 1320,695C1317.5,692 1316,685 1315,681C1314,677 1312.8,674 1314,671Z" fill="#ff7800" stroke="#000" stroke-width="2.5" stroke-linejoin="round" />
<path d="M1196,593C1196,595 1195.7,598 1196,605C1196.3,612 1197,628.7 1198,635C1199,641.3 1200,643.3 1202,643C1204,642.7 1207,636.7 1210,633C1213,629.3 1215,622 1220,621C1225,620 1235,626.7 1240,627C1245,627.3 1246.7,624.3 1250,623C1253.3,621.7 1257.3,618.3 1260,619C1262.7,619.7 1263.7,626.7 1266,627C1268.3,627.3 1271.8,624.7 1274,621C1276.2,617.3 1278.1,609.7 1279,605C1279.9,600.3 1279.5,595 1279.6,593Z" fill="#ffc832" stroke="#000" stroke-width="2.5" stroke-linejoin="round" />
<path d="M988,593C988.1,606.7 988.3,654.7 988.8,675C989.3,695.3 989.5,706 991,715C992.5,724 994.8,725.3 998,729C1001.2,732.7 1006,736.3 1010,737C1014,737.7 1017.3,737 1022,733C1026.7,729 1033.3,721 1038,713C1042.7,705 1046.3,693 1050,685C1053.7,677 1057.2,671.3 1060,665C1062.8,658.7 1064.7,653 1067,647C1069.3,641 1072,635 1074,629C1076,623 1077.8,617 1079,611C1080.2,605 1080.7,596 1081,593Z" fill="#ffff64" stroke="#000" stroke-width="2.5" stroke-linejoin="round" />
<path d="M992,593C992.2,605 992.5,647 993.2,665C993.9,683 994.5,692.3 996,701C997.5,709.7 999.7,713.3 1002,717C1004.3,720.7 1006.7,722.7 1010,723C1013.3,723.3 1018.7,720.7 1022,719C1025.3,717.3 1026.7,718 1030,713C1033.3,708 1038,697 1042,689C1046,681 1050.7,672.3 1054,665C1057.3,657.7 1059.3,651.7 1062,645C1064.7,638.3 1067.7,631.3 1070,625C1072.3,618.7 1074.3,612.3 1075.6,607C1076.9,601.7 1077.6,595.3 1078,593Z" fill="#fff050" stroke="#000" stroke-width="1.4" stroke-linejoin="round" />
<path d="M996,593C996.2,603.3 996.7,639 997.4,655C998.1,671 998.7,680.7 1000,689C1001.3,697.3 1003.3,701.7 1005,705C1006.7,708.3 1007.8,708.6 1010,709C1012.2,709.4 1015.3,708.1 1018,707.4C1020.7,706.7 1022.7,709.4 1026,705C1029.3,700.6 1034,690 1038,681C1042,672 1046.3,659.7 1050,651C1053.7,642.3 1056.7,636 1060,629C1063.3,622 1067.6,615 1070,609C1072.4,603 1073.7,595.7 1074.4,593Z" fill="#ffc832" stroke="#000" stroke-width="2.5" stroke-linejoin="round" />
<path d="M1000,593C1000.3,602.7 1001.2,636.3 1002,651C1002.8,665.7 1004,674 1005,681C1006,688 1006.8,690.3 1008,693C1009.2,695.7 1010.3,696.7 1012,697C1013.7,697.3 1016,695.7 1018,695C1020,694.3 1021,697.3 1024,693C1027,688.7 1032.3,677 1036,669C1039.7,661 1042.7,652.7 1046,645C1049.3,637.3 1052.7,629.7 1056,623C1059.3,616.3 1063.6,610 1066,605C1068.4,600 1069.8,595 1070.6,593Z" fill="#ffaa1e" stroke="#000" stroke-width="1.4" stroke-linejoin="round" />
<path d="M1006,593C1006.3,601 1007.2,629.3 1008,641C1008.8,652.7 1009.7,657.7 1011,663C1012.3,668.3 1014.5,671.8 1016,673C1017.5,674.2 1018.7,670.3 1020,670C1021.3,669.7 1022,672.8 1024,671C1026,669.2 1029,664.7 1032,659C1035,653.3 1038.7,643.7 1042,637C1045.3,630.3 1048.7,624.3 1052,619C1055.3,613.7 1059.5,609.3 1062,605C1064.5,600.7 1066,595 1066.8,593Z" fill="#ff7800" stroke="#000" stroke-width="2.5" stroke-linejoin="round" />
<path d="M1012,593C1012.4,598.3 1013.4,617 1014.4,625C1015.4,633 1016.7,637.3 1018,641C1019.3,644.7 1020.3,646.7 1022,647C1023.7,647.3 1026,645.3 1028,643C1030,640.7 1031.7,636.3 1034,633C1036.3,629.7 1039.3,626.3 1042,623C1044.7,619.7 1047.3,616.2 1050,613C1052.7,609.8 1055.9,607.3 1058,604C1060.1,600.7 1061.7,594.8 1062.4,593Z" fill="#ff5000" stroke="#000" stroke-width="1.4" stroke-linejoin="round" />
<path d="M1016,593C1016.3,596 1017,606.3 1018,611C1019,615.7 1020,619.7 1022,621C1024,622.3 1027,620.3 1030,619C1033,617.7 1036.7,615.3 1040,613C1043.3,610.7 1047.2,608.3 1050,605C1052.8,601.7 1055.8,595 1057,593Z" fill="#ff2800" stroke="#000" stroke-width="2.5" stroke-linejoin="round" />
<path d="M1028,604C1028,603 1030,601.4 1032,601C1034,600.6 1038,600.9 1040,601.4C1042,601.9 1044,603.1 1044,604C1044,604.9 1042,606.1 1040,606.6C1038,607.1 1034,607.4 1032,607C1030,606.6 1028,605 1028,604Z" fill="#ff0000" stroke="#000" stroke-width="1.4" stroke-linejoin="round" />
<path d="M1077,593C1077.2,594.5 1075.8,598.8 1078,602C1080.2,605.2 1084.7,608.3 1090,612C1095.3,615.7 1103.3,621.2 1110,624C1116.7,626.8 1123.3,628 1130,629C1136.7,630 1143.3,630.4 1150,630.2C1156.7,630 1163.3,629.4 1170,628C1176.7,626.6 1185.2,624.7 1190,622C1194.8,619.3 1196.9,615.3 1199,612C1201.1,608.7 1201.7,605.2 1202.4,602C1203.1,598.8 1202.9,594.5 1203,593Z" fill="#05050a" />
<path d="M1073.6,602.1C1075.7,603.9 1080.6,608.8 1086.2,612.6C1091.8,616.5 1100.2,622.3 1107.2,625.2C1114.2,628.2 1121.2,629.4 1128.2,630.5C1135.2,631.6 1142.2,631.9 1149.2,631.8C1156.2,631.6 1163.2,630.9 1170.2,629.5C1177.2,628 1186.1,626 1191.2,623.1C1196.3,620.3 1198.5,616.1 1200.7,612.6C1202.8,609.1 1203.6,603.9 1204.2,602.1" fill="none" stroke="#000" stroke-width="1.3" stroke-linejoin="round" stroke-linecap="round" />
<path d="M1069.2,602.3C1071.4,604.1 1076.5,609.3 1082.4,613.3C1088.3,617.3 1097.1,623.4 1104.4,626.5C1111.7,629.6 1119.1,630.9 1126.4,632C1133.7,633.1 1141.1,633.5 1148.4,633.3C1155.7,633.1 1163.1,632.4 1170.4,630.9C1177.7,629.4 1187.1,627.2 1192.4,624.3C1197.7,621.4 1200,617 1202.3,613.3C1204.6,609.6 1205.4,604.1 1206,602.3" fill="none" stroke="#000" stroke-width="1.3" stroke-linejoin="round" stroke-linecap="round" />
<path d="M1063.9,602.5C1066.2,604.4 1071.7,609.8 1077.8,614.1C1084,618.3 1093.3,624.7 1101,628C1108.8,631.3 1116.5,632.6 1124.2,633.8C1132,635 1139.7,635.4 1147.4,635.2C1155.2,635 1162.9,634.2 1170.6,632.6C1178.4,631.1 1188.2,628.8 1193.8,625.7C1199.4,622.6 1201.9,617.9 1204.3,614.1C1206.7,610.2 1207.6,604.4 1208.2,602.5" fill="none" stroke="#000" stroke-width="1.3" stroke-linejoin="round" stroke-linecap="round" />
<path d="M1084.2,601.8C1086,603.3 1090.4,607.7 1095.3,611.1C1100.3,614.5 1107.7,619.6 1113.9,622.2C1120.1,624.9 1126.3,625.9 1132.5,626.9C1138.7,627.9 1144.9,628.2 1151.1,628C1157.3,627.9 1163.5,627.2 1169.7,626C1175.9,624.7 1183.8,622.9 1188.3,620.4C1192.8,617.9 1194.8,614.2 1196.7,611.1C1198.6,608 1199.3,603.3 1199.9,601.8" fill="none" stroke="#8cf0ff" stroke-width="2.2" stroke-linejoin="round" stroke-linecap="round" stroke-dasharray="5 6" stroke-dashoffset="0"/>
<path d="M1092.1,601.5C1093.8,602.9 1097.7,606.8 1102.2,609.9C1106.6,613 1113.4,617.6 1119,620C1124.6,622.4 1130.2,623.3 1135.8,624.2C1141.4,625.1 1147,625.3 1152.6,625.2C1158.2,625.1 1163.8,624.5 1169.4,623.4C1175,622.2 1182.1,620.6 1186.2,618.3C1190.2,616.1 1192,612.7 1193.7,609.9C1195.5,607.1 1196.1,602.9 1196.6,601.5" fill="none" stroke="#6ee6ff" stroke-width="2.2" stroke-linejoin="round" stroke-linecap="round" stroke-dasharray="5 6" stroke-dashoffset="5"/>
<path d="M1100,601.2C1101.5,602.5 1105,606 1109,608.8C1113,611.5 1119,615.6 1124,617.8C1129,619.9 1134,620.7 1139,621.5C1144,622.3 1149,622.5 1154,622.4C1159,622.3 1164,621.8 1169,620.8C1174,619.7 1180.4,618.2 1184,616.2C1187.6,614.2 1189.2,611.2 1190.8,608.8C1192.3,606.2 1192.9,602.5 1193.3,601.2" fill="none" stroke="#46d7ff" stroke-width="2.2" stroke-linejoin="round" stroke-linecap="round" stroke-dasharray="5 6" stroke-dashoffset="10"/>
<path d="M1107.9,601C1109.2,602.1 1112.3,605.2 1115.8,607.6C1119.4,610 1124.6,613.6 1129,615.5C1133.4,617.4 1137.8,618.1 1142.2,618.8C1146.6,619.5 1151,619.7 1155.4,619.6C1159.8,619.5 1164.2,619 1168.6,618.1C1173,617.2 1178.7,615.9 1181.8,614.2C1185,612.4 1186.4,609.8 1187.8,607.6C1189.1,605.4 1189.6,602.1 1190,601" fill="none" stroke="#28aaff" stroke-width="2.2" stroke-linejoin="round" stroke-linecap="round" stroke-dasharray="5 6" stroke-dashoffset="15"/>
<path d="M1115.8,600.7C1117,601.7 1119.6,604.3 1122.7,606.4C1125.7,608.5 1130.3,611.6 1134.1,613.2C1137.9,614.9 1141.7,615.5 1145.5,616.1C1149.3,616.7 1153.1,616.9 1156.9,616.8C1160.7,616.7 1164.5,616.3 1168.3,615.5C1172.1,614.8 1176.9,613.6 1179.7,612.1C1182.4,610.6 1183.6,608.3 1184.8,606.4C1186,604.5 1186.4,601.7 1186.7,600.7" fill="none" stroke="#0082ff" stroke-width="2.2" stroke-linejoin="round" stroke-linecap="round" stroke-dasharray="5 6" stroke-dashoffset="20"/>
<path d="M1123.8,600.4C1124.7,601.2 1127,603.5 1129.5,605.2C1132.1,607 1135.9,609.6 1139.1,611C1142.3,612.4 1145.5,612.9 1148.7,613.4C1151.9,613.9 1155.1,614.1 1158.3,614C1161.5,613.9 1164.7,613.6 1167.9,612.9C1171.1,612.3 1175.2,611.3 1177.5,610C1179.8,608.8 1180.8,606.8 1181.8,605.2C1182.8,603.6 1183.2,601.2 1183.5,600.4" fill="none" stroke="#0050ff" stroke-width="2.2" stroke-linejoin="round" stroke-linecap="round" stroke-dasharray="5 6" stroke-dashoffset="25"/>
<path d="M1120,593C1120.3,594.7 1117,601.3 1122,603.4C1127,605.5 1140.3,605.5 1150,605.8C1159.7,606.1 1172,605.5 1180,605C1188,604.5 1194.8,605 1198,603C1201.2,601 1198.8,594.7 1199,593Z" fill="#0000c8" />
<path d="M1150,593C1150.3,594.6 1148.7,600.8 1152,602.6C1155.3,604.4 1163.7,603.8 1170,603.8C1176.3,603.8 1185.7,604.4 1190,602.6C1194.3,600.8 1195,594.6 1196,593Z" fill="#000078" />
<path d="M1196,593C1196.3,596.9 1196.3,611.2 1197.6,616.4C1198.9,621.6 1200.9,623.2 1204,624C1207.1,624.8 1210.3,620.7 1216,621C1221.7,621.3 1229.7,625.8 1238,626C1246.3,626.2 1259.7,623 1266,622C1272.3,621 1273.3,621.3 1276,620C1278.7,618.7 1280.7,618.5 1282,614C1283.3,609.5 1283.7,596.5 1284,593Z" fill="#ffaa1e" stroke="#000" stroke-width="2.2" stroke-linejoin="round" />
<path d="M1202,593C1202.3,596.5 1202.3,609.5 1203.6,614C1204.9,618.5 1206.9,619.5 1210,620C1213.1,620.5 1217.1,616.7 1222,617C1226.9,617.3 1232.7,621.8 1239.5,622C1246.3,622.2 1257.4,619 1263,618C1268.6,617 1270.3,617 1273,616C1275.7,615 1277.7,615.8 1279,612C1280.3,608.2 1280.7,596.2 1281,593Z" fill="#ff7800" stroke="#000" stroke-width="1.3" stroke-linejoin="round" />
<path d="M1208,593C1208.3,596.2 1208.3,608 1209.6,612C1210.9,615.9 1212.9,616.3 1216,616.6C1219.1,616.9 1223.8,613.3 1228,613.6C1232.2,613.9 1235.7,618.4 1241,618.6C1246.3,618.8 1255.2,615.6 1260,614.6C1264.8,613.6 1267.3,613.3 1270,612.6C1272.7,611.9 1274.7,613.6 1276,610.3C1277.3,607 1277.7,595.9 1278,593Z" fill="#ff5000" stroke="#000" stroke-width="2.2" stroke-linejoin="round" />
<path d="M1214,593C1214.3,595.8 1214.3,606.6 1215.6,610C1216.9,613.4 1218.9,613.3 1222,613.4C1225.1,613.5 1230.6,610.1 1234,610.4C1237.4,610.7 1238.7,615.2 1242.5,615.4C1246.3,615.6 1252.9,612.4 1257,611.4C1261.1,610.4 1264.3,609.8 1267,609.4C1269.7,609 1271.7,611.4 1273,608.7C1274.3,606 1274.7,595.6 1275,593Z" fill="#ff2800" stroke="#000" stroke-width="1.3" stroke-linejoin="round" />
<path d="M1220,593C1220.3,595.6 1220.3,605.4 1221.6,608.4C1222.9,611.3 1224.9,610.7 1228,610.6C1231.1,610.5 1237.3,607.3 1240,607.6C1242.7,607.9 1241.7,612.4 1244,612.6C1246.3,612.8 1250.7,609.6 1254,608.6C1257.3,607.6 1261.3,606.8 1264,606.6C1266.7,606.4 1268.7,609.6 1270,607.3C1271.3,605 1271.7,595.4 1272,593Z" fill="#ff0000" stroke="#000" stroke-width="2.2" stroke-linejoin="round" />
<path d="M1226,593C1226.3,595.3 1226.3,604.4 1227.6,606.9C1228.9,609.5 1230.9,608.5 1234,608.2C1237.1,607.9 1244.1,604.9 1246,605.2C1247.9,605.5 1244.7,610 1245.5,610.2C1246.3,610.4 1248.4,607.2 1251,606.2C1253.6,605.2 1258.3,604.2 1261,604.2C1263.7,604.2 1265.7,608 1267,606.1C1268.3,604.2 1268.7,595.2 1269,593Z" fill="#c80000" stroke="#000" stroke-width="1.3" stroke-linejoin="round" />
<path d="M1232,593C1232.3,595.1 1232.3,603.3 1233.6,605.5C1234.9,607.6 1236.9,606.2 1240,605.8C1243.1,605.4 1250.8,602.5 1252,602.8C1253.2,603.1 1247.7,607.6 1247,607.8C1246.3,608 1246.2,604.8 1248,603.8C1249.8,602.8 1255.3,601.6 1258,601.8C1260.7,602 1262.7,606.4 1264,604.9C1265.3,603.4 1265.7,595 1266,593Z" fill="#960000" stroke="#000" stroke-width="2.2" stroke-linejoin="round" />
<path d="M1238,593C1238.3,594.9 1238.3,602.5 1239.6,604.3C1240.9,606.1 1242.9,604.4 1246,603.8C1249.1,603.2 1257.6,600.5 1258,600.8C1258.4,601.1 1250.7,605.6 1248.5,605.8C1246.3,606 1243.9,602.8 1245,601.8C1246.1,600.8 1252.3,599.4 1255,599.8C1257.7,600.1 1259.7,605 1261,603.9C1262.3,602.8 1262.7,594.8 1263,593Z" fill="#640000" stroke="#000" stroke-width="1.3" stroke-linejoin="round" />
<path d="M1304,597C1295.7,598.3 1305.3,603.3 1308,605C1310.7,606.7 1314.3,607.1 1320,607.4C1325.7,607.7 1336,607.2 1342,606.6C1348,606 1353.3,605.6 1356,604C1358.7,602.4 1366.7,598.2 1358,597C1349.3,595.8 1312.3,595.7 1304,597Z" fill="#d2ffff" stroke="#000" stroke-width="1.2" stroke-linejoin="round" stroke-dasharray="6 4"/>
<path d="M1318,604C1320,604.1 1326,604.6 1330,604.6C1334,604.6 1340,603.9 1342,603.8" fill="none" stroke="#000" stroke-width="1.2" stroke-linejoin="round" stroke-linecap="round" stroke-dasharray="6 4" />
<path d="M976,602C976,615.8 975.8,654.5 976,685C976.2,715.5 976.5,758.3 977,785C977.5,811.7 978.8,828.3 979,845C979.2,861.7 978.2,878.3 978,885" fill="none" stroke="#000" stroke-width="2.5" stroke-linejoin="round" stroke-linecap="round" />
<path d="M990,885 988,845 990,805 994,789 1002,785 1010,781 1018,775 1024,789 1030,777 1038,765 1046,751" fill="none" stroke="#000" stroke-width="2.5" stroke-linejoin="round" stroke-linecap="round" />
<path d="M1056,729 1062,715 1070,717 1086,723 1096,721 1110,725 1130,733 1150,739 1170,747 1182,753 1190,749 1198,749 1210,759 1230,777 1240,795 1250,805 1260,803 1270,817 1280,831 1290,827 1300,837 1310,849 1318,853 1322,855" fill="none" stroke="#000" stroke-width="2.5" stroke-linejoin="round" stroke-linecap="round" />
<path d="M1338,853 1350,845 1360,833 1370,823 1380,817 1382,811 1396,811" fill="none" stroke="#000" stroke-width="2.5" stroke-linejoin="round" stroke-linecap="round" />
<path d="M928,731 932,723 936,729 939,733 935,737 936,765 934,791 932,785 930,755Z" fill="none" stroke="#000" stroke-width="2.2" stroke-linejoin="round" stroke-linecap="round" />
<path d="M946,857C947.3,856.7 952,854.3 954,855C956,855.7 956.7,860.8 958,861C959.3,861.2 960.3,856.7 962,856C963.7,855.3 966.7,852.2 968,857C969.3,861.8 969.3,880.3 969.6,885" fill="none" stroke="#000" stroke-width="2.5" stroke-linejoin="round" stroke-linecap="round" />
<path d="M1141,885C1141.8,883 1144.2,877.3 1146,873C1147.8,868.7 1150,861 1152,859C1154,857 1156,858.3 1158,861C1160,863.7 1162.8,871 1164,875C1165.2,879 1164.8,883.3 1165,885" fill="none" stroke="#000" stroke-width="2.5" stroke-linejoin="round" stroke-linecap="round" />
<path d="M1018,885C1019,884.7 1022.8,881 1024,883C1025.2,885 1025.3,892 1025,897C1024.7,902 1022.5,910.3 1022,913" fill="none" stroke="#000" stroke-width="2.5" stroke-linejoin="round" stroke-linecap="round" />
<path d="M1002,885C1003,884.7 1006,883 1008,883C1010,883 1013,884.7 1014,885" fill="none" stroke="#000" stroke-width="2.2" stroke-linejoin="round" stroke-linecap="round" />
<path d="M1230,913C1231,912.5 1234,910 1236,910C1238,910 1241,912.5 1242,913" fill="none" stroke="#000" stroke-width="2.2" stroke-linejoin="round" stroke-linecap="round" />
<path d="M1254,913C1254.7,912 1256,907.5 1258,907C1260,906.5 1263.7,909 1266,910C1268.3,911 1271,912.5 1272,913" fill="none" stroke="#000" stroke-width="2.2" stroke-linejoin="round" stroke-linecap="round" />
<circle cx="929.0" cy="708.0" r="1.6"/>
<circle cx="935.0" cy="799.0" r="2"/>
<path d="M1077,632C1077.2,633.2 1077.9,636.7 1078,639C1078.1,641.3 1077.7,644.8 1077.6,646" fill="none" stroke="#000" stroke-width="4" stroke-linejoin="round" stroke-linecap="round" />
<path d="M1422,741 1424,723 1427,717 1432,723 1438,729 1444,721 1448,731 1450,755 1451,769" fill="none" stroke="#000" stroke-width="2.5" stroke-linejoin="round" stroke-linecap="round" />
<path d="M1492,602C1491.7,609.2 1490.7,631.2 1490,645C1489.3,658.8 1488.2,673.3 1488,685C1487.8,696.7 1489.3,707 1489,715C1488.7,723 1487.5,729.5 1486,733C1484.5,736.5 1481,735.5 1480,736" fill="none" stroke="#000" stroke-width="1.6" stroke-linejoin="round" stroke-linecap="round" />
<path d="M1470,753 1464,769 1458,785 1456,805 1453,785 1450,782" fill="none" stroke="#000" stroke-width="2.5" stroke-linejoin="round" stroke-linecap="round" />
<path d="M1504,825 1508,809 1510,825" fill="none" stroke="#000" stroke-width="2.2" stroke-linejoin="round" stroke-linecap="round" />
<path d="M1410,673C1410.3,671.8 1412.3,671 1413,672C1413.7,673 1414.3,677.8 1414,679C1413.7,680.2 1411.7,680.4 1411,679.4C1410.3,678.4 1409.7,674.2 1410,673Z" fill="none" stroke="#000" stroke-width="3" stroke-linejoin="round" stroke-linecap="round" />
<text x="970" y="633" font-size="19" text-anchor="middle" font-weight="bold" transform="rotate(-85 970 633)">4</text>
<text x="1045" y="674" font-size="19" text-anchor="middle" font-weight="bold" transform="rotate(-55 1045 674)">12</text>
<text x="1031" y="730" font-size="19" text-anchor="middle" font-weight="bold" transform="rotate(-60 1031 730)">8</text>
<text x="1052" y="743" font-size="19" text-anchor="middle" font-weight="bold" transform="rotate(-60 1052 743)">0</text>
<text x="1076" y="695" font-size="19" text-anchor="middle" font-weight="bold" transform="rotate(0 1076 695)">4</text>
<text x="1175" y="688" font-size="19" text-anchor="middle" font-weight="bold" transform="rotate(0 1175 688)">8</text>
<text x="1115" y="778" font-size="19" text-anchor="middle" font-weight="bold" transform="rotate(10 1115 778)">8</text>
<text x="1144" y="842" font-size="19" text-anchor="middle" font-weight="bold" transform="rotate(-30 1144 842)">4</text>
<text x="1353" y="751" font-size="19" text-anchor="middle" font-weight="bold" transform="rotate(-35 1353 751)">12</text>
<text x="1373" y="793" font-size="19" text-anchor="middle" font-weight="bold" transform="rotate(-40 1373 793)">4</text>
<text x="1331" y="862" font-size="19" text-anchor="middle" font-weight="bold" transform="rotate(-35 1331 862)">0</text>
<text x="1234" y="849" font-size="19" text-anchor="middle" font-weight="bold" transform="rotate(-10 1234 849)">4</text>
<text x="1476" y="747" font-size="19" text-anchor="middle" font-weight="bold" transform="rotate(-50 1476 747)">0</text>
<text x="1078" y="599" font-size="19" text-anchor="middle" font-weight="bold" transform="rotate(0 1078 599)">0</text>
<text x="1042" y="599" font-size="19" text-anchor="middle" font-weight="bold" transform="rotate(0 1042 599)">4</text>
<text x="1256" y="599" font-size="19" text-anchor="middle" font-weight="bold" transform="rotate(0 1256 599)">4</text>
</g>
<path d="M873.7,597.6 918.2,597.6 918.2,637 921.5,637 925.5,641 925.5,768 928.9,782 928.9,811 932.9,827 939.5,827 946.9,861 960.5,861 964.5,884.4 1018.5,884.4 1022,913 1025.1,939 1025.9,939 1028.5,913.6 1046.5,913.6 1050.5,884.4 1053.5,884.4 1057.5,913.6 1061.5,913.6 1064.5,884.4 1067.9,884.4 1071.5,913.6 1078.5,913.6 1082.1,884.4 1092.5,884.4 1096.5,913.6 1182.5,913.6 1186.5,884.4 1206.5,884.4 1210.5,913.6 1247.5,913.6 1249.5,885 1253.1,913.6 1295.5,913.6 1300.5,940 1303.5,940 1306.5,913.6 1371.1,913.6 1375.1,884.4 1378.5,884.4 1378.5,858 1381.5,841 1385.5,841 1389.5,827 1395.5,827 1413.5,754 1417.5,754 1421.1,743 1428.5,782 1432.5,784 1435.9,797.6 1439.5,797.6 1441.9,769 1446.5,768 1449.1,755 1456.5,812 1487.5,812 1492.5,827 1501.5,827 1506.5,841 1510.5,841 1514.5,827 1515.5,827 1515.5,975 873.7,975Z" fill="#000" />
<rect x="873.7" y="597.6" width="638.8" height="377.4" fill="none" stroke="#000" stroke-width="4.2"/>
<path d="M873.7,597.6v-9.9M873.7,975v9.9M909.2,597.6v-7.3M909.2,975v7.3M944.7,597.6v-7.3M944.7,975v7.3M980.2,597.6v-9.9M980.2,975v9.9M1015.7,597.6v-7.3M1015.7,975v7.3M1051.1,597.6v-7.3M1051.1,975v7.3M1086.6,597.6v-9.9M1086.6,975v9.9M1122.1,597.6v-7.3M1122.1,975v7.3M1157.6,597.6v-7.3M1157.6,975v7.3M1193.1,597.6v-9.9M1193.1,975v9.9M1228.6,597.6v-7.3M1228.6,975v7.3M1264.1,597.6v-7.3M1264.1,975v7.3M1299.6,597.6v-9.9M1299.6,975v9.9M1335.1,597.6v-7.3M1335.1,975v7.3M1370.5,597.6v-7.3M1370.5,975v7.3M1406,597.6v-9.9M1406,975v9.9M1441.5,597.6v-7.3M1441.5,975v7.3M1477,597.6v-7.3M1477,975v7.3M1512.5,597.6v-9.9M1512.5,975v9.9M873.7,597.6h-9.9M1512.5,597.6h9.9M873.7,626.6h-7.3M1512.5,626.6h7.3M873.7,655.6h-7.3M1512.5,655.6h7.3M873.7,684.6h-7.3M1512.5,684.6h7.3M873.7,713.6h-9.9M1512.5,713.6h9.9M873.7,742.6h-7.3M1512.5,742.6h7.3M873.7,771.6h-7.3M1512.5,771.6h7.3M873.7,800.6h-7.3M1512.5,800.6h7.3M873.7,829.6h-9.9M1512.5,829.6h9.9M873.7,858.6h-7.3M1512.5,858.6h7.3M873.7,887.6h-7.3M1512.5,887.6h7.3M873.7,916.6h-7.3M1512.5,916.6h7.3M873.7,945.6h-9.9M1512.5,945.6h9.9M873.7,974.6h-7.3M1512.5,974.6h7.3" stroke="#000" stroke-width="4.2" stroke-linecap="round" fill="none"/>
<text x="873.7" y="1021" font-size="31" text-anchor="middle" textLength="52.6" lengthAdjust="spacingAndGlyphs" stroke="#000" stroke-width="1.3" stroke-linejoin="round">90S</text>
<text x="980.2" y="1021" font-size="31" text-anchor="middle" textLength="52.6" lengthAdjust="spacingAndGlyphs" stroke="#000" stroke-width="1.3" stroke-linejoin="round">60S</text>
<text x="1086.6" y="1021" font-size="31" text-anchor="middle" textLength="52.6" lengthAdjust="spacingAndGlyphs" stroke="#000" stroke-width="1.3" stroke-linejoin="round">30S</text>
<text x="1193.1" y="1021" font-size="31" text-anchor="middle" textLength="50.9" lengthAdjust="spacingAndGlyphs" stroke="#000" stroke-width="1.3" stroke-linejoin="round">EQ.</text>
<text x="1299.6" y="1021" font-size="31" text-anchor="middle" textLength="54.2" lengthAdjust="spacingAndGlyphs" stroke="#000" stroke-width="1.3" stroke-linejoin="round">30N</text>
<text x="1406" y="1021" font-size="31" text-anchor="middle" textLength="54.2" lengthAdjust="spacingAndGlyphs" stroke="#000" stroke-width="1.3" stroke-linejoin="round">60N</text>
<text x="1512.5" y="1021" font-size="31" text-anchor="middle" textLength="54.2" lengthAdjust="spacingAndGlyphs" stroke="#000" stroke-width="1.3" stroke-linejoin="round">90N</text>
<text x="847.2" y="608.8" font-size="31" text-anchor="end" stroke="#000" stroke-width="1.3" stroke-linejoin="round">0</text>
<text x="847.2" y="724.8" font-size="31" text-anchor="end" stroke="#000" stroke-width="1.3" stroke-linejoin="round">2</text>
<text x="847.2" y="840.8" font-size="31" text-anchor="end" stroke="#000" stroke-width="1.3" stroke-linejoin="round">4</text>
<text x="847.2" y="956.8" font-size="31" text-anchor="end" stroke="#000" stroke-width="1.3" stroke-linejoin="round">6</text>
<text x="806.5" y="786.6" font-size="38" text-anchor="middle" textLength="201" lengthAdjust="spacingAndGlyphs" transform="rotate(-90 806.5 786.6)" xml:space="preserve" stroke="#000" stroke-width="1.3" stroke-linejoin="round">Depth  (km)</text>
<rect x="1545" y="962.1" width="20" height="13.2" fill="#000078" />
<rect x="1545" y="949.5" width="20" height="13.2" fill="#0000a0" />
<rect x="1545" y="937" width="20" height="13.2" fill="#0000c8" />
<rect x="1545" y="924.4" width="20" height="13.2" fill="#0000ff" />
<rect x="1545" y="911.8" width="20" height="13.2" fill="#0028ff" />
<rect x="1545" y="899.2" width="20" height="13.2" fill="#0046ff" />
<rect x="1545" y="886.6" width="20" height="13.2" fill="#0064ff" />
<rect x="1545" y="874.1" width="20" height="13.2" fill="#0082ff" />
<rect x="1545" y="861.5" width="20" height="13.2" fill="#28aaff" />
<rect x="1545" y="848.9" width="20" height="13.2" fill="#50dcff" />
<rect x="1545" y="836.3" width="20" height="13.2" fill="#78ffff" />
<rect x="1545" y="823.7" width="20" height="13.2" fill="#96ffff" />
<rect x="1545" y="811.2" width="20" height="13.2" fill="#b4ffff" />
<rect x="1545" y="798.6" width="20" height="13.2" fill="#d2ffff" />
<rect x="1545" y="786" width="20" height="13.2" fill="#ffffff" />
<rect x="1545" y="773.4" width="20" height="13.2" fill="#ffffff" />
<rect x="1545" y="760.8" width="20" height="13.2" fill="#ffffd2" />
<rect x="1545" y="748.3" width="20" height="13.2" fill="#ffffb4" />
<rect x="1545" y="735.7" width="20" height="13.2" fill="#ffff96" />
<rect x="1545" y="723.1" width="20" height="13.2" fill="#ffff64" />
<rect x="1545" y="710.5" width="20" height="13.2" fill="#fff050" />
<rect x="1545" y="697.9" width="20" height="13.2" fill="#ffc832" />
<rect x="1545" y="685.4" width="20" height="13.2" fill="#ffaa1e" />
<rect x="1545" y="672.8" width="20" height="13.2" fill="#ff7800" />
<rect x="1545" y="660.2" width="20" height="13.2" fill="#ff5000" />
<rect x="1545" y="647.6" width="20" height="13.2" fill="#ff2800" />
<rect x="1545" y="635" width="20" height="13.2" fill="#ff0000" />
<rect x="1545" y="622.5" width="20" height="13.2" fill="#c80000" />
<rect x="1545" y="609.9" width="20" height="13.2" fill="#960000" />
<rect x="1545" y="597.3" width="20" height="13.2" fill="#640000" />
<path d="M1545,595.5V977.1" stroke="#000" stroke-width="4.2" fill="none"/>
<path d="M1565,595.5V977.1" stroke="#000" stroke-width="4.2" fill="none"/>
<path d="M1542.9,975H1583.5" stroke="#000" stroke-width="4.2" fill="none"/>
<path d="M1565,962.4H1575" stroke="#000" stroke-width="3.7800000000000002" fill="none"/>
<path d="M1565,949.8H1575" stroke="#000" stroke-width="3.7800000000000002" fill="none"/>
<path d="M1565,937.3H1575" stroke="#000" stroke-width="3.7800000000000002" fill="none"/>
<path d="M1565,924.7H1575" stroke="#000" stroke-width="3.7800000000000002" fill="none"/>
<path d="M1565,912.1H1583.5" stroke="#000" stroke-width="4.2" fill="none"/>
<path d="M1565,899.5H1575" stroke="#000" stroke-width="3.7800000000000002" fill="none"/>
<path d="M1565,886.9H1575" stroke="#000" stroke-width="3.7800000000000002" fill="none"/>
<path d="M1565,874.4H1575" stroke="#000" stroke-width="3.7800000000000002" fill="none"/>
<path d="M1565,861.8H1575" stroke="#000" stroke-width="3.7800000000000002" fill="none"/>
<path d="M1565,849.2H1583.5" stroke="#000" stroke-width="4.2" fill="none"/>
<path d="M1565,836.6H1575" stroke="#000" stroke-width="3.7800000000000002" fill="none"/>
<path d="M1565,824H1575" stroke="#000" stroke-width="3.7800000000000002" fill="none"/>
<path d="M1565,811.5H1575" stroke="#000" stroke-width="3.7800000000000002" fill="none"/>
<path d="M1565,798.9H1575" stroke="#000" stroke-width="3.7800000000000002" fill="none"/>
<path d="M1565,786.3H1583.5" stroke="#000" stroke-width="4.2" fill="none"/>
<path d="M1565,773.7H1575" stroke="#000" stroke-width="3.7800000000000002" fill="none"/>
<path d="M1565,761.1H1575" stroke="#000" stroke-width="3.7800000000000002" fill="none"/>
<path d="M1565,748.6H1575" stroke="#000" stroke-width="3.7800000000000002" fill="none"/>
<path d="M1565,736H1575" stroke="#000" stroke-width="3.7800000000000002" fill="none"/>
<path d="M1565,723.4H1583.5" stroke="#000" stroke-width="4.2" fill="none"/>
<path d="M1565,710.8H1575" stroke="#000" stroke-width="3.7800000000000002" fill="none"/>
<path d="M1565,698.2H1575" stroke="#000" stroke-width="3.7800000000000002" fill="none"/>
<path d="M1565,685.7H1575" stroke="#000" stroke-width="3.7800000000000002" fill="none"/>
<path d="M1565,673.1H1575" stroke="#000" stroke-width="3.7800000000000002" fill="none"/>
<path d="M1565,660.5H1583.5" stroke="#000" stroke-width="4.2" fill="none"/>
<path d="M1565,647.9H1575" stroke="#000" stroke-width="3.7800000000000002" fill="none"/>
<path d="M1565,635.3H1575" stroke="#000" stroke-width="3.7800000000000002" fill="none"/>
<path d="M1565,622.8H1575" stroke="#000" stroke-width="3.7800000000000002" fill="none"/>
<path d="M1565,610.2H1575" stroke="#000" stroke-width="3.7800000000000002" fill="none"/>
<path d="M1542.9,597.6H1583.5" stroke="#000" stroke-width="4.2" fill="none"/>
<text x="1641" y="983.8" font-size="25" text-anchor="end" font-weight="bold">−30</text>
<text x="1641" y="920.9" font-size="25" text-anchor="end" font-weight="bold">−20</text>
<text x="1641" y="858" font-size="25" text-anchor="end" font-weight="bold">−10</text>
<text x="1641" y="795.1" font-size="25" text-anchor="end" font-weight="bold">0</text>
<text x="1641" y="732.2" font-size="25" text-anchor="end" font-weight="bold">10</text>
<text x="1641" y="669.3" font-size="25" text-anchor="end" font-weight="bold">20</text>
<text x="1641" y="606.4" font-size="25" text-anchor="end" font-weight="bold">30</text>
<text x="800" y="560" font-size="43">d</text>
<text x="1218" y="563" font-size="36.4" text-anchor="middle">Global overturning streamfunction in CTRL</text>
<text x="1586" y="563" font-size="35.5">(Sv)</text>
</g>
<g id="pe">
<defs><clipPath id="clip0"><circle cx="397" cy="1389" r="274.0"/></clipPath></defs>
<g clip-path="url(#clip0)">
<circle cx="397" cy="1389" r="274.0" fill="#00e6ff"/>
<path d="M360,1663C356.7,1655.8 350,1657.5 340,1654C330,1650.5 313.3,1647.3 300,1642C286.7,1636.7 273.3,1630.3 260,1622C246.7,1613.7 231.7,1602 220,1592C208.3,1582 198.7,1571.5 190,1562C181.3,1552.5 173.7,1545.8 168,1535C162.3,1524.2 158.5,1510 156,1497C153.5,1484 152.3,1470.3 153,1457C153.7,1443.7 158,1430.3 160,1417C162,1403.7 164,1390.3 165,1377C166,1363.7 165.8,1333.2 166,1337C166.2,1340.8 166.3,1394.5 166,1400C165.7,1405.5 163,1380 164,1370C165,1360 168.7,1350.7 172,1340C175.3,1329.3 179.3,1315 184,1306C188.7,1297 194,1289.3 200,1286C206,1282.7 213.3,1288 220,1286C226.7,1284 234,1278.3 240,1274C246,1269.7 251,1265.7 256,1260C261,1254.3 266,1246.3 270,1240C274,1233.7 275,1225.7 280,1222C285,1218.3 293.3,1218 300,1218C306.7,1218 313.3,1221 320,1222C326.7,1223 333.3,1224.3 340,1224C346.7,1223.7 353.3,1222 360,1220C366.7,1218 374.7,1214.7 380,1212C385.3,1209.3 389.7,1209.3 392,1204C394.3,1198.7 394.3,1188.7 394,1180C393.7,1171.3 391.7,1158.7 390,1152C388.3,1145.3 388.3,1141.3 384,1140C379.7,1138.7 371.3,1142.3 364,1144C356.7,1145.7 349,1149.3 340,1150C331,1150.7 320,1148 310,1148C300,1148 288.3,1149 280,1150C271.7,1151 270,1155.7 260,1154C250,1152.3 253.3,1125.7 220,1140C186.7,1154.3 90,1191.7 60,1240C30,1288.3 43.3,1380.5 40,1430C36.7,1479.5 13.3,1492.5 40,1537C66.7,1581.5 146.7,1670.3 200,1697C253.3,1723.7 333.3,1702.7 360,1697C386.7,1691.3 363.3,1670.2 360,1663Z" fill="#00f582" />
<path d="M196,1208C196.7,1204 200,1198.7 204,1194C208,1189.3 214.7,1184.7 220,1180C225.3,1175.3 231.3,1169.3 236,1166C240.7,1162.7 245.3,1160 248,1160C250.7,1160 253.3,1163 252,1166C250.7,1169 244,1173.3 240,1178C236,1182.7 229.7,1189 228,1194C226.3,1199 230,1203.7 230,1208C230,1212.3 231,1217.3 228,1220C225,1222.7 216.7,1224.3 212,1224C207.3,1223.7 202.7,1220.7 200,1218C197.3,1215.3 195.3,1212 196,1208Z" fill="#00e6ff" />
<path d="M398,1118C403.3,1124.3 418,1123.7 430,1128C442,1132.3 456.7,1137.3 470,1144C483.3,1150.7 498.3,1159.7 510,1168C521.7,1176.3 530,1184 540,1194C550,1204 561.7,1217.3 570,1228C578.3,1238.7 583.3,1248 590,1258C596.7,1268 605.3,1279.3 610,1288C614.7,1296.7 618,1303 618,1310C618,1317 612.7,1321.7 610,1330C607.3,1338.3 605.3,1351.7 602,1360C598.7,1368.3 593.3,1373.3 590,1380C586.7,1386.7 584.7,1391.7 582,1400C579.3,1408.3 575,1427.2 574,1430C573,1432.8 576.7,1414.2 576,1417C575.3,1419.8 571.7,1437 570,1447C568.3,1457 567.7,1468.7 566,1477C564.3,1485.3 561.3,1491.3 560,1497C558.7,1502.7 556.3,1507 558,1511C559.7,1515 564.7,1518.7 570,1521C575.3,1523.3 583.3,1524.7 590,1525C596.7,1525.3 605,1524.3 610,1523C615,1521.7 620.7,1520.7 620,1517C619.3,1513.3 610.3,1505.7 606,1501C601.7,1496.3 597.3,1493 594,1489C590.7,1485 588,1480.7 586,1477C584,1473.3 581.3,1471 582,1467C582.7,1463 587,1457 590,1453C593,1449 596.7,1445.7 600,1443C603.3,1440.3 605,1439.7 610,1437C615,1434.3 625,1432 630,1427C635,1422 637.3,1413.3 640,1407C642.7,1400.7 643.7,1393.5 646,1389C648.3,1384.5 652,1388.2 654,1380C656,1371.8 658.7,1353.3 658,1340C657.3,1326.7 653,1311.7 650,1300C647,1288.3 643.3,1278.3 640,1270C636.7,1261.7 625,1258.3 630,1250C635,1241.7 680,1245 670,1220C660,1195 603.3,1123.3 570,1100C536.7,1076.7 498.7,1081.7 470,1080C441.3,1078.3 410,1083.7 398,1090C386,1096.3 392.7,1111.7 398,1118Z" fill="#00f582" />
<path d="M264,1204C263,1200.7 265.7,1195.3 270,1192C274.3,1188.7 283.3,1187.7 290,1184C296.7,1180.3 303.3,1174.3 310,1170C316.7,1165.7 321.7,1160.7 330,1158C338.3,1155.3 351,1154 360,1154C369,1154 378.7,1153.7 384,1158C389.3,1162.3 391.3,1173 392,1180C392.7,1187 390.7,1194.7 388,1200C385.3,1205.3 381.3,1209 376,1212C370.7,1215 363.7,1217.3 356,1218C348.3,1218.7 339.3,1217 330,1216C320.7,1215 309,1212.7 300,1212C291,1211.3 282,1213.3 276,1212C270,1210.7 265,1207.3 264,1204Z" fill="#00f03c" />
<path d="M280,1202C278.3,1199.2 285,1194 290,1190C295,1186 303.3,1182.3 310,1178C316.7,1173.7 321.7,1167 330,1164C338.3,1161 351.7,1160 360,1160C368.3,1160 375.7,1160.7 380,1164C384.3,1167.3 385.7,1174.3 386,1180C386.3,1185.7 384.7,1193.3 382,1198C379.3,1202.7 375,1205.5 370,1208C365,1210.5 358.7,1212.5 352,1213C345.3,1213.5 338.7,1212 330,1211C321.3,1210 308.3,1208.5 300,1207C291.7,1205.5 281.7,1204.8 280,1202Z" fill="#14f000" />
<path d="M332,1184C332.7,1180.7 336,1176.7 340,1174C344,1171.3 351,1168.3 356,1168C361,1167.7 367,1169.3 370,1172C373,1174.7 374.7,1180.3 374,1184C373.3,1187.7 370,1191.7 366,1194C362,1196.3 355,1198 350,1198C345,1198 339,1196.3 336,1194C333,1191.7 331.3,1187.3 332,1184Z" fill="#50f500" />
<path d="M352,1176C352.3,1174.5 358,1172.7 360,1173C362,1173.3 364.3,1176.5 364,1178C363.7,1179.5 360,1182.3 358,1182C356,1181.7 351.7,1177.5 352,1176Z" fill="#a0fa00" />
<path d="M190,1252C191.7,1248.3 198.3,1242.7 204,1240C209.7,1237.3 217.3,1236 224,1236C230.7,1236 239.7,1237.3 244,1240C248.3,1242.7 250,1248 250,1252C250,1256 247.7,1261 244,1264C240.3,1267 234,1269.3 228,1270C222,1270.7 213.7,1269.3 208,1268C202.3,1266.7 197,1264.7 194,1262C191,1259.3 188.3,1255.7 190,1252Z" fill="#00f03c" />
<path d="M208,1252C208.7,1249 215.3,1245.2 220,1244C224.7,1242.8 232.3,1243.3 236,1245C239.7,1246.7 242.7,1251.2 242,1254C241.3,1256.8 236.3,1260.7 232,1262C227.7,1263.3 220,1263.7 216,1262C212,1260.3 207.3,1255 208,1252Z" fill="#14f000" />
<path d="M90,1430C100,1403.8 113.3,1396.7 120,1380C126.7,1363.3 125.7,1343.3 130,1330C134.3,1316.7 141,1308.3 146,1300C151,1291.7 158.3,1278.3 160,1280C161.7,1281.7 158.3,1300 156,1310C153.7,1320 148.3,1328.3 146,1340C143.7,1351.7 142.5,1365 142,1380C141.5,1395 142.8,1437.2 143,1430C143.2,1422.8 143.5,1345.8 143,1337C142.5,1328.2 141.7,1363.7 140,1377C138.3,1390.3 134.5,1403.7 133,1417C131.5,1430.3 129.5,1443.7 131,1457C132.5,1470.3 136.8,1483.7 142,1497C147.2,1510.3 153.7,1524.3 162,1537C170.3,1549.7 182,1562.3 192,1573C202,1583.7 210.3,1591.7 222,1601C233.7,1610.3 248.7,1621.3 262,1629C275.3,1636.7 289,1642.3 302,1647C315,1651.7 333.7,1648.7 340,1657C346.3,1665.3 386.7,1717 340,1697C293.3,1677 101.7,1581.5 60,1537C18.3,1492.5 80,1456.2 90,1430Z" fill="#00f03c" />
<path d="M90,1430C96.7,1422.2 114,1405 120,1390C126,1375 123.3,1352.3 126,1340C128.7,1327.7 133.7,1317.7 136,1316C138.3,1314.3 140.3,1322.7 140,1330C139.7,1337.3 135.3,1348.3 134,1360C132.7,1371.7 132.2,1388.3 132,1400C131.8,1411.7 132.8,1440.5 133,1430C133.2,1419.5 133.5,1342.5 133,1337C132.5,1331.5 131.2,1380.3 130,1397C128.8,1413.7 134.3,1430.3 126,1437C117.7,1443.7 86,1438.2 80,1437C74,1435.8 83.3,1437.8 90,1430Z" fill="#14f000" />
<path d="M126,1360C126,1353.3 127.7,1341.7 130,1336C132.3,1330.3 137.8,1325.3 140,1326C142.2,1326.7 143.3,1333.3 143,1340C142.7,1346.7 140.2,1360 138,1366C135.8,1372 132,1377 130,1376C128,1375 126,1366.7 126,1360Z" fill="#50f500" />
<path d="M420,1120C426.7,1126.7 446.7,1125.3 460,1130C473.3,1134.7 488,1141.3 500,1148C512,1154.7 521.7,1161.7 532,1170C542.3,1178.3 552.3,1188 562,1198C571.7,1208 582,1219.7 590,1230C598,1240.3 604,1250.7 610,1260C616,1269.3 622.3,1279.3 626,1286C629.7,1292.7 624.7,1301 632,1300C639.3,1299 680.3,1310 670,1280C659.7,1250 611.7,1151.7 570,1120C528.3,1088.3 445,1090 420,1090C395,1090 413.3,1113.3 420,1120Z" fill="#00f03c" />
<path d="M440,1119C445,1125.3 458.3,1123.2 470,1128C481.7,1132.8 498,1140.7 510,1148C522,1155.3 531.7,1163.3 542,1172C552.3,1180.7 562.7,1190 572,1200C581.3,1210 590.3,1221.3 598,1232C605.7,1242.7 613,1256 618,1264C623,1272 619.3,1280.7 628,1280C636.7,1279.3 679.7,1288.3 670,1260C660.3,1231.7 608.3,1138.3 570,1110C531.7,1081.7 461.7,1088.5 440,1090C418.3,1091.5 435,1112.7 440,1119Z" fill="#14f000" />
<path d="M630,1346C632,1346 637,1354.3 638,1360C639,1365.7 638,1373.3 636,1380C634,1386.7 630.3,1393.3 626,1400C621.7,1406.7 614.3,1415 610,1420C605.7,1425 601.7,1433.8 600,1430C598.3,1426.2 599,1398.5 600,1397C601,1395.5 606,1414.3 606,1421C606,1427.7 602.7,1432.3 600,1437C597.3,1441.7 593.3,1444.3 590,1449C586.7,1453.7 582.3,1465 580,1465C577.7,1465 575.7,1456.3 576,1449C576.3,1441.7 579.7,1429.7 582,1421C584.3,1412.3 587,1400.5 590,1397C593,1393.5 596,1402.8 600,1400C604,1397.2 609.7,1386.7 614,1380C618.3,1373.3 623.3,1365.7 626,1360C628.7,1354.3 628,1346 630,1346Z" fill="#00f03c" />
<path d="M590,1441C593,1436 597,1426.7 600,1423C603,1419.3 607.3,1417.3 608,1419C608.7,1420.7 606.3,1428 604,1433C601.7,1438 597.3,1444.3 594,1449C590.7,1453.7 586,1460.3 584,1461C582,1461.7 581,1456.3 582,1453C583,1449.7 587,1446 590,1441Z" fill="#14f000" />
<path d="M582,1513C582.7,1510.7 586.7,1507 590,1507C593.3,1507 601,1510.7 602,1513C603,1515.3 598.7,1519.7 596,1521C593.3,1522.3 588.3,1522.3 586,1521C583.7,1519.7 581.3,1515.3 582,1513Z" fill="#00f03c" />
<path d="M292,1232C297,1229.7 303.7,1230.2 310,1230C316.3,1229.8 324,1230 330,1231C336,1232 344.3,1234.5 346,1236C347.7,1237.5 344.3,1238.7 340,1240C335.7,1241.3 325.3,1242 320,1244C314.7,1246 312,1248.3 308,1252C304,1255.7 300.7,1261.3 296,1266C291.3,1270.7 284.3,1274.3 280,1280C275.7,1285.7 273.3,1293.3 270,1300C266.7,1306.7 263.7,1313.3 260,1320C256.3,1326.7 251.3,1334.7 248,1340C244.7,1345.3 242,1347 240,1352C238,1357 236,1363.7 236,1370C236,1376.3 238.3,1383.3 240,1390C241.7,1396.7 244,1403.3 246,1410C248,1416.7 250,1424.8 252,1430C254,1435.2 256.7,1437.2 258,1441C259.3,1444.8 258.3,1447 260,1453C261.7,1459 264.7,1470.3 268,1477C271.3,1483.7 274.7,1488.3 280,1493C285.3,1497.7 293.3,1501 300,1505C306.7,1509 313.3,1513.3 320,1517C326.7,1520.7 333.3,1522 340,1527C346.7,1532 355,1541.3 360,1547C365,1552.7 364,1557 370,1561C376,1565 396,1568 396,1571C396,1574 371,1576.3 370,1579C369,1581.7 383.3,1584.3 390,1587C396.7,1589.7 401.7,1593.3 410,1595C418.3,1596.7 431.7,1598 440,1597C448.3,1596 451.7,1592.3 460,1589C468.3,1585.7 481.7,1581.3 490,1577C498.3,1572.7 504.7,1568.3 510,1563C515.3,1557.7 518.7,1551 522,1545C525.3,1539 527,1533.3 530,1527C533,1520.7 536.7,1513.3 540,1507C543.3,1500.7 547.3,1494.7 550,1489C552.7,1483.3 556,1478.3 556,1473C556,1467.7 552,1461.7 550,1457C548,1452.3 546,1447.7 544,1445C542,1442.3 540.3,1444.3 538,1441C535.7,1437.7 532.7,1429 530,1425C527.3,1421 524,1420.3 522,1417C520,1413.7 518,1408 518,1405C518,1402 519.3,1400.7 522,1399C524.7,1397.3 530.7,1394 534,1395C537.3,1396 538.7,1400.7 542,1405C545.3,1409.3 550.7,1415 554,1421C557.3,1427 560,1433.7 562,1441C564,1448.3 565.7,1457 566,1465C566.3,1473 565,1482.7 564,1489C563,1495.3 561,1499 560,1503C559,1507 557,1510 558,1513C559,1516 562,1519 566,1521C570,1523 576.3,1524.3 582,1525C587.7,1525.7 594.3,1525.3 600,1525C605.7,1524.7 612.7,1524.3 616,1523C619.3,1521.7 617.7,1516.3 620,1517C622.3,1517.7 627.7,1523.7 630,1527C632.3,1530.3 624,1528.7 634,1537C644,1545.3 707.3,1548.7 690,1577C672.7,1605.3 570.7,1690.3 530,1707C489.3,1723.7 460,1685.7 446,1677C432,1668.3 448.7,1659 446,1655C443.3,1651 436,1654 430,1653C424,1652 415.5,1650.3 410,1649C404.5,1647.7 402,1646.3 397,1645C392,1643.7 386.2,1642.3 380,1641C373.8,1639.7 365.7,1640.3 360,1637C354.3,1633.7 350.7,1624.7 346,1621C341.3,1617.3 336.3,1616.7 332,1615C327.7,1613.3 322.3,1612.8 320,1611C317.7,1609.2 316,1605.3 318,1604C320,1602.7 330.7,1604.8 332,1603C333.3,1601.2 329.3,1597.3 326,1593C322.7,1588.7 315,1582 312,1577C309,1572 310,1568 308,1563C306,1558 302.7,1550.7 300,1547C297.3,1543.3 295.3,1542 292,1541C288.7,1540 283,1539 280,1541C277,1543 276.7,1549.3 274,1553C271.3,1556.7 267.7,1560.5 264,1563C260.3,1565.5 256,1568 252,1568C248,1568 243.3,1566.5 240,1563C236.7,1559.5 234,1553 232,1547C230,1541 228.3,1533.7 228,1527C227.7,1520.3 230,1513.3 230,1507C230,1500.7 230.3,1494 228,1489C225.7,1484 219.3,1481 216,1477C212.7,1473 210.7,1469 208,1465C205.3,1461 203.3,1455.3 200,1453C196.7,1450.7 191.3,1453.7 188,1451C184.7,1448.3 181.7,1442.7 180,1437C178.3,1431.3 178,1418.2 178,1417C178,1415.8 179.3,1432.8 180,1430C180.7,1427.2 182.3,1408.3 182,1400C181.7,1391.7 178.3,1386.7 178,1380C177.7,1373.3 179,1366.7 180,1360C181,1353.3 182.7,1348 184,1340C185.3,1332 186,1318.3 188,1312C190,1305.7 192.7,1303 196,1302C199.3,1301 204,1304 208,1306C212,1308 215.3,1314.3 220,1314C224.7,1313.7 231,1308.7 236,1304C241,1299.3 245.3,1292.3 250,1286C254.7,1279.7 259,1273 264,1266C269,1259 275.3,1249.7 280,1244C284.7,1238.3 287,1234.3 292,1232Z" fill="#0050ff" />
<path d="M232,1435C232.7,1434 236,1433 238,1434C240,1435 241.7,1438.5 244,1441C246.3,1443.5 249.3,1448 252,1449C254.7,1450 259,1446 260,1447C261,1448 260,1454.3 258,1455C256,1455.7 251,1452.7 248,1451C245,1449.3 242.3,1446.8 240,1445C237.7,1443.2 235.3,1441.7 234,1440C232.7,1438.3 231.3,1436 232,1435Z" fill="#00e6ff" />
<path d="M352,1613C354.3,1611.5 362.7,1610.7 370,1610C377.3,1609.3 388.7,1608.8 396,1609C403.3,1609.2 410.7,1610 414,1611C417.3,1612 418.3,1613.7 416,1615C413.7,1616.3 407.7,1618 400,1619C392.3,1620 377.3,1621 370,1621C362.7,1621 359,1620.3 356,1619C353,1617.7 349.7,1614.5 352,1613Z" fill="#00e6ff" />
<path d="M400,1144C400.3,1141.3 409,1140 414,1140C419,1140 425,1142 430,1144C435,1146 443.3,1149.7 444,1152C444.7,1154.3 437.7,1156.3 434,1158C430.3,1159.7 425.7,1162.3 422,1162C418.3,1161.7 415.7,1159 412,1156C408.3,1153 399.7,1146.7 400,1144Z" fill="#0050ff" />
<path d="M434,1207C433.7,1206 438,1204.7 440,1205C442,1205.3 445.7,1208 446,1209C446.3,1210 444,1211.3 442,1211C440,1210.7 434.3,1208 434,1207Z" fill="#0050ff" />
<path d="M438,1278C439,1276.3 446.3,1275 450,1272C453.7,1269 457.7,1263.3 460,1260C462.3,1256.7 464.7,1255.3 464,1252C463.3,1248.7 458.3,1243.7 456,1240C453.7,1236.3 451.5,1233.3 450,1230C448.5,1226.7 445.7,1221 447,1220C448.3,1219 454.2,1222.3 458,1224C461.8,1225.7 466,1227.7 470,1230C474,1232.3 478,1235.7 482,1238C486,1240.3 489.3,1242.3 494,1244C498.7,1245.7 505.3,1246 510,1248C514.7,1250 518.7,1253 522,1256C525.3,1259 527,1262 530,1266C533,1270 537,1275.3 540,1280C543,1284.7 547,1290.7 548,1294C549,1297.3 547.7,1298.5 546,1300C544.3,1301.5 540.3,1303.7 538,1303C535.7,1302.3 534.3,1299.8 532,1296C529.7,1292.2 527,1284.7 524,1280C521,1275.3 517.7,1271.7 514,1268C510.3,1264.3 506,1260.5 502,1258C498,1255.5 493.3,1253.8 490,1253C486.7,1252.2 484.3,1251.8 482,1253C479.7,1254.2 476.7,1257.5 476,1260C475.3,1262.5 476.7,1264.7 478,1268C479.3,1271.3 482.7,1276.3 484,1280C485.3,1283.7 484,1287.5 486,1290C488,1292.5 494.3,1293 496,1295C497.7,1297 497,1300 496,1302C495,1304 493,1306.7 490,1307C487,1307.3 482,1305.8 478,1304C474,1302.2 470,1298.7 466,1296C462,1293.3 457.7,1290.3 454,1288C450.3,1285.7 446.7,1283.7 444,1282C441.3,1280.3 437,1279.7 438,1278Z" fill="#0050ff" />
<path d="M604,1443C604.7,1441.7 614,1438.7 620,1437C626,1435.3 631.7,1433.7 640,1433C648.3,1432.3 665,1427.7 670,1433C675,1438.3 671.7,1459.7 670,1465C668.3,1470.3 663.3,1466.3 660,1465C656.7,1463.7 655,1459.7 650,1457C645,1454.3 635.7,1451 630,1449C624.3,1447 620.3,1446 616,1445C611.7,1444 603.3,1444.3 604,1443Z" fill="#0050ff" />
<path d="M628,1442C628,1440.7 632.2,1439.7 634,1440C635.8,1440.3 639,1442.7 639,1444C639,1445.3 635.8,1448.3 634,1448C632.2,1447.7 628,1443.3 628,1442Z" fill="#0000b4" />
<path d="M590,1471C591.7,1469.3 605,1472 610,1475C615,1478 616.7,1483.7 620,1489C623.3,1494.3 627.3,1502.3 630,1507C632.7,1511.7 632.7,1515.3 636,1517C639.3,1518.7 651,1513 650,1517C649,1521 635.7,1535.7 630,1541C624.3,1546.3 618.8,1549.7 616,1549C613.2,1548.3 613,1542.3 613,1537C613,1531.7 616.5,1523 616,1517C615.5,1511 612.7,1506.3 610,1501C607.3,1495.7 603.3,1490 600,1485C596.7,1480 588.3,1472.7 590,1471Z" fill="#0050ff" />
<path d="M610,1481C611,1479.7 616.7,1484.7 620,1489C623.3,1493.3 627.3,1502.3 630,1507C632.7,1511.7 632.7,1515.3 636,1517C639.3,1518.7 651,1513 650,1517C649,1521 635.3,1536.3 630,1541C624.7,1545.7 620,1547.3 618,1545C616,1542.7 617.3,1532.3 618,1527C618.7,1521.7 622.7,1518 622,1513C621.3,1508 616,1502.3 614,1497C612,1491.7 609,1482.3 610,1481Z" fill="#0000b4" />
<path d="M255,1389 254,1370 255,1356 260,1344 264,1340 262,1330 270,1324 276,1316 278,1306 286,1300 290,1292 300,1284 312,1277 324,1276 336,1272 348,1271 360,1274 368,1273 376,1276 379,1282 374,1292 371,1302 374,1310 380,1314 374,1320 376,1336 386,1346 396,1350 404,1360 412,1365 414,1356 420,1340 428,1338 430,1320 426,1315 438,1316 440,1320 450,1317 460,1320 466,1326 466,1336 482,1332 484,1340 480,1348 486,1358 490,1366 500,1368 508,1374 504,1380 502,1389 502,1389 500,1397 498,1407 494,1417 496,1427 506,1431 500,1421 510,1419 518,1423 514,1431 520,1437 526,1441 528,1449 534,1457 536,1465 532,1477 528,1479 526,1465 522,1453 514,1445 506,1447 494,1443 482,1437 474,1427 471,1420 466,1429 454,1433 444,1437 439,1449 436,1465 432,1477 426,1487 418,1493 416,1501 406,1505 400,1509 396,1503 388,1507 380,1509 368,1506 356,1501 346,1497 336,1495 326,1497 322,1493 320,1485 314,1487 306,1485 296,1479 292,1475 284,1479 278,1473 278,1465 276,1453 272,1443 270,1436 280,1431 284,1428 278,1421 272,1416 264,1411 258,1401 256,1389Z" fill="none" stroke="#00f582" stroke-width="26" stroke-linejoin="round"/>
<path d="M255,1389 254,1370 255,1356 260,1344 264,1340 262,1330 270,1324 276,1316 278,1306 286,1300 290,1292 300,1284 312,1277 324,1276 336,1272 348,1271 360,1274 368,1273 376,1276 379,1282 374,1292 371,1302 374,1310 380,1314 374,1320 376,1336 386,1346 396,1350 404,1360 412,1365 414,1356 420,1340 428,1338 430,1320 426,1315 438,1316 440,1320 450,1317 460,1320 466,1326 466,1336 482,1332 484,1340 480,1348 486,1358 490,1366 500,1368 508,1374 504,1380 502,1389 502,1389 500,1397 498,1407 494,1417 496,1427 506,1431 500,1421 510,1419 518,1423 514,1431 520,1437 526,1441 528,1449 534,1457 536,1465 532,1477 528,1479 526,1465 522,1453 514,1445 506,1447 494,1443 482,1437 474,1427 471,1420 466,1429 454,1433 444,1437 439,1449 436,1465 432,1477 426,1487 418,1493 416,1501 406,1505 400,1509 396,1503 388,1507 380,1509 368,1506 356,1501 346,1497 336,1495 326,1497 322,1493 320,1485 314,1487 306,1485 296,1479 292,1475 284,1479 278,1473 278,1465 276,1453 272,1443 270,1436 280,1431 284,1428 278,1421 272,1416 264,1411 258,1401 256,1389Z" fill="none" stroke="#00f03c" stroke-width="15" stroke-linejoin="round"/>
<path d="M255,1389 254,1370 255,1356 260,1344 264,1340 262,1330 270,1324 276,1316 278,1306 286,1300 290,1292 300,1284 312,1277 324,1276 336,1272 348,1271 360,1274 368,1273 376,1276 379,1282 374,1292 371,1302 374,1310 380,1314 374,1320 376,1336 386,1346 396,1350 404,1360 412,1365 414,1356 420,1340 428,1338 430,1320 426,1315 438,1316 440,1320 450,1317 460,1320 466,1326 466,1336 482,1332 484,1340 480,1348 486,1358 490,1366 500,1368 508,1374 504,1380 502,1389 502,1389 500,1397 498,1407 494,1417 496,1427 506,1431 500,1421 510,1419 518,1423 514,1431 520,1437 526,1441 528,1449 534,1457 536,1465 532,1477 528,1479 526,1465 522,1453 514,1445 506,1447 494,1443 482,1437 474,1427 471,1420 466,1429 454,1433 444,1437 439,1449 436,1465 432,1477 426,1487 418,1493 416,1501 406,1505 400,1509 396,1503 388,1507 380,1509 368,1506 356,1501 346,1497 336,1495 326,1497 322,1493 320,1485 314,1487 306,1485 296,1479 292,1475 284,1479 278,1473 278,1465 276,1453 272,1443 270,1436 280,1431 284,1428 278,1421 272,1416 264,1411 258,1401 256,1389Z" fill="none" stroke="#14f000" stroke-width="8" stroke-linejoin="round"/>
<path d="M280,1300C272.7,1298.3 274,1286 276,1280C278,1274 284.7,1268.7 292,1264C299.3,1259.3 310.3,1255 320,1252C329.7,1249 340,1246 350,1246C360,1246 373.3,1248 380,1252C386.7,1256 387.3,1263.7 390,1270C392.7,1276.3 395,1281.7 396,1290C397,1298.3 399.3,1318.3 396,1320C392.7,1321.7 382,1305 376,1300C370,1295 369.3,1291.7 360,1290C350.7,1288.3 333.3,1288.3 320,1290C306.7,1291.7 287.3,1301.7 280,1300Z" fill="#00f582" />
<path d="M288,1292C282.3,1291.3 284,1283.7 286,1280C288,1276.3 294.3,1273.3 300,1270C305.7,1266.7 311.7,1262.7 320,1260C328.3,1257.3 340.7,1254 350,1254C359.3,1254 370.3,1256.3 376,1260C381.7,1263.7 382,1269.3 384,1276C386,1282.7 389.3,1297.3 388,1300C386.7,1302.7 380.7,1294.7 376,1292C371.3,1289.3 369.3,1285.3 360,1284C350.7,1282.7 332,1282.7 320,1284C308,1285.3 293.7,1292.7 288,1292Z" fill="#00f03c" />
<path d="M296,1286C292.7,1285.3 296,1279.3 300,1276C304,1272.7 311.7,1268.3 320,1266C328.3,1263.7 341.3,1262 350,1262C358.7,1262 367,1263 372,1266C377,1269 382,1277.7 380,1280C378,1282.3 370,1280 360,1280C350,1280 330.7,1279 320,1280C309.3,1281 299.3,1286.7 296,1286Z" fill="#14f000" />
<path d="M308,1280C306.3,1278.8 314.7,1273.2 320,1271C325.3,1268.8 332.7,1267.2 340,1267C347.3,1266.8 358,1268.3 364,1270C370,1271.7 376.7,1275.7 376,1277C375.3,1278.3 367.7,1277.8 360,1278C352.3,1278.2 338.7,1277.7 330,1278C321.3,1278.3 309.7,1281.2 308,1280Z" fill="#a0fa00" />
<path d="M324,1276C321,1275 328,1270.5 332,1269C336,1267.5 343,1266.5 348,1267C353,1267.5 361.7,1270.7 362,1272C362.3,1273.3 356.3,1274.3 350,1275C343.7,1275.7 327,1277 324,1276Z" fill="#fff000" />
<path d="M330,1274.4C328.7,1273.8 335,1270.5 338,1269.6C341,1268.7 346.7,1268.4 348,1269C349.3,1269.6 349,1272.1 346,1273C343,1273.9 331.3,1275 330,1274.4Z" fill="#ff8c00" />
<path d="M350,1270C353.3,1262 363.3,1253.7 370,1252C376.7,1250.3 384,1257 390,1260C396,1263 401.7,1265 406,1270C410.3,1275 411,1285.3 416,1290C421,1294.7 428.7,1296 436,1298C443.3,1300 452.3,1299 460,1302C467.7,1305 475.3,1311.3 482,1316C488.7,1320.7 494.7,1324.3 500,1330C505.3,1335.7 511,1341.7 514,1350C517,1358.3 518.7,1371.7 518,1380C517.3,1388.3 513.3,1398.5 510,1400C506.7,1401.5 502.7,1400.7 498,1389C493.3,1377.3 493.3,1342.5 482,1330C470.7,1317.5 448.7,1317 430,1314C411.3,1311 383.3,1314.3 370,1312C356.7,1309.7 353.3,1307 350,1300C346.7,1293 346.7,1278 350,1270Z" fill="#00f582" />
<path d="M350,1280C353.3,1273.3 363.7,1262 370,1260C376.3,1258 383,1264.7 388,1268C393,1271.3 396.3,1275 400,1280C403.7,1285 404.3,1294 410,1298C415.7,1302 426,1302.3 434,1304C442,1305.7 450.7,1305.3 458,1308C465.3,1310.7 472,1315.7 478,1320C484,1324.3 489,1328.7 494,1334C499,1339.3 505.3,1345 508,1352C510.7,1359 511.7,1371.3 510,1376C508.3,1380.7 502.7,1387.7 498,1380C493.3,1372.3 493.3,1341 482,1330C470.7,1319 448.7,1317 430,1314C411.3,1311 383.3,1314.3 370,1312C356.7,1309.7 353.3,1305.3 350,1300C346.7,1294.7 346.7,1286.7 350,1280Z" fill="#00f03c" />
<path d="M354,1292C354,1285 365,1274.3 370,1272C375,1269.7 380,1275 384,1278C388,1281 390.7,1285.3 394,1290C397.3,1294.7 398,1302.7 404,1306C410,1309.3 421.7,1308.7 430,1310C438.3,1311.3 447.3,1312 454,1314C460.7,1316 465.3,1319.3 470,1322C474.7,1324.7 488.7,1331 482,1330C475.3,1329 448.7,1318.7 430,1316C411.3,1313.3 382.7,1318 370,1314C357.3,1310 354,1299 354,1292Z" fill="#14f000" />
<path d="M360,1300C361.3,1295.7 366.7,1287.7 370,1286C373.3,1284.3 376.7,1287.7 380,1290C383.3,1292.3 386.7,1296.7 390,1300C393.3,1303.3 395,1307.7 400,1310C405,1312.3 421.7,1312.9 420,1313.6C418.3,1314.3 399.7,1314.3 390,1314C380.3,1313.7 367,1314.3 362,1312C357,1309.7 358.7,1304.3 360,1300Z" fill="#a0fa00" />
<path d="M366,1308C364.7,1305.7 371,1300.7 374,1300C377,1299.3 380.7,1302.3 384,1304C387.3,1305.7 390.3,1308.5 394,1310C397.7,1311.5 408,1312.6 406,1313.2C404,1313.8 388.7,1314.5 382,1313.6C375.3,1312.7 367.3,1310.3 366,1308Z" fill="#fff000" />
<path d="M374,1311C374,1310 379,1307.2 382,1307C385,1306.8 389,1309 392,1310C395,1311 401.7,1312.3 400,1312.8C398.3,1313.3 386.3,1313.5 382,1313.2C377.7,1312.9 374,1312 374,1311Z" fill="#ff8c00" />
<path d="M360,1527C356.7,1537 365,1558 370,1567C375,1576 381.7,1577.3 390,1581C398.3,1584.7 410,1588 420,1589C430,1590 440,1589.3 450,1587C460,1584.7 471.3,1579.7 480,1575C488.7,1570.3 496.3,1564.7 502,1559C507.7,1553.3 510.7,1546.7 514,1541C517.3,1535.3 519.3,1530.3 522,1525C524.7,1519.7 527,1514.3 530,1509C533,1503.7 537.3,1498.3 540,1493C542.7,1487.7 545.7,1482.3 546,1477C546.3,1471.7 544.7,1465.7 542,1461C539.3,1456.3 535.3,1451.7 530,1449C524.7,1446.3 518,1447 510,1445C502,1443 492,1438.3 482,1437C472,1435.7 458.7,1433.7 450,1437C441.3,1440.3 435,1447.7 430,1457C425,1466.3 426.7,1484.7 420,1493C413.3,1501.3 400,1501.3 390,1507C380,1512.7 363.3,1517 360,1527Z" fill="#00f582" />
<path d="M380,1527C378.3,1536 385,1555 390,1563C395,1571 402.3,1572.3 410,1575C417.7,1577.7 427.7,1578.7 436,1579C444.3,1579.3 452.3,1579 460,1577C467.7,1575 475.7,1571 482,1567C488.3,1563 493.7,1558 498,1553C502.3,1548 505.3,1542.3 508,1537C510.7,1531.7 511.7,1526.3 514,1521C516.3,1515.7 518.7,1510.3 522,1505C525.3,1499.7 531.7,1493.7 534,1489C536.3,1484.3 536.7,1481.7 536,1477C535.3,1472.3 533.7,1465 530,1461C526.3,1457 520.7,1455.7 514,1453C507.3,1450.3 500,1447 490,1445C480,1443 463,1438.3 454,1441C445,1443.7 440.7,1452.3 436,1461C431.3,1469.7 432,1485 426,1493C420,1501 407.7,1503.3 400,1509C392.3,1514.7 381.7,1518 380,1527Z" fill="#00f03c" />
<path d="M400,1533C398.7,1540.3 402.3,1551 406,1557C409.7,1563 416,1566.3 422,1569C428,1571.7 435,1572.7 442,1573C449,1573.3 457,1573.3 464,1571C471,1568.7 478.3,1563.7 484,1559C489.7,1554.3 494.3,1548.7 498,1543C501.7,1537.3 503.3,1530.7 506,1525C508.7,1519.3 510.7,1514 514,1509C517.3,1504 524.7,1499.7 526,1495C527.3,1490.3 524.7,1485.3 522,1481C519.3,1476.7 516,1473 510,1469C504,1465 494.7,1460.3 486,1457C477.3,1453.7 465.3,1447.7 458,1449C450.7,1450.3 446,1457.7 442,1465C438,1472.3 438.7,1485 434,1493C429.3,1501 419.7,1506.3 414,1513C408.3,1519.7 401.3,1525.7 400,1533Z" fill="#14f000" />
<path d="M414,1537C412.3,1543.7 413.3,1552 416,1557C418.7,1562 424.3,1565 430,1567C435.7,1569 443.3,1569.3 450,1569C456.7,1568.7 464,1568 470,1565C476,1562 482,1556.3 486,1551C490,1545.7 492,1539.3 494,1533C496,1526.7 496.7,1519 498,1513C499.3,1507 502,1502.3 502,1497C502,1491.7 501.3,1485.7 498,1481C494.7,1476.3 488,1472.3 482,1469C476,1465.7 467.3,1460.3 462,1461C456.7,1461.7 453.3,1467 450,1473C446.7,1479 446,1489.7 442,1497C438,1504.3 430.7,1510.3 426,1517C421.3,1523.7 415.7,1530.3 414,1537Z" fill="#50f500" />
<path d="M418,1545C417.3,1549.7 419,1555.7 422,1559C425,1562.3 430.7,1563.7 436,1565C441.3,1566.3 448,1567.7 454,1567C460,1566.3 467,1564.7 472,1561C477,1557.3 481,1550.7 484,1545C487,1539.3 488.3,1533 490,1527C491.7,1521 493.7,1514.7 494,1509C494.3,1503.3 494,1497 492,1493C490,1489 486.3,1485.7 482,1485C477.7,1484.3 470.7,1486.3 466,1489C461.3,1491.7 458.7,1496.3 454,1501C449.3,1505.7 442.7,1512 438,1517C433.3,1522 429.3,1526.3 426,1531C422.7,1535.7 418.7,1540.3 418,1545Z" fill="#a0fa00" />
<path d="M422,1553C422.3,1555.8 424.7,1560 428,1562C431.3,1564 436.7,1564.8 442,1565C447.3,1565.2 454.7,1564.7 460,1563C465.3,1561.3 470.3,1559 474,1555C477.7,1551 479.7,1544.7 482,1539C484.3,1533.3 486.7,1526.7 488,1521C489.3,1515.3 490.3,1509 490,1505C489.7,1501 488,1498 486,1497C484,1496 481.3,1497.3 478,1499C474.7,1500.7 470.7,1504 466,1507C461.3,1510 455,1512.7 450,1517C445,1521.3 440,1528.3 436,1533C432,1537.7 428.3,1541.7 426,1545C423.7,1548.3 421.7,1550.2 422,1553Z" fill="#fff000" />
<path d="M425,1555C425.3,1557.8 428.5,1560.7 432,1562C435.5,1563.3 441,1563.5 446,1563C451,1562.5 457.3,1561.3 462,1559C466.7,1556.7 471,1553.3 474,1549C477,1544.7 478.3,1538.3 480,1533C481.7,1527.7 483,1521.7 484,1517C485,1512.3 486.3,1507.3 486,1505C485.7,1502.7 484.7,1502.3 482,1503C479.3,1503.7 474.7,1506.7 470,1509C465.3,1511.3 459,1513.3 454,1517C449,1520.7 444,1526.3 440,1531C436,1535.7 432.5,1541 430,1545C427.5,1549 424.7,1552.2 425,1555Z" fill="#ff8c00" />
<path d="M428,1557C428.7,1559.3 432.3,1560.3 436,1561C439.7,1561.7 445.3,1561.8 450,1561C454.7,1560.2 460.2,1558.7 464,1556C467.8,1553.3 470.8,1549.5 473,1545C475.2,1540.5 476.2,1533.7 477,1529C477.8,1524.3 478.5,1519.7 478,1517C477.5,1514.3 476.3,1513.7 474,1513C471.7,1512.3 467.7,1512 464,1513C460.3,1514 456,1515.7 452,1519C448,1522.3 443.3,1528.3 440,1533C436.7,1537.7 434,1543 432,1547C430,1551 427.3,1554.7 428,1557Z" fill="#ff2800" />
<path d="M432,1556C432.8,1558 436.7,1558.7 440,1559C443.3,1559.3 448,1559.2 452,1558C456,1556.8 461,1554.8 464,1552C467,1549.2 468.7,1545.5 470,1541C471.3,1536.5 472,1529 472,1525C472,1521 471.7,1518.3 470,1517C468.3,1515.7 465,1516 462,1517C459,1518 455.3,1520 452,1523C448.7,1526 444.8,1531 442,1535C439.2,1539 436.7,1543.5 435,1547C433.3,1550.5 431.2,1554 432,1556Z" fill="#ff7878" />
<path d="M436,1555C436.7,1556.7 439.3,1556.8 442,1557C444.7,1557.2 448.7,1557.3 452,1556C455.3,1554.7 459.5,1551.8 462,1549C464.5,1546.2 465.8,1543 467,1539C468.2,1535 469,1528.3 469,1525C469,1521.7 468.5,1519.8 467,1519C465.5,1518.2 462.5,1518.7 460,1520C457.5,1521.3 454.7,1524.2 452,1527C449.3,1529.8 446.3,1533.7 444,1537C441.7,1540.3 439.3,1544 438,1547C436.7,1550 435.3,1553.3 436,1555Z" fill="#ffdcdc" />
<path d="M438,1441C446.3,1436.3 480,1434.3 490,1437C500,1439.7 499.3,1451 498,1457C496.7,1463 488.7,1471 482,1473C475.3,1475 465,1470.3 458,1469C451,1467.7 443.3,1469.7 440,1465C436.7,1460.3 429.7,1445.7 438,1441Z" fill="#a0fa00" />
<path d="M442,1443C448.7,1440 474.3,1437.3 482,1439C489.7,1440.7 489.3,1449.3 488,1453C486.7,1456.7 479.7,1459.7 474,1461C468.3,1462.3 459.3,1461.7 454,1461C448.7,1460.3 444,1460 442,1457C440,1454 435.3,1446 442,1443Z" fill="#fff000" />
<path d="M458,1441C461.3,1439.3 474.3,1437.7 478,1439C481.7,1440.3 482,1446.3 480,1449C478,1451.7 469.7,1455 466,1455C462.3,1455 459.3,1451.3 458,1449C456.7,1446.7 454.7,1442.7 458,1441Z" fill="#ff8c00" />
<path d="M440,1446C441.1,1444.5 445.3,1443.8 447,1445C448.7,1446.2 450.3,1451 450,1453C449.7,1455 446.6,1456.8 445,1457C443.4,1457.2 441.2,1455.8 440.4,1454C439.6,1452.2 438.9,1447.5 440,1446Z" fill="#ff2800" />
<path d="M466,1455C466.7,1453.5 473.8,1451.7 476,1452C478.2,1452.3 479.7,1455.5 479,1457C478.3,1458.5 474.2,1461.3 472,1461C469.8,1460.7 465.3,1456.5 466,1455Z" fill="#14f000" />
<path d="M255,1389 254,1370 255,1356 260,1344 264,1340 262,1330 270,1324 276,1316 278,1306 286,1300 290,1292 300,1284 312,1277 324,1276 336,1272 348,1271 360,1274 368,1273 376,1276 379,1282 374,1292 371,1302 374,1310 380,1313 400,1313 426,1314.4 438,1316 450,1316.4 460,1319 474,1328 482,1332 484,1340 480,1348 486,1358 490,1366 500,1368 508,1374 504,1380 502,1389 502,1389 500,1397 498,1407 494,1417 496,1427 506,1431 514,1431 520,1437 526,1441 528,1449 534,1457 536,1465 532,1477 528,1479 526,1465 522,1453 514,1445 506,1447 494,1443 482,1439 478,1441 474,1437 470,1441 466,1438 462,1442 458,1438 454,1442 450,1439 446,1443 440,1445 439,1449 436,1465 432,1477 430,1489 426,1487 418,1493 416,1501 406,1505 400,1509 396,1503 388,1507 380,1509 368,1506 356,1501 346,1497 336,1495 326,1497 322,1493 320,1485 314,1487 306,1485 296,1479 292,1475 284,1479 278,1473 278,1465 276,1453 272,1443 270,1436 280,1431 284,1428 278,1421 272,1416 264,1411 258,1401 256,1389Z" fill="#fff" />
<path d="M583,1475 582,1465 588,1455 600,1447 616,1445 630,1449 640,1455 650,1459 662,1465 670,1477 650,1517 639,1515 636,1507 630,1497 626,1487 620,1485 616,1477 610,1471 600,1467 590,1469 585,1475Z" fill="#fff" />
<path d="M338,1147 344,1138 354,1130 362,1122 374,1116 382,1115 380,1120 370,1126 362,1134 358,1142 350,1147 345,1152.4Z" fill="#fff" stroke="#000" stroke-width="3.6" stroke-linejoin="round" />
<path d="M240,1166 248,1160 256,1158.4 259,1166 256,1172.4 248,1175 243,1171Z" fill="#fff" stroke="#000" stroke-width="3.6" stroke-linejoin="round" />
</g>
<path d="M397,1389L634.3,1526" stroke="#000" stroke-width="1" stroke-dasharray="7 5" fill="none"/>
<path d="M397,1389L534,1626.3" stroke="#000" stroke-width="1" stroke-dasharray="7 5" fill="none"/>
<path d="M397,1389L260,1626.3" stroke="#000" stroke-width="1" stroke-dasharray="7 5" fill="none"/>
<path d="M397,1389L159.7,1526" stroke="#000" stroke-width="1" stroke-dasharray="7 5" fill="none"/>
<path d="M397,1389L159.7,1252" stroke="#000" stroke-width="1" stroke-dasharray="7 5" fill="none"/>
<path d="M397,1389L260,1151.7" stroke="#000" stroke-width="1" stroke-dasharray="7 5" fill="none"/>
<path d="M397,1389L534,1151.7" stroke="#000" stroke-width="1" stroke-dasharray="7 5" fill="none"/>
<path d="M397,1389L634.3,1252" stroke="#000" stroke-width="1" stroke-dasharray="7 5" fill="none"/>
<circle cx="397" cy="1389" r="179" fill="none" stroke="#000" stroke-width="1" stroke-dasharray="7 5"/>
<path d="M123,1389H671" stroke="#000" stroke-width="2.0" fill="none"/>
<path d="M397,1131V1663" stroke="#000" stroke-width="2.0" fill="none"/>
<g clip-path="url(#clip0)">
<path d="M255,1389 254,1370 255,1356 260,1344 264,1340 262,1330 270,1324 276,1316 278,1306 286,1300 290,1292 300,1284 312,1277 324,1276 336,1272 348,1271 360,1274 368,1273 376,1276 379,1282 374,1292 371,1302 374,1310 380,1314 374,1320 376,1336 386,1346 396,1350 404,1360 412,1365 414,1356 420,1340 428,1338 430,1320 426,1315 438,1316 440,1320 450,1317 460,1320 466,1326 466,1336 482,1332 484,1340 480,1348 486,1358 490,1366 500,1368 508,1374 504,1380 502,1389 502,1389 500,1397 498,1407 494,1417 496,1427 506,1431 500,1421 510,1419 518,1423 514,1431 520,1437 526,1441 528,1449 534,1457 536,1465 532,1477 528,1479 526,1465 522,1453 514,1445 506,1447 494,1443 482,1437 474,1427 471,1420 466,1429 454,1433 444,1437 439,1449 436,1465 432,1477 426,1487 418,1493 416,1501 406,1505 400,1509 396,1503 388,1507 380,1509 368,1506 356,1501 346,1497 336,1495 326,1497 322,1493 320,1485 314,1487 306,1485 296,1479 292,1475 284,1479 278,1473 278,1465 276,1453 272,1443 270,1436 280,1431 284,1428 278,1421 272,1416 264,1411 258,1401 256,1389Z" fill="none" stroke="#000" stroke-width="4.2" stroke-linejoin="round" stroke-linecap="round" />
<path d="M583,1475 582,1465 588,1455 600,1447 616,1445 630,1449 640,1455 650,1459 660,1465" fill="none" stroke="#000" stroke-width="4.2" stroke-linejoin="round" stroke-linecap="round" />
<path d="M639,1515 636,1507 630,1497 626,1487 620,1485 616,1477 610,1471 600,1467 590,1469 585,1475" fill="none" stroke="#000" stroke-width="4.2" stroke-linejoin="round" stroke-linecap="round" />
<path d="M174.4,1467C174.6,1465.6 176.1,1464.8 177,1465C177.9,1465.2 179.1,1466.9 180,1468C180.9,1469.1 182.6,1470.2 182.4,1471.4C182.2,1472.6 180.1,1474.7 179,1475C177.9,1475.3 176.4,1474.7 175.6,1473.4C174.8,1472.1 174.2,1468.4 174.4,1467Z" fill="#000" />
<path d="M538,1468C538.6,1466.9 540.6,1466.2 541.2,1467.4C541.8,1468.6 542,1473.2 541.6,1475C541.2,1476.8 539.7,1478.2 539,1478C538.3,1477.8 537.8,1475.7 537.6,1474C537.4,1472.3 537.4,1469.1 538,1468Z" fill="#000" />
<path d="M519.6,1511C519.6,1510.1 521.9,1508.5 523,1508.6C524.1,1508.7 526,1510.5 526,1511.4C526,1512.3 524.1,1514.1 523,1514C521.9,1513.9 519.6,1511.9 519.6,1511Z" fill="#000" />
<path d="M516.6,1554C517.4,1553.4 520.1,1553.5 522,1553.4C523.9,1553.3 527.2,1552.8 528,1553.4C528.8,1554 528.3,1556.2 527,1557C525.7,1557.8 521.7,1558.2 520,1558.2C518.3,1558.2 517.6,1557.7 517,1557C516.4,1556.3 515.8,1554.6 516.6,1554Z" fill="#000" />
<path d="M582.4,1497C583.2,1494.9 585.5,1494.3 587,1494C588.5,1493.7 591.1,1493.5 591.6,1495C592.1,1496.5 590.9,1500.7 590,1503C589.1,1505.3 587.3,1508 586,1508.6C584.7,1509.2 583,1508.5 582.4,1506.6C581.8,1504.7 581.6,1499.1 582.4,1497Z" fill="#000" />
<path d="M409.6,1131C409.9,1130.2 411.9,1129.5 413,1129.6C414.1,1129.7 415.8,1130.8 416,1131.6C416.2,1132.4 415.2,1133.9 414.4,1134.4C413.6,1134.9 411.8,1135 411,1134.4C410.2,1133.8 409.3,1131.8 409.6,1131Z" fill="#000" />
<path d="M414.4,1326C414.8,1324.1 417,1321 418,1321C419,1321 420.2,1324.2 420.4,1326C420.6,1327.8 419.8,1330.9 419,1332C418.2,1333.1 416.4,1333.4 415.6,1332.4C414.8,1331.4 414,1327.9 414.4,1326Z" fill="#000" />
<path d="M488,1372C488.5,1371.3 492,1370.7 493,1371C494,1371.3 494.5,1373.3 494,1374C493.5,1374.7 491,1375.7 490,1375.4C489,1375.1 487.5,1372.7 488,1372Z" fill="#000" />
</g>
<circle cx="397" cy="1389" r="274.0" fill="none" stroke="#000" stroke-width="2.1"/>
<defs><clipPath id="clip1"><circle cx="1189" cy="1389" r="274.0"/></clipPath></defs>
<g clip-path="url(#clip1)">
<circle cx="1189" cy="1389" r="274.0" fill="#00e6ff"/>
<path d="M1112,1212C1118,1214 1114.7,1220 1118,1224C1121.3,1228 1130.3,1232.3 1132,1236C1133.7,1239.7 1131.3,1242.7 1128,1246C1124.7,1249.3 1118,1252.7 1112,1256C1106,1259.3 1097,1262.7 1092,1266C1087,1269.3 1085.3,1272 1082,1276C1078.7,1280 1075.3,1285.3 1072,1290C1068.7,1294.7 1065.3,1299 1062,1304C1058.7,1309 1055,1314 1052,1320C1049,1326 1046.7,1335.2 1044,1340C1041.3,1344.8 1038.2,1344.5 1036,1349C1033.8,1353.5 1031.2,1360.7 1031,1367C1030.8,1373.3 1034.8,1381 1035,1387C1035.2,1393 1035.8,1400 1032,1403C1028.2,1406 1016.7,1401.3 1012,1405C1007.3,1408.7 1005.3,1419 1004,1425C1002.7,1431 1002.7,1435.7 1004,1441C1005.3,1446.3 1008,1452.3 1012,1457C1016,1461.7 1022.7,1465.7 1028,1469C1033.3,1472.3 1038.7,1473 1044,1477C1049.3,1481 1055.3,1489 1060,1493C1064.7,1497 1067.3,1499 1072,1501C1076.7,1503 1083.3,1502.3 1088,1505C1092.7,1507.7 1096,1514.7 1100,1517C1104,1519.3 1107.3,1519 1112,1519C1116.7,1519 1124,1515.3 1128,1517C1132,1518.7 1132,1524.3 1136,1529C1140,1533.7 1146,1541 1152,1545C1158,1549 1165.8,1550.7 1172,1553C1178.2,1555.3 1184,1557.3 1189,1559C1194,1560.7 1197.2,1561 1202,1563C1206.8,1565 1211.3,1569.3 1218,1571C1224.7,1572.7 1234,1572.3 1242,1573C1250,1573.7 1259.3,1576 1266,1575C1272.7,1574 1276.7,1570 1282,1567C1287.3,1564 1293.7,1562 1298,1557C1302.3,1552 1305,1543 1308,1537C1311,1531 1312.7,1525.7 1316,1521C1319.3,1516.3 1325,1513.7 1328,1509C1331,1504.3 1333.3,1497.7 1334,1493C1334.7,1488.3 1333.3,1485 1332,1481C1330.7,1477 1327.7,1473 1326,1469C1324.3,1465 1321.7,1460.3 1322,1457C1322.3,1453.7 1328,1452.3 1328,1449C1328,1445.7 1324,1440.3 1322,1437C1320,1433.7 1318,1432.3 1316,1429C1314,1425.7 1312.3,1421 1310,1417C1307.7,1413 1302.7,1407.7 1302,1405C1301.3,1402.3 1304,1401 1306,1401C1308,1401 1311.3,1402.3 1314,1405C1316.7,1407.7 1319,1413 1322,1417C1325,1421 1328.7,1424.3 1332,1429C1335.3,1433.7 1339,1440.3 1342,1445C1345,1449.7 1348,1453 1350,1457C1352,1461 1353.7,1465 1354,1469C1354.3,1473 1353.3,1477 1352,1481C1350.7,1485 1348.3,1488.3 1346,1493C1343.7,1497.7 1340.3,1504 1338,1509C1335.7,1514 1332.7,1519 1332,1523C1331.3,1527 1331.7,1530.3 1334,1533C1336.3,1535.7 1341.3,1538 1346,1539C1350.7,1540 1356,1540 1362,1539C1368,1538 1375.3,1534.7 1382,1533C1388.7,1531.3 1397,1530.7 1402,1529C1407,1527.3 1408.7,1525 1412,1523C1415.3,1521 1407,1514.7 1422,1517C1437,1519.3 1492,1523.7 1502,1537C1512,1550.3 1512,1568.7 1482,1597C1452,1625.3 1363,1693.7 1322,1707C1281,1720.3 1250.3,1685.7 1236,1677C1221.7,1668.3 1238.3,1659.7 1236,1655C1233.7,1650.3 1227.7,1651.2 1222,1649C1216.3,1646.8 1207.5,1643.2 1202,1642C1196.5,1640.8 1197.3,1642.8 1189,1642C1180.7,1641.2 1161.5,1640.5 1152,1637C1142.5,1633.5 1138.7,1625 1132,1621C1125.3,1617 1118.7,1616 1112,1613C1105.3,1610 1096.3,1607.3 1092,1603C1087.7,1598.7 1089.3,1590.7 1086,1587C1082.7,1583.3 1076,1582.3 1072,1581C1068,1579.7 1063.7,1577.3 1062,1579C1060.3,1580.7 1064.3,1588.3 1062,1591C1059.7,1593.7 1053,1595 1048,1595C1043,1595 1036.3,1594 1032,1591C1027.7,1588 1026.7,1580.7 1022,1577C1017.3,1573.3 1009.7,1572.7 1004,1569C998.3,1565.3 992.3,1560 988,1555C983.7,1550 979,1543.3 978,1539C977,1534.7 980,1532.3 982,1529C984,1525.7 990.3,1522.3 990,1519C989.7,1515.7 983.7,1511.7 980,1509C976.3,1506.3 972,1506 968,1503C964,1500 958.5,1496 956,1491C953.5,1486 952.7,1477.7 953,1473C953.3,1468.3 955.5,1466.3 958,1463C960.5,1459.7 966,1457.3 968,1453C970,1448.7 970,1446.3 970,1437C970,1427.7 968.7,1408.7 968,1397C967.3,1385.3 967.3,1377 966,1367C964.7,1357 961.2,1341.5 960,1337C958.8,1332.5 958.7,1342.8 959,1340C959.3,1337.2 959.8,1326.7 962,1320C964.2,1313.3 967.7,1305.3 972,1300C976.3,1294.7 981.3,1290.7 988,1288C994.7,1285.3 1005.3,1287 1012,1284C1018.7,1281 1023.3,1274.7 1028,1270C1032.7,1265.3 1036.7,1260.3 1040,1256C1043.3,1251.7 1047,1248.7 1048,1244C1049,1239.3 1044.3,1232.3 1046,1228C1047.7,1223.7 1052,1220.7 1058,1218C1064,1215.3 1073,1213 1082,1212C1091,1211 1106,1210 1112,1212Z" fill="#0050ff" />
<path d="M1382,1198C1377.3,1205.3 1390.7,1213.7 1394,1224C1397.3,1234.3 1398.7,1249 1402,1260C1405.3,1271 1410.3,1280 1414,1290C1417.7,1300 1422.7,1310 1424,1320C1425.3,1330 1423,1340 1422,1350C1421,1360 1418.3,1372.7 1418,1380C1417.7,1387.3 1418,1390.7 1420,1394C1422,1397.3 1427.7,1397 1430,1400C1432.3,1403 1433.7,1409.2 1434,1412C1434.3,1414.8 1433,1413.8 1432,1417C1431,1420.2 1431.3,1427.7 1428,1431C1424.7,1434.3 1417,1435.3 1412,1437C1407,1438.7 1401.3,1439 1398,1441C1394.7,1443 1388,1446.3 1392,1449C1396,1451.7 1410.3,1454 1422,1457C1433.7,1460 1448.7,1473.7 1462,1467C1475.3,1460.3 1495.3,1444.8 1502,1417C1508.7,1389.2 1515.3,1339.5 1502,1300C1488.7,1260.5 1442,1197 1422,1180C1402,1163 1386.7,1190.7 1382,1198Z" fill="#0050ff" />
<path d="M1420,1442C1420,1440.7 1424.2,1439.7 1426,1440C1427.8,1440.3 1431,1442.7 1431,1444C1431,1445.3 1427.8,1448.3 1426,1448C1424.2,1447.7 1420,1443.3 1420,1442Z" fill="#0000b4" />
<path d="M1382,1475C1383,1473 1394,1474.7 1398,1477C1402,1479.3 1403.3,1485 1406,1489C1408.7,1493 1411.3,1497.7 1414,1501C1416.7,1504.3 1419.3,1506.3 1422,1509C1424.7,1511.7 1423.3,1514 1430,1517C1436.7,1520 1463.3,1517 1462,1527C1460.7,1537 1432,1567 1422,1577C1412,1587 1408.7,1585.3 1402,1587C1395.3,1588.7 1386,1588.7 1382,1587C1378,1585.3 1376.3,1582 1378,1577C1379.7,1572 1387.7,1563.7 1392,1557C1396.3,1550.3 1401.7,1543.7 1404,1537C1406.3,1530.3 1406.3,1523 1406,1517C1405.7,1511 1404.3,1505.7 1402,1501C1399.7,1496.3 1395.3,1493.3 1392,1489C1388.7,1484.7 1381,1477 1382,1475Z" fill="#0000b4" />
<path d="M852,1430C868.7,1412.2 917.7,1445.5 932,1430C946.3,1414.5 936.8,1345.8 938,1337C939.2,1328.2 938.7,1363.7 939,1377C939.3,1390.3 939.2,1403.7 940,1417C940.8,1430.3 942,1443.7 944,1457C946,1470.3 948,1485.3 952,1497C956,1508.7 961.3,1516 968,1527C974.7,1538 981.3,1551 992,1563C1002.7,1575 1018.7,1588.7 1032,1599C1045.3,1609.3 1060.3,1618.3 1072,1625C1083.7,1631.7 1092,1633.7 1102,1639C1112,1644.3 1127,1647.3 1132,1657C1137,1666.7 1182,1717 1132,1697C1082,1677 878.7,1581.5 832,1537C785.3,1492.5 835.3,1447.8 852,1430Z" fill="#00f582" />
<path d="M852,1430C867.3,1412.2 911.3,1445.5 924,1430C936.7,1414.5 927.2,1345.8 928,1337C928.8,1328.2 928.5,1363.7 929,1377C929.5,1390.3 929.8,1403.7 931,1417C932.2,1430.3 933.5,1443.7 936,1457C938.5,1470.3 941.7,1485 946,1497C950.3,1509 955,1517.3 962,1529C969,1540.7 977,1554.7 988,1567C999,1579.3 1014.7,1592.7 1028,1603C1041.3,1613.3 1057.3,1622.7 1068,1629C1078.7,1635.3 1088,1629.7 1092,1641C1096,1652.3 1135.3,1714.3 1092,1697C1048.7,1679.7 872,1581.5 832,1537C792,1492.5 836.7,1447.8 852,1430Z" fill="#00f03c" />
<path d="M852,1430C859.8,1432.2 907.7,1445.5 919,1430C930.3,1414.5 919.5,1345.8 920,1337C920.5,1328.2 921.2,1363.7 922,1377C922.8,1390.3 933.3,1410.3 925,1417C916.7,1423.7 884.2,1414.8 872,1417C859.8,1419.2 844.2,1427.8 852,1430Z" fill="#14f000" />
<path d="M872,1430C882,1451.7 922,1435 932,1430C942,1425 930.7,1408.3 932,1400C933.3,1391.7 939,1386.7 940,1380C941,1373.3 936.7,1368.3 938,1360C939.3,1351.7 944.7,1338.3 948,1330C951.3,1321.7 953.3,1316.7 958,1310C962.7,1303.3 970.3,1295 976,1290C981.7,1285 986,1282.3 992,1280C998,1277.7 1006.7,1279.3 1012,1276C1017.3,1272.7 1020,1265 1024,1260C1028,1255 1033.3,1251 1036,1246C1038.7,1241 1037.3,1235 1040,1230C1042.7,1225 1046.7,1219.7 1052,1216C1057.3,1212.3 1065.3,1210 1072,1208C1078.7,1206 1085.3,1205 1092,1204C1098.7,1203 1105.3,1201.7 1112,1202C1118.7,1202.3 1126,1203.7 1132,1206C1138,1208.3 1144.7,1212.3 1148,1216C1151.3,1219.7 1153,1223.3 1152,1228C1151,1232.7 1145.3,1239.3 1142,1244C1138.7,1248.7 1135.3,1251.7 1132,1256C1128.7,1260.3 1120.3,1267.3 1122,1270C1123.7,1272.7 1133.7,1270.3 1142,1272C1150.3,1273.7 1163.7,1275.3 1172,1280C1180.3,1284.7 1183.7,1295.3 1192,1300C1200.3,1304.7 1212,1306 1222,1308C1232,1310 1243.3,1309.3 1252,1312C1260.7,1314.7 1267.7,1320 1274,1324C1280.3,1328 1285.3,1330.7 1290,1336C1294.7,1341.3 1299.3,1348.7 1302,1356C1304.7,1363.3 1304,1372.7 1306,1380C1308,1387.3 1310,1392.7 1314,1400C1318,1407.3 1325.3,1419 1330,1424C1334.7,1429 1330.7,1429 1342,1430C1353.3,1431 1388,1435 1398,1430C1408,1425 1401,1410 1402,1400C1403,1390 1404,1380 1404,1370C1404,1360 1404.3,1348.3 1402,1340C1399.7,1331.7 1392.7,1326.7 1390,1320C1387.3,1313.3 1387.7,1306.7 1386,1300C1384.3,1293.3 1383,1288.3 1380,1280C1377,1271.7 1372.3,1260 1368,1250C1363.7,1240 1358.3,1229 1354,1220C1349.7,1211 1343,1203.3 1342,1196C1341,1188.7 1349.7,1182 1348,1176C1346.3,1170 1333,1169.3 1332,1160C1331,1150.7 1357,1133.3 1342,1120C1327,1106.7 1267.3,1086.7 1242,1080C1216.7,1073.3 1199.3,1066.7 1190,1080C1180.7,1093.3 1187,1150 1186,1160C1185,1170 1185.7,1145 1184,1140C1182.3,1135 1180.7,1130 1176,1130C1171.3,1130 1161.7,1136.3 1156,1140C1150.3,1143.7 1146,1150.7 1142,1152C1138,1153.3 1138.7,1148.3 1132,1148C1125.3,1147.7 1112,1148.3 1102,1150C1092,1151.7 1080.3,1155.3 1072,1158C1063.7,1160.7 1058.7,1162.3 1052,1166C1045.3,1169.7 1038.7,1176 1032,1180C1025.3,1184 1016,1186 1012,1190C1008,1194 1011.3,1198.3 1008,1204C1004.7,1209.7 998,1218 992,1224C986,1230 978.7,1235.3 972,1240C965.3,1244.7 958.7,1245.3 952,1252C945.3,1258.7 945.3,1272 932,1280C918.7,1288 882,1275 872,1300C862,1325 862,1408.3 872,1430Z" fill="#00f582" />
<path d="M1162,1116C1165.3,1114.3 1175.3,1118.7 1182,1120C1188.7,1121.3 1193.7,1123 1202,1124C1210.3,1125 1223.7,1124 1232,1126C1240.3,1128 1247,1131.7 1252,1136C1257,1140.3 1261,1146.7 1262,1152C1263,1157.3 1261.3,1163.7 1258,1168C1254.7,1172.3 1248,1176 1242,1178C1236,1180 1228.7,1182 1222,1180C1215.3,1178 1208.7,1170 1202,1166C1195.3,1162 1186.7,1160.3 1182,1156C1177.3,1151.7 1177.3,1144.3 1174,1140C1170.7,1135.7 1164,1134 1162,1130C1160,1126 1158.7,1117.7 1162,1116Z" fill="#00e6ff" />
<path d="M1202,1132C1203.8,1129.7 1209.7,1129.7 1214,1130C1218.3,1130.3 1224.2,1132.2 1228,1134C1231.8,1135.8 1236,1138.7 1237,1141C1238,1143.3 1236.5,1146.5 1234,1148C1231.5,1149.5 1226,1149.5 1222,1150C1218,1150.5 1213.2,1152 1210,1151C1206.8,1150 1204.3,1147.2 1203,1144C1201.7,1140.8 1200.2,1134.3 1202,1132Z" fill="#0050ff" />
<path d="M1047,1389 1046,1370 1047,1356 1052,1344 1056,1340 1054,1330 1062,1324 1068,1316 1070,1306 1078,1300 1082,1292 1092,1284 1104,1277 1116,1276 1128,1272 1140,1271 1152,1274 1160,1273 1168,1276 1171,1282 1166,1292 1163,1302 1166,1310 1172,1314 1166,1320 1168,1336 1178,1346 1188,1350 1196,1360 1204,1365 1206,1356 1212,1340 1220,1338 1222,1320 1218,1315 1230,1316 1232,1320 1242,1317 1252,1320 1258,1326 1258,1336 1274,1332 1276,1340 1272,1348 1278,1358 1282,1366 1292,1368 1300,1374 1296,1380 1294,1389 1294,1389 1292,1397 1290,1407 1286,1417 1288,1427 1298,1431 1292,1421 1302,1419 1310,1423 1306,1431 1312,1437 1318,1441 1320,1449 1326,1457 1328,1465 1324,1477 1320,1479 1318,1465 1314,1453 1306,1445 1298,1447 1286,1443 1274,1437 1266,1427 1263,1420 1258,1429 1246,1433 1236,1437 1231,1449 1228,1465 1224,1477 1218,1487 1210,1493 1208,1501 1198,1505 1192,1509 1188,1503 1180,1507 1172,1509 1160,1506 1148,1501 1138,1497 1128,1495 1118,1497 1114,1493 1112,1485 1106,1487 1098,1485 1088,1479 1084,1475 1076,1479 1070,1473 1070,1465 1068,1453 1064,1443 1062,1436 1072,1431 1076,1428 1070,1421 1064,1416 1056,1411 1050,1401 1048,1389Z" fill="none" stroke="#00e6ff" stroke-width="30" stroke-linejoin="round"/>
<path d="M1047,1389 1046,1370 1047,1356 1052,1344 1056,1340 1054,1330 1062,1324 1068,1316 1070,1306 1078,1300 1082,1292 1092,1284 1104,1277 1116,1276 1128,1272 1140,1271 1152,1274 1160,1273 1168,1276 1171,1282 1166,1292 1163,1302 1166,1310 1172,1314 1166,1320 1168,1336 1178,1346 1188,1350 1196,1360 1204,1365 1206,1356 1212,1340 1220,1338 1222,1320 1218,1315 1230,1316 1232,1320 1242,1317 1252,1320 1258,1326 1258,1336 1274,1332 1276,1340 1272,1348 1278,1358 1282,1366 1292,1368 1300,1374 1296,1380 1294,1389 1294,1389 1292,1397 1290,1407 1286,1417 1288,1427 1298,1431 1292,1421 1302,1419 1310,1423 1306,1431 1312,1437 1318,1441 1320,1449 1326,1457 1328,1465 1324,1477 1320,1479 1318,1465 1314,1453 1306,1445 1298,1447 1286,1443 1274,1437 1266,1427 1263,1420 1258,1429 1246,1433 1236,1437 1231,1449 1228,1465 1224,1477 1218,1487 1210,1493 1208,1501 1198,1505 1192,1509 1188,1503 1180,1507 1172,1509 1160,1506 1148,1501 1138,1497 1128,1495 1118,1497 1114,1493 1112,1485 1106,1487 1098,1485 1088,1479 1084,1475 1076,1479 1070,1473 1070,1465 1068,1453 1064,1443 1062,1436 1072,1431 1076,1428 1070,1421 1064,1416 1056,1411 1050,1401 1048,1389Z" fill="none" stroke="#00f582" stroke-width="16" stroke-linejoin="round"/>
<path d="M1047,1389 1046,1370 1047,1356 1052,1344 1056,1340 1054,1330 1062,1324 1068,1316 1070,1306 1078,1300 1082,1292 1092,1284 1104,1277 1116,1276 1128,1272 1140,1271 1152,1274 1160,1273 1168,1276 1171,1282 1166,1292 1163,1302 1166,1310 1172,1314 1166,1320 1168,1336 1178,1346 1188,1350 1196,1360 1204,1365 1206,1356 1212,1340 1220,1338 1222,1320 1218,1315 1230,1316 1232,1320 1242,1317 1252,1320 1258,1326 1258,1336 1274,1332 1276,1340 1272,1348 1278,1358 1282,1366 1292,1368 1300,1374 1296,1380 1294,1389 1294,1389 1292,1397 1290,1407 1286,1417 1288,1427 1298,1431 1292,1421 1302,1419 1310,1423 1306,1431 1312,1437 1318,1441 1320,1449 1326,1457 1328,1465 1324,1477 1320,1479 1318,1465 1314,1453 1306,1445 1298,1447 1286,1443 1274,1437 1266,1427 1263,1420 1258,1429 1246,1433 1236,1437 1231,1449 1228,1465 1224,1477 1218,1487 1210,1493 1208,1501 1198,1505 1192,1509 1188,1503 1180,1507 1172,1509 1160,1506 1148,1501 1138,1497 1128,1495 1118,1497 1114,1493 1112,1485 1106,1487 1098,1485 1088,1479 1084,1475 1076,1479 1070,1473 1070,1465 1068,1453 1064,1443 1062,1436 1072,1431 1076,1428 1070,1421 1064,1416 1056,1411 1050,1401 1048,1389Z" fill="none" stroke="#00f03c" stroke-width="8" stroke-linejoin="round"/>
<path d="M918,1360C919.7,1345 926.3,1315 932,1300C937.7,1285 943.7,1278 952,1270C960.3,1262 973.3,1259 982,1252C990.7,1245 997.7,1235.3 1004,1228C1010.3,1220.7 1013.3,1214.7 1020,1208C1026.7,1201.3 1035.3,1194 1044,1188C1052.7,1182 1062.3,1176.7 1072,1172C1081.7,1167.3 1092,1162.7 1102,1160C1112,1157.3 1122,1157 1132,1156C1142,1155 1153.7,1153.3 1162,1154C1170.3,1154.7 1178,1154 1182,1160C1186,1166 1186.3,1182.7 1186,1190C1185.7,1197.3 1185.7,1201 1180,1204C1174.3,1207 1161.7,1208.7 1152,1208C1142.3,1207.3 1132,1201.3 1122,1200C1112,1198.7 1100.3,1199.3 1092,1200C1083.7,1200.7 1078.7,1202 1072,1204C1065.3,1206 1057.7,1208 1052,1212C1046.3,1216 1041.3,1222.7 1038,1228C1034.7,1233.3 1035,1238.7 1032,1244C1029,1249.3 1024.7,1255.3 1020,1260C1015.3,1264.7 1010,1268.7 1004,1272C998,1275.3 990.7,1276.7 984,1280C977.3,1283.3 970,1286 964,1292C958,1298 952.7,1306.3 948,1316C943.3,1325.7 939,1339.3 936,1350C933,1360.7 932.3,1373.3 930,1380C927.7,1386.7 924,1393.3 922,1390C920,1386.7 916.3,1375 918,1360Z" fill="#00f03c" />
<path d="M1068,1192C1069,1189 1076.3,1184 1082,1180C1087.7,1176 1093.7,1171 1102,1168C1110.3,1165 1122,1163.3 1132,1162C1142,1160.7 1154,1159 1162,1160C1170,1161 1176.7,1163.3 1180,1168C1183.3,1172.7 1183.3,1182.7 1182,1188C1180.7,1193.3 1177.7,1198 1172,1200C1166.3,1202 1156.3,1201 1148,1200C1139.7,1199 1131.3,1195 1122,1194C1112.7,1193 1099.7,1193.3 1092,1194C1084.3,1194.7 1080,1198.3 1076,1198C1072,1197.7 1067,1195 1068,1192Z" fill="#14f000" />
<path d="M1108,1176C1108.7,1173.5 1116.3,1170.5 1122,1169C1127.7,1167.5 1136.7,1166.2 1142,1167C1147.3,1167.8 1152.7,1171.2 1154,1174C1155.3,1176.8 1153,1181.8 1150,1184C1147,1186.2 1141.3,1187 1136,1187C1130.7,1187 1122.7,1185.8 1118,1184C1113.3,1182.2 1107.3,1178.5 1108,1176Z" fill="#50f500" />
<path d="M932,1300C935,1291.7 940,1284.7 944,1280C948,1275.3 954.7,1270 956,1272C957.3,1274 954.7,1284.7 952,1292C949.3,1299.3 943.3,1308 940,1316C936.7,1324 934.3,1337.7 932,1340C929.7,1342.3 926,1336.7 926,1330C926,1323.3 929,1308.3 932,1300Z" fill="#14f000" />
<path d="M1152,1184C1160.3,1179.3 1170.3,1183.7 1182,1184C1193.7,1184.3 1210.3,1187.3 1222,1186C1233.7,1184.7 1244.7,1180.3 1252,1176C1259.3,1171.7 1263.7,1166 1266,1160C1268.3,1154 1268.3,1145.7 1266,1140C1263.7,1134.3 1249.3,1127.3 1252,1126C1254.7,1124.7 1272,1128.3 1282,1132C1292,1135.7 1303,1142 1312,1148C1321,1154 1332.3,1160 1336,1168C1339.7,1176 1332.3,1186.7 1334,1196C1335.7,1205.3 1341.7,1214.3 1346,1224C1350.3,1233.7 1355.7,1244.3 1360,1254C1364.3,1263.7 1369,1274 1372,1282C1375,1290 1376.3,1295.3 1378,1302C1379.7,1308.7 1379.3,1315.3 1382,1322C1384.7,1328.7 1391.7,1334 1394,1342C1396.3,1350 1396,1360.3 1396,1370C1396,1379.7 1395,1390 1394,1400C1393,1410 1398.7,1425 1390,1430C1381.3,1435 1353.3,1435 1342,1430C1330.7,1425 1327.3,1410 1322,1400C1316.7,1390 1313.3,1380 1310,1370C1306.7,1360 1306,1347.7 1302,1340C1298,1332.3 1292.7,1329.3 1286,1324C1279.3,1318.7 1271,1312 1262,1308C1253,1304 1242,1301.3 1232,1300C1222,1298.7 1213.7,1300 1202,1300C1190.3,1300 1173.7,1301.7 1162,1300C1150.3,1298.3 1138.7,1300 1132,1290C1125.3,1280 1122,1253 1122,1240C1122,1227 1127,1221.3 1132,1212C1137,1202.7 1143.7,1188.7 1152,1184Z" fill="#00f03c" />
<path d="M1156,1218C1164.3,1213.3 1171,1215 1182,1212C1193,1209 1210.3,1204.3 1222,1200C1233.7,1195.7 1243.3,1192.7 1252,1186C1260.7,1179.3 1269,1167.7 1274,1160C1279,1152.3 1277.3,1142.3 1282,1140C1286.7,1137.7 1294.7,1141.3 1302,1146C1309.3,1150.7 1322.3,1159.7 1326,1168C1329.7,1176.3 1322.3,1186.7 1324,1196C1325.7,1205.3 1331.7,1214.3 1336,1224C1340.3,1233.7 1345.7,1244.3 1350,1254C1354.3,1263.7 1358.7,1273.7 1362,1282C1365.3,1290.3 1368,1297 1370,1304C1372,1311 1371.3,1317.3 1374,1324C1376.7,1330.7 1383.7,1336.3 1386,1344C1388.3,1351.7 1388,1360.7 1388,1370C1388,1379.3 1387,1390 1386,1400C1385,1410 1389.3,1425 1382,1430C1374.7,1435 1352,1435 1342,1430C1332,1425 1327.3,1410 1322,1400C1316.7,1390 1313.3,1380 1310,1370C1306.7,1360 1306,1348.3 1302,1340C1298,1331.7 1292.7,1326.7 1286,1320C1279.3,1313.3 1271,1305 1262,1300C1253,1295 1242,1293.3 1232,1290C1222,1286.7 1213.7,1282.3 1202,1280C1190.3,1277.7 1172,1278.7 1162,1276C1152,1273.3 1147,1270 1142,1264C1137,1258 1129.7,1247.7 1132,1240C1134.3,1232.3 1147.7,1222.7 1156,1218Z" fill="#14f000" />
<path d="M1252,1204C1252,1200.3 1254.3,1193 1258,1190C1261.7,1187 1269.3,1185.3 1274,1186C1278.7,1186.7 1283.3,1190.3 1286,1194C1288.7,1197.7 1292,1204.7 1290,1208C1288,1211.3 1279.3,1213.3 1274,1214C1268.7,1214.7 1261.7,1213.7 1258,1212C1254.3,1210.3 1252,1207.7 1252,1204Z" fill="#50f500" />
<path d="M1252,1252C1261.7,1242.2 1285.3,1244.7 1302,1248C1318.7,1251.3 1341.7,1263.3 1352,1272C1362.3,1280.7 1360.3,1292 1364,1300C1367.7,1308 1370.3,1313.3 1374,1320C1377.7,1326.7 1382.7,1332.7 1386,1340C1389.3,1347.3 1392,1355.8 1394,1364C1396,1372.2 1396.7,1382.5 1398,1389C1399.3,1395.5 1402.3,1398.3 1402,1403C1401.7,1407.7 1400,1409.7 1396,1417C1392,1424.3 1382.3,1438.7 1378,1447C1373.7,1455.3 1373.2,1461.2 1370,1467C1366.8,1472.8 1363.1,1479.7 1359,1482C1354.9,1484.3 1348.1,1482.8 1345.6,1481C1343.1,1479.2 1344.6,1475 1344,1471C1343.4,1467 1343.3,1461.7 1342,1457C1340.7,1452.3 1338.3,1447.7 1336,1443C1333.7,1438.3 1331,1433.3 1328,1429C1325,1424.7 1321,1421 1318,1417C1315,1413 1312,1407.8 1310,1405C1308,1402.2 1306.7,1403.5 1306,1400C1305.3,1396.5 1305.3,1390 1306,1384C1306.7,1378 1309.7,1370.7 1310,1364C1310.3,1357.3 1310,1350 1308,1344C1306,1338 1302.3,1332.7 1298,1328C1293.7,1323.3 1288,1319 1282,1316C1276,1313 1268.3,1311.5 1262,1310C1255.7,1308.5 1245.7,1316.7 1244,1307C1242.3,1297.3 1242.3,1261.8 1252,1252Z" fill="#14f000" />
<path d="M1252,1260C1261.3,1251.7 1285.7,1252.7 1302,1256C1318.3,1259.3 1340,1272.7 1350,1280C1360,1287.3 1358.3,1293.3 1362,1300C1365.7,1306.7 1368.3,1313.3 1372,1320C1375.7,1326.7 1380.7,1332.7 1384,1340C1387.3,1347.3 1390,1355.8 1392,1364C1394,1372.2 1395.7,1382.5 1396,1389C1396.3,1395.5 1395.3,1398.3 1394,1403C1392.7,1407.7 1391.3,1409.7 1388,1417C1384.7,1424.3 1377.7,1438.7 1374,1447C1370.3,1455.3 1368.8,1461.5 1366,1467C1363.2,1472.5 1360.1,1477.8 1357,1480C1353.9,1482.2 1349.4,1481.7 1347.6,1480C1345.8,1478.3 1346.6,1474 1346,1470C1345.4,1466 1345.3,1460.7 1344,1456C1342.7,1451.3 1340.3,1446.7 1338,1442C1335.7,1437.3 1333,1432.3 1330,1428C1327,1423.7 1323,1420 1320,1416C1317,1412 1314,1406.8 1312,1404C1310,1401.2 1308.7,1402.5 1308,1399C1307.3,1395.5 1307.3,1389 1308,1383C1308.7,1377 1311.7,1369.7 1312,1363C1312.3,1356.3 1312,1349 1310,1343C1308,1337 1304.3,1331.7 1300,1327C1295.7,1322.3 1290,1318 1284,1315C1278,1312 1270.3,1310.5 1264,1309C1257.7,1307.5 1248,1314.2 1246,1306C1244,1297.8 1242.7,1268.3 1252,1260Z" fill="#50f500" />
<path d="M1252,1263C1263.1,1257.1 1298.3,1265.5 1314,1270C1329.7,1274.5 1339.3,1285 1346,1290C1352.7,1295 1350.7,1295 1354,1300C1357.3,1305 1361.7,1313.3 1366,1320C1370.3,1326.7 1376.3,1332.7 1380,1340C1383.7,1347.3 1386,1355.8 1388,1364C1390,1372.2 1391.7,1382.5 1392,1389C1392.3,1395.5 1391.3,1398.3 1390,1403C1388.7,1407.7 1387,1409.7 1384,1417C1381,1424.3 1375.3,1438.7 1372,1447C1368.7,1455.3 1366.6,1461.6 1364,1467C1361.4,1472.4 1358.9,1477.3 1356.4,1479.4C1353.9,1481.5 1350.3,1481.1 1348.8,1479.4C1347.3,1477.7 1347.8,1473.4 1347.2,1469.4C1346.6,1465.4 1346.5,1460.1 1345.2,1455.4C1343.9,1450.7 1341.5,1446.1 1339.2,1441.4C1336.9,1436.7 1334.2,1431.7 1331.2,1427.4C1328.2,1423.1 1324.2,1419.4 1321.2,1415.4C1318.2,1411.4 1315.2,1406.2 1313.2,1403.4C1311.2,1400.6 1309.9,1401.9 1309.2,1398.4C1308.5,1394.9 1308.5,1388.4 1309.2,1382.4C1309.9,1376.4 1312.9,1369.1 1313.2,1362.4C1313.5,1355.7 1313.2,1348.4 1311.2,1342.4C1309.2,1336.4 1305.5,1331.1 1301.2,1326.4C1296.9,1321.7 1291.2,1317.4 1285.2,1314.4C1279.2,1311.4 1271.5,1309.9 1265.2,1308.4C1258.9,1306.9 1249.4,1313 1247.2,1305.4C1245,1297.8 1240.9,1268.9 1252,1263Z" fill="#a0fa00" />
<path d="M1252,1266C1264.3,1261.9 1307,1274.3 1322,1280C1337,1285.7 1335.7,1293.3 1342,1300C1348.3,1306.7 1354.3,1313.3 1360,1320C1365.7,1326.7 1372,1332.7 1376,1340C1380,1347.3 1382,1355.8 1384,1364C1386,1372.2 1387.7,1382.5 1388,1389C1388.3,1395.5 1387.3,1398.3 1386,1403C1384.7,1407.7 1382.7,1409.7 1380,1417C1377.3,1424.3 1373,1438.7 1370,1447C1367,1455.3 1364.3,1461.7 1362,1467C1359.7,1472.3 1358,1477 1356,1479C1354,1481 1351.3,1480.5 1350,1478.8C1348.7,1477.1 1349,1472.8 1348.4,1468.8C1347.8,1464.8 1347.7,1459.5 1346.4,1454.8C1345.1,1450.1 1342.7,1445.5 1340.4,1440.8C1338.1,1436.1 1335.4,1431.1 1332.4,1426.8C1329.4,1422.5 1325.4,1418.8 1322.4,1414.8C1319.4,1410.8 1316.4,1405.6 1314.4,1402.8C1312.4,1400 1311.1,1401.3 1310.4,1397.8C1309.7,1394.3 1309.7,1387.8 1310.4,1381.8C1311.1,1375.8 1314.1,1368.5 1314.4,1361.8C1314.7,1355.1 1314.4,1347.8 1312.4,1341.8C1310.4,1335.8 1306.7,1330.5 1302.4,1325.8C1298.1,1321.1 1292.4,1316.8 1286.4,1313.8C1280.4,1310.8 1272.7,1309.3 1266.4,1307.8C1260.1,1306.3 1250.8,1311.8 1248.4,1304.8C1246,1297.8 1239.7,1270.1 1252,1266Z" fill="#dcff00" />
<path d="M1250,1270C1258.1,1266 1285,1275 1298,1280C1311,1285 1319.7,1293.3 1328,1300C1336.3,1306.7 1341.3,1313.3 1348,1320C1354.7,1326.7 1363.3,1332.7 1368,1340C1372.7,1347.3 1374,1355.8 1376,1364C1378,1372.2 1379.7,1382.5 1380,1389C1380.3,1395.5 1379.3,1398.3 1378,1403C1376.7,1407.7 1374.3,1409.7 1372,1417C1369.7,1424.3 1366.2,1438.7 1364,1447C1361.8,1455.3 1360.5,1461.8 1359,1467C1357.5,1472.2 1356.3,1476.1 1355,1478C1353.7,1479.9 1352.1,1479.8 1351.2,1478.2C1350.3,1476.6 1350.2,1472.2 1349.6,1468.2C1349,1464.2 1348.9,1458.9 1347.6,1454.2C1346.3,1449.5 1343.9,1444.9 1341.6,1440.2C1339.3,1435.5 1336.6,1430.5 1333.6,1426.2C1330.6,1421.9 1326.6,1418.2 1323.6,1414.2C1320.6,1410.2 1317.6,1405 1315.6,1402.2C1313.6,1399.4 1312.3,1400.7 1311.6,1397.2C1310.9,1393.7 1310.9,1387.2 1311.6,1381.2C1312.3,1375.2 1315.3,1367.9 1315.6,1361.2C1315.9,1354.5 1315.6,1347.2 1313.6,1341.2C1311.6,1335.2 1307.9,1329.9 1303.6,1325.2C1299.3,1320.5 1293.6,1316.2 1287.6,1313.2C1281.6,1310.2 1273.9,1308.7 1267.6,1307.2C1261.3,1305.7 1252.5,1310.4 1249.6,1304.2C1246.7,1298 1241.9,1274 1250,1270Z" fill="#fff000" />
<path d="M1249,1272C1255,1268 1274,1275.3 1286,1280C1298,1284.7 1311.7,1293.3 1321,1300C1330.3,1306.7 1335,1313.3 1342,1320C1349,1326.7 1358,1332.7 1363,1340C1368,1347.3 1369.8,1355.8 1372,1364C1374.2,1372.2 1375.7,1382.5 1376,1389C1376.3,1395.5 1375.3,1398.3 1374,1403C1372.7,1407.7 1370.1,1409.7 1368,1417C1365.9,1424.3 1363.4,1438.7 1361.6,1447C1359.8,1455.3 1358.2,1461.9 1357,1467C1355.8,1472.1 1355.3,1475.6 1354.4,1477.4C1353.5,1479.2 1352.5,1479.5 1351.8,1477.9C1351.1,1476.3 1350.8,1471.9 1350.2,1467.9C1349.6,1463.9 1349.5,1458.6 1348.2,1453.9C1346.9,1449.2 1344.5,1444.6 1342.2,1439.9C1339.9,1435.2 1337.2,1430.2 1334.2,1425.9C1331.2,1421.6 1327.2,1417.9 1324.2,1413.9C1321.2,1409.9 1318.2,1404.7 1316.2,1401.9C1314.2,1399.1 1312.9,1400.4 1312.2,1396.9C1311.5,1393.4 1311.5,1386.9 1312.2,1380.9C1312.9,1374.9 1315.9,1367.6 1316.2,1360.9C1316.5,1354.2 1316.2,1346.9 1314.2,1340.9C1312.2,1334.9 1308.5,1329.6 1304.2,1324.9C1299.9,1320.2 1294.2,1315.9 1288.2,1312.9C1282.2,1309.9 1274.5,1308.4 1268.2,1306.9C1261.9,1305.4 1253.4,1309.7 1250.2,1303.9C1247,1298.1 1243,1276 1249,1272Z" fill="#ffbe00" />
<path d="M1248,1274C1251.9,1270.1 1263,1275.7 1274,1280C1285,1284.3 1303.7,1293.3 1314,1300C1324.3,1306.7 1328.7,1313.3 1336,1320C1343.3,1326.7 1352.7,1332.7 1358,1340C1363.3,1347.3 1365.7,1355.8 1368,1364C1370.3,1372.2 1371.7,1382.5 1372,1389C1372.3,1395.5 1371.3,1398.3 1370,1403C1368.7,1407.7 1365.8,1409.7 1364,1417C1362.2,1424.3 1360.5,1438.7 1359,1447C1357.5,1455.3 1355.8,1462 1355,1467C1354.2,1472 1354.4,1475.2 1354,1477C1353.6,1478.8 1352.9,1479.2 1352.4,1477.6C1351.9,1476 1351.4,1471.6 1350.8,1467.6C1350.2,1463.6 1350.1,1458.3 1348.8,1453.6C1347.5,1448.9 1345.1,1444.3 1342.8,1439.6C1340.5,1434.9 1337.8,1429.9 1334.8,1425.6C1331.8,1421.3 1327.8,1417.6 1324.8,1413.6C1321.8,1409.6 1318.8,1404.4 1316.8,1401.6C1314.8,1398.8 1313.5,1400.1 1312.8,1396.6C1312.1,1393.1 1312.1,1386.6 1312.8,1380.6C1313.5,1374.6 1316.5,1367.3 1316.8,1360.6C1317.1,1353.9 1316.8,1346.6 1314.8,1340.6C1312.8,1334.6 1309.1,1329.3 1304.8,1324.6C1300.5,1319.9 1294.8,1315.6 1288.8,1312.6C1282.8,1309.6 1275.1,1308.1 1268.8,1306.6C1262.5,1305.1 1254.3,1309 1250.8,1303.6C1247.3,1298.2 1244.1,1277.9 1248,1274Z" fill="#ff8c00" />
<path d="M1246,1276C1248.8,1272.5 1258.7,1278 1268,1282C1277.3,1286 1292.3,1293.7 1302,1300C1311.7,1306.3 1318.3,1313.3 1326,1320C1333.7,1326.7 1342.3,1332.7 1348,1340C1353.7,1347.3 1357,1355.8 1360,1364C1363,1372.2 1365.3,1382.5 1366,1389C1366.7,1395.5 1364.8,1398.3 1364,1403C1363.2,1407.7 1362.2,1409.7 1361,1417C1359.8,1424.3 1358.2,1438.7 1357,1447C1355.8,1455.3 1354.6,1462 1354,1467C1353.4,1472 1353.8,1475.3 1353.6,1477C1353.4,1478.7 1353.4,1478.9 1353,1477.3C1352.6,1475.7 1352,1471.3 1351.4,1467.3C1350.8,1463.3 1350.7,1458 1349.4,1453.3C1348.1,1448.6 1345.7,1444 1343.4,1439.3C1341.1,1434.6 1338.4,1429.6 1335.4,1425.3C1332.4,1421 1328.4,1417.3 1325.4,1413.3C1322.4,1409.3 1319.4,1404.1 1317.4,1401.3C1315.4,1398.5 1314.1,1399.8 1313.4,1396.3C1312.7,1392.8 1312.7,1386.3 1313.4,1380.3C1314.1,1374.3 1317.1,1367 1317.4,1360.3C1317.7,1353.6 1317.4,1346.3 1315.4,1340.3C1313.4,1334.3 1309.7,1329 1305.4,1324.3C1301.1,1319.6 1295.4,1315.3 1289.4,1312.3C1283.4,1309.3 1275.7,1307.8 1269.4,1306.3C1263.1,1304.8 1255.3,1308.3 1251.4,1303.3C1247.5,1298.2 1243.2,1279.5 1246,1276Z" fill="#ff5a00" />
<path d="M1242,1280C1243.7,1277.2 1254.7,1282.7 1262,1286C1269.3,1289.3 1277.3,1294.3 1286,1300C1294.7,1305.7 1305.3,1313.3 1314,1320C1322.7,1326.7 1331.7,1332.7 1338,1340C1344.3,1347.3 1348.3,1355.8 1352,1364C1355.7,1372.2 1358.8,1382.5 1360,1389C1361.2,1395.5 1359.3,1398.3 1359,1403C1358.7,1407.7 1358.7,1411.3 1358,1417C1357.3,1422.7 1355.7,1431.7 1355,1437C1354.3,1442.3 1354.3,1444 1354,1449C1353.7,1454 1353.1,1462.3 1353,1467C1352.9,1471.7 1353.5,1475.3 1353.6,1477C1353.7,1478.7 1353.9,1478.7 1353.6,1477C1353.3,1475.3 1352.6,1471 1352,1467C1351.4,1463 1351.3,1457.7 1350,1453C1348.7,1448.3 1346.3,1443.7 1344,1439C1341.7,1434.3 1339,1429.3 1336,1425C1333,1420.7 1329,1417 1326,1413C1323,1409 1320,1403.8 1318,1401C1316,1398.2 1314.7,1399.5 1314,1396C1313.3,1392.5 1313.3,1386 1314,1380C1314.7,1374 1317.7,1366.7 1318,1360C1318.3,1353.3 1318,1346 1316,1340C1314,1334 1310.3,1328.7 1306,1324C1301.7,1319.3 1296,1315 1290,1312C1284,1309 1276.3,1307.5 1270,1306C1263.7,1304.5 1256.7,1307.3 1252,1303C1247.3,1298.7 1240.3,1282.8 1242,1280Z" fill="#ff2800" />
<path d="M1158,1252C1157.7,1249 1161,1245 1164,1244C1167,1243 1172,1244.3 1176,1246C1180,1247.7 1183.7,1253 1188,1254C1192.3,1255 1196.3,1251.7 1202,1252C1207.7,1252.3 1217,1253 1222,1256C1227,1259 1228.7,1265.7 1232,1270C1235.3,1274.3 1238.3,1278.3 1242,1282C1245.7,1285.7 1250,1289 1254,1292C1258,1295 1266.3,1298.2 1266,1300C1265.7,1301.8 1257.7,1302.3 1252,1303C1246.3,1303.7 1238.7,1304.8 1232,1304C1225.3,1303.2 1217.7,1299.7 1212,1298C1206.3,1296.3 1201.3,1296.3 1198,1294C1194.7,1291.7 1195.3,1286.3 1192,1284C1188.7,1281.7 1181.3,1282 1178,1280C1174.7,1278 1174,1275 1172,1272C1170,1269 1168.3,1265.3 1166,1262C1163.7,1258.7 1158.3,1255 1158,1252Z" fill="#ffdcdc" stroke="#fff000" stroke-width="16" stroke-linejoin="round" />
<path d="M1158,1252C1157.7,1249 1161,1245 1164,1244C1167,1243 1172,1244.3 1176,1246C1180,1247.7 1183.7,1253 1188,1254C1192.3,1255 1196.3,1251.7 1202,1252C1207.7,1252.3 1217,1253 1222,1256C1227,1259 1228.7,1265.7 1232,1270C1235.3,1274.3 1238.3,1278.3 1242,1282C1245.7,1285.7 1250,1289 1254,1292C1258,1295 1266.3,1298.2 1266,1300C1265.7,1301.8 1257.7,1302.3 1252,1303C1246.3,1303.7 1238.7,1304.8 1232,1304C1225.3,1303.2 1217.7,1299.7 1212,1298C1206.3,1296.3 1201.3,1296.3 1198,1294C1194.7,1291.7 1195.3,1286.3 1192,1284C1188.7,1281.7 1181.3,1282 1178,1280C1174.7,1278 1174,1275 1172,1272C1170,1269 1168.3,1265.3 1166,1262C1163.7,1258.7 1158.3,1255 1158,1252Z" fill="#ffdcdc" stroke="#ff8c00" stroke-width="11" stroke-linejoin="round" />
<path d="M1158,1252C1157.7,1249 1161,1245 1164,1244C1167,1243 1172,1244.3 1176,1246C1180,1247.7 1183.7,1253 1188,1254C1192.3,1255 1196.3,1251.7 1202,1252C1207.7,1252.3 1217,1253 1222,1256C1227,1259 1228.7,1265.7 1232,1270C1235.3,1274.3 1238.3,1278.3 1242,1282C1245.7,1285.7 1250,1289 1254,1292C1258,1295 1266.3,1298.2 1266,1300C1265.7,1301.8 1257.7,1302.3 1252,1303C1246.3,1303.7 1238.7,1304.8 1232,1304C1225.3,1303.2 1217.7,1299.7 1212,1298C1206.3,1296.3 1201.3,1296.3 1198,1294C1194.7,1291.7 1195.3,1286.3 1192,1284C1188.7,1281.7 1181.3,1282 1178,1280C1174.7,1278 1174,1275 1172,1272C1170,1269 1168.3,1265.3 1166,1262C1163.7,1258.7 1158.3,1255 1158,1252Z" fill="#ffdcdc" stroke="#ff2800" stroke-width="6.5" stroke-linejoin="round" />
<path d="M1158,1252C1157.7,1249 1161,1245 1164,1244C1167,1243 1172,1244.3 1176,1246C1180,1247.7 1183.7,1253 1188,1254C1192.3,1255 1196.3,1251.7 1202,1252C1207.7,1252.3 1217,1253 1222,1256C1227,1259 1228.7,1265.7 1232,1270C1235.3,1274.3 1238.3,1278.3 1242,1282C1245.7,1285.7 1250,1289 1254,1292C1258,1295 1266.3,1298.2 1266,1300C1265.7,1301.8 1257.7,1302.3 1252,1303C1246.3,1303.7 1238.7,1304.8 1232,1304C1225.3,1303.2 1217.7,1299.7 1212,1298C1206.3,1296.3 1201.3,1296.3 1198,1294C1194.7,1291.7 1195.3,1286.3 1192,1284C1188.7,1281.7 1181.3,1282 1178,1280C1174.7,1278 1174,1275 1172,1272C1170,1269 1168.3,1265.3 1166,1262C1163.7,1258.7 1158.3,1255 1158,1252Z" fill="#ffdcdc" stroke="#ff7878" stroke-width="2" stroke-linejoin="round" />
<path d="M1132,1266C1132,1263 1139.7,1257 1144,1254C1148.3,1251 1155,1247 1158,1248C1161,1249 1160.3,1256.3 1162,1260C1163.7,1263.7 1168.7,1267.7 1168,1270C1167.3,1272.3 1162,1273.7 1158,1274C1154,1274.3 1148.3,1273.3 1144,1272C1139.7,1270.7 1132,1269 1132,1266Z" fill="#fff000" />
<path d="M1138,1266C1137.3,1263.3 1144.7,1258 1148,1256C1151.3,1254 1155.7,1252.7 1158,1254C1160.3,1255.3 1161,1261.2 1162,1264C1163,1266.8 1165.7,1269.7 1164,1271C1162.3,1272.3 1156.3,1272.8 1152,1272C1147.7,1271.2 1138.7,1268.7 1138,1266Z" fill="#ff8c00" />
<path d="M1146,1266C1145.7,1264.2 1149.7,1261 1152,1260C1154.3,1259 1158.3,1258.5 1160,1260C1161.7,1261.5 1163,1267.2 1162,1269C1161,1270.8 1156.7,1271.5 1154,1271C1151.3,1270.5 1146.3,1267.8 1146,1266Z" fill="#ff2800" />
<path d="M1158,1252C1157.7,1249 1161,1245 1164,1244C1167,1243 1172,1244.3 1176,1246C1180,1247.7 1183.7,1253 1188,1254C1192.3,1255 1196.3,1251.7 1202,1252C1207.7,1252.3 1217,1253 1222,1256C1227,1259 1228.7,1265.7 1232,1270C1235.3,1274.3 1238.3,1278.3 1242,1282C1245.7,1285.7 1250,1289 1254,1292C1258,1295 1266.3,1298.2 1266,1300C1265.7,1301.8 1257.7,1302.3 1252,1303C1246.3,1303.7 1238.7,1304.8 1232,1304C1225.3,1303.2 1217.7,1299.7 1212,1298C1206.3,1296.3 1201.3,1296.3 1198,1294C1194.7,1291.7 1195.3,1286.3 1192,1284C1188.7,1281.7 1181.3,1282 1178,1280C1174.7,1278 1174,1275 1172,1272C1170,1269 1168.3,1265.3 1166,1262C1163.7,1258.7 1158.3,1255 1158,1252Z" fill="#ffdcdc" stroke="#ff2800" stroke-width="4" stroke-linejoin="round" />
<path d="M1300,1403C1301.2,1400.2 1306.7,1399.5 1310,1400C1313.3,1400.5 1316.7,1403.2 1320,1406C1323.3,1408.8 1326.7,1412.8 1330,1417C1333.3,1421.2 1337.2,1426.3 1340,1431C1342.8,1435.7 1345.1,1440 1347,1445C1348.9,1450 1350.6,1455.7 1351.6,1461C1352.6,1466.3 1353.3,1472.3 1353,1477C1352.7,1481.7 1351.8,1485 1350,1489C1348.2,1493 1344.7,1500.3 1342,1501C1339.3,1501.7 1335.7,1496.3 1334,1493C1332.3,1489.7 1333,1485.3 1332,1481C1331,1476.7 1329.7,1471.3 1328,1467C1326.3,1462.7 1324,1459 1322,1455C1320,1451 1318,1447 1316,1443C1314,1439 1312.2,1435.3 1310,1431C1307.8,1426.7 1304.7,1421.7 1303,1417C1301.3,1412.3 1298.8,1405.8 1300,1403Z" fill="#0050ff" />
<path d="M1320,1360C1322,1357 1325,1359.3 1328,1362C1331,1364.7 1335,1371.3 1338,1376C1341,1380.7 1343.7,1384.3 1346,1390C1348.3,1395.7 1350.7,1403.3 1352,1410C1353.3,1416.7 1353.7,1423.5 1354,1430C1354.3,1436.5 1354.7,1447.2 1354,1449C1353.3,1450.8 1352,1444 1350,1441C1348,1438 1344.7,1434 1342,1431C1339.3,1428 1336.7,1426.3 1334,1423C1331.3,1419.7 1328.7,1415.3 1326,1411C1323.3,1406.7 1320,1399.5 1318,1397C1316,1394.5 1314.3,1398.8 1314,1396C1313.7,1393.2 1315,1386 1316,1380C1317,1374 1318,1363 1320,1360Z" fill="#ffdcdc" stroke="#ff2800" stroke-width="7" stroke-linejoin="round" />
<path d="M1320,1360C1322,1357 1325,1359.3 1328,1362C1331,1364.7 1335,1371.3 1338,1376C1341,1380.7 1343.7,1384.3 1346,1390C1348.3,1395.7 1350.7,1403.3 1352,1410C1353.3,1416.7 1353.7,1423.5 1354,1430C1354.3,1436.5 1354.7,1447.2 1354,1449C1353.3,1450.8 1352,1444 1350,1441C1348,1438 1344.7,1434 1342,1431C1339.3,1428 1336.7,1426.3 1334,1423C1331.3,1419.7 1328.7,1415.3 1326,1411C1323.3,1406.7 1320,1399.5 1318,1397C1316,1394.5 1314.3,1398.8 1314,1396C1313.7,1393.2 1315,1386 1316,1380C1317,1374 1318,1363 1320,1360Z" fill="#ffdcdc" stroke="#ff4646" stroke-width="4" stroke-linejoin="round" />
<path d="M1320,1360C1322,1357 1325,1359.3 1328,1362C1331,1364.7 1335,1371.3 1338,1376C1341,1380.7 1343.7,1384.3 1346,1390C1348.3,1395.7 1350.7,1403.3 1352,1410C1353.3,1416.7 1353.7,1423.5 1354,1430C1354.3,1436.5 1354.7,1447.2 1354,1449C1353.3,1450.8 1352,1444 1350,1441C1348,1438 1344.7,1434 1342,1431C1339.3,1428 1336.7,1426.3 1334,1423C1331.3,1419.7 1328.7,1415.3 1326,1411C1323.3,1406.7 1320,1399.5 1318,1397C1316,1394.5 1314.3,1398.8 1314,1396C1313.7,1393.2 1315,1386 1316,1380C1317,1374 1318,1363 1320,1360Z" fill="#ffdcdc" stroke="#ffaaaa" stroke-width="2" stroke-linejoin="round" />
<path d="M1398,1403C1400,1400.7 1405.3,1400.7 1408,1403C1410.7,1405.3 1415,1411.3 1414,1417C1413,1422.7 1406.3,1431.7 1402,1437C1397.7,1442.3 1392,1445 1388,1449C1384,1453 1380.3,1457.3 1378,1461C1375.7,1464.7 1376.7,1467.3 1374,1471C1371.3,1474.7 1362.7,1483.7 1362,1483C1361.3,1482.3 1367.3,1473 1370,1467C1372.7,1461 1373.7,1455.3 1378,1447C1382.3,1438.7 1392.7,1424.3 1396,1417C1399.3,1409.7 1396,1405.3 1398,1403Z" fill="#00f582" />
<path d="M1320,1360C1322,1357 1325,1359.3 1328,1362C1331,1364.7 1335,1371.3 1338,1376C1341,1380.7 1343.7,1384.3 1346,1390C1348.3,1395.7 1350.7,1403.3 1352,1410C1353.3,1416.7 1353.7,1423.5 1354,1430C1354.3,1436.5 1354.7,1447.2 1354,1449C1353.3,1450.8 1352,1444 1350,1441C1348,1438 1344.7,1434 1342,1431C1339.3,1428 1336.7,1426.3 1334,1423C1331.3,1419.7 1328.7,1415.3 1326,1411C1323.3,1406.7 1320,1399.5 1318,1397C1316,1394.5 1314.3,1398.8 1314,1396C1313.7,1393.2 1315,1386 1316,1380C1317,1374 1318,1363 1320,1360Z" fill="#ffdcdc" stroke="#ff2800" stroke-width="5" stroke-linejoin="round" />
<path d="M1320,1360C1322,1357 1325,1359.3 1328,1362C1331,1364.7 1335,1371.3 1338,1376C1341,1380.7 1343.7,1384.3 1346,1390C1348.3,1395.7 1350.7,1403.3 1352,1410C1353.3,1416.7 1353.7,1423.5 1354,1430C1354.3,1436.5 1354.7,1447.2 1354,1449C1353.3,1450.8 1352,1444 1350,1441C1348,1438 1344.7,1434 1342,1431C1339.3,1428 1336.7,1426.3 1334,1423C1331.3,1419.7 1328.7,1415.3 1326,1411C1323.3,1406.7 1320,1399.5 1318,1397C1316,1394.5 1314.3,1398.8 1314,1396C1313.7,1393.2 1315,1386 1316,1380C1317,1374 1318,1363 1320,1360Z" fill="#ffdcdc" stroke="#ff4646" stroke-width="2.5" stroke-linejoin="round" />
<path d="M1354,1477C1357.3,1473.7 1362.7,1473 1366,1473C1369.3,1473 1371.3,1475 1374,1477C1376.7,1479 1378.7,1482.3 1382,1485C1385.3,1487.7 1390.7,1489.7 1394,1493C1397.3,1496.3 1399.3,1501 1402,1505C1404.7,1509 1409,1513.7 1410,1517C1411,1520.3 1410,1523 1408,1525C1406,1527 1402.3,1527.7 1398,1529C1393.7,1530.3 1388,1531.3 1382,1533C1376,1534.7 1368,1538 1362,1539C1356,1540 1350.7,1540 1346,1539C1341.3,1538 1336.3,1535.7 1334,1533C1331.7,1530.3 1331.3,1527 1332,1523C1332.7,1519 1335.7,1514 1338,1509C1340.3,1504 1343.3,1498.3 1346,1493C1348.7,1487.7 1350.7,1480.3 1354,1477Z" fill="#00e6ff" />
<path d="M1356,1481C1359,1477.7 1363,1477 1366,1477C1369,1477 1371.3,1479 1374,1481C1376.7,1483 1379.3,1486.3 1382,1489C1384.7,1491.7 1388,1493.7 1390,1497C1392,1500.3 1393.7,1505.3 1394,1509C1394.3,1512.7 1394,1516 1392,1519C1390,1522 1387,1524.7 1382,1527C1377,1529.3 1368,1532 1362,1533C1356,1534 1350,1534 1346,1533C1342,1532 1339,1530.3 1338,1527C1337,1523.7 1338.3,1518 1340,1513C1341.7,1508 1345.3,1502.3 1348,1497C1350.7,1491.7 1353,1484.3 1356,1481Z" fill="#00f582" />
<path d="M1358,1485C1360.7,1481.7 1363.3,1480.7 1366,1481C1368.7,1481.3 1371.3,1484.3 1374,1487C1376.7,1489.7 1380.3,1493.3 1382,1497C1383.7,1500.7 1384.7,1505.3 1384,1509C1383.3,1512.7 1381.7,1516 1378,1519C1374.3,1522 1367,1525.7 1362,1527C1357,1528.3 1351,1528.7 1348,1527C1345,1525.3 1343.7,1521.3 1344,1517C1344.3,1512.7 1347.7,1506.3 1350,1501C1352.3,1495.7 1355.3,1488.3 1358,1485Z" fill="#00f03c" />
<path d="M1360,1491C1362.2,1489.3 1365.3,1488 1368,1489C1370.7,1490 1374.3,1494 1376,1497C1377.7,1500 1379,1503.7 1378,1507C1377,1510.3 1373.3,1515 1370,1517C1366.7,1519 1361,1520 1358,1519C1355,1518 1352.5,1514.3 1352,1511C1351.5,1507.7 1353.7,1502.3 1355,1499C1356.3,1495.7 1357.8,1492.7 1360,1491Z" fill="#14f000" />
<path d="M1152,1517C1148.7,1524.7 1157,1545.3 1162,1553C1167,1560.7 1173.7,1559.7 1182,1563C1190.3,1566.3 1202,1571 1212,1573C1222,1575 1233,1574.5 1242,1575C1251,1575.5 1259.3,1577.3 1266,1576C1272.7,1574.7 1276.3,1570.5 1282,1567C1287.7,1563.5 1295.3,1560 1300,1555C1304.7,1550 1307,1542.7 1310,1537C1313,1531.3 1314.7,1525.7 1318,1521C1321.3,1516.3 1327.3,1513.7 1330,1509C1332.7,1504.3 1333.7,1498.3 1334,1493C1334.3,1487.7 1334,1482.3 1332,1477C1330,1471.7 1325,1465.7 1322,1461C1319,1456.3 1317.3,1451.7 1314,1449C1310.7,1446.3 1308.7,1447 1302,1445C1295.3,1443 1284,1438.3 1274,1437C1264,1435.7 1249.7,1435 1242,1437C1234.3,1439 1231.3,1442.3 1228,1449C1224.7,1455.7 1224.7,1469.7 1222,1477C1219.3,1484.3 1218.7,1488 1212,1493C1205.3,1498 1192,1503 1182,1507C1172,1511 1155.3,1509.3 1152,1517Z" fill="#00e6ff" />
<path d="M1152,1517C1149.3,1523.7 1160.3,1540.3 1166,1547C1171.7,1553.7 1178.3,1553.7 1186,1557C1193.7,1560.3 1202.7,1564.8 1212,1567C1221.3,1569.2 1233,1569.3 1242,1570C1251,1570.7 1259.7,1572.2 1266,1571C1272.3,1569.8 1275,1566.3 1280,1563C1285,1559.7 1291.7,1555.7 1296,1551C1300.3,1546.3 1303,1540.3 1306,1535C1309,1529.7 1311,1523.7 1314,1519C1317,1514.3 1321.7,1511.3 1324,1507C1326.3,1502.7 1327.7,1498 1328,1493C1328.3,1488 1327.7,1482 1326,1477C1324.3,1472 1320.7,1467 1318,1463C1315.3,1459 1313.3,1455.3 1310,1453C1306.7,1450.7 1304,1451.3 1298,1449C1292,1446.7 1283.3,1440.7 1274,1439C1264.7,1437.3 1249.7,1436.7 1242,1439C1234.3,1441.3 1231.3,1446.7 1228,1453C1224.7,1459.3 1224.7,1470.3 1222,1477C1219.3,1483.7 1218.7,1488 1212,1493C1205.3,1498 1192,1503 1182,1507C1172,1511 1154.7,1510.3 1152,1517Z" fill="#00f582" />
<path d="M1162,1517C1159.3,1522.3 1169,1535.3 1174,1541C1179,1546.7 1185.3,1547.3 1192,1551C1198.7,1554.7 1205.7,1560.3 1214,1563C1222.3,1565.7 1233.3,1566.2 1242,1567C1250.7,1567.8 1260,1569.2 1266,1568C1272,1566.8 1273.5,1563.3 1278,1560C1282.5,1556.7 1288.8,1552.5 1293,1548C1297.2,1543.5 1300.2,1538.2 1303,1533C1305.8,1527.8 1307.5,1522 1310,1517C1312.5,1512 1316.3,1507.7 1318,1503C1319.7,1498.3 1320.3,1493.7 1320,1489C1319.7,1484.3 1318.3,1479 1316,1475C1313.7,1471 1310.3,1468 1306,1465C1301.7,1462 1296,1459.7 1290,1457C1284,1454.3 1277.3,1451 1270,1449C1262.7,1447 1252.3,1443.7 1246,1445C1239.7,1446.3 1235.3,1451 1232,1457C1228.7,1463 1228.7,1474.3 1226,1481C1223.3,1487.7 1222,1492.3 1216,1497C1210,1501.7 1199,1505.7 1190,1509C1181,1512.3 1164.7,1511.7 1162,1517Z" fill="#00f03c" />
<path d="M1182,1521C1180.7,1525 1186.7,1532.7 1190,1537C1193.3,1541.3 1197.3,1543 1202,1547C1206.7,1551 1211.3,1558 1218,1561C1224.7,1564 1234.3,1564.3 1242,1565C1249.7,1565.7 1258.3,1566.7 1264,1565.4C1269.7,1564.1 1271.7,1560.4 1276,1557C1280.3,1553.6 1286,1549.3 1290,1545C1294,1540.7 1297.2,1536 1300,1531C1302.8,1526 1305,1520 1307,1515C1309,1510 1311.2,1505.7 1312,1501C1312.8,1496.3 1313,1491 1312,1487C1311,1483 1309,1480 1306,1477C1303,1474 1299.3,1471.7 1294,1469C1288.7,1466.3 1281.3,1463.7 1274,1461C1266.7,1458.3 1256.3,1452.3 1250,1453C1243.7,1453.7 1239.3,1459.7 1236,1465C1232.7,1470.3 1232.7,1479 1230,1485C1227.3,1491 1225.3,1496.3 1220,1501C1214.7,1505.7 1204.3,1509.7 1198,1513C1191.7,1516.3 1183.3,1517 1182,1521Z" fill="#14f000" />
<path d="M1194,1527C1193,1530.7 1197.3,1535.7 1200,1539C1202.7,1542.3 1206.3,1543.5 1210,1547C1213.7,1550.5 1216.7,1557.3 1222,1560C1227.3,1562.7 1235.3,1562.8 1242,1563.4C1248.7,1564 1256.7,1564.8 1262,1563.4C1267.3,1562 1269.7,1558.4 1274,1555C1278.3,1551.6 1284,1547.3 1288,1543C1292,1538.7 1295.2,1534 1298,1529C1300.8,1524 1303.5,1518 1305,1513C1306.5,1508 1307.2,1503.3 1307,1499C1306.8,1494.7 1306.2,1490.3 1304,1487C1301.8,1483.7 1299,1481.7 1294,1479C1289,1476.3 1280.7,1473.3 1274,1471C1267.3,1468.7 1259.3,1464.3 1254,1465C1248.7,1465.7 1245.3,1470.7 1242,1475C1238.7,1479.3 1237,1486 1234,1491C1231,1496 1228.7,1500.7 1224,1505C1219.3,1509.3 1211,1513.3 1206,1517C1201,1520.7 1195,1523.3 1194,1527Z" fill="#a0fa00" />
<path d="M1230,1441C1238.7,1436.3 1270.7,1435.7 1282,1437C1293.3,1438.3 1294.7,1444.3 1298,1449C1301.3,1453.7 1304.7,1460.3 1302,1465C1299.3,1469.7 1289.3,1475 1282,1477C1274.7,1479 1264.7,1477.7 1258,1477C1251.3,1476.3 1246.7,1475 1242,1473C1237.3,1471 1232,1470.3 1230,1465C1228,1459.7 1221.3,1445.7 1230,1441Z" fill="#a0fa00" />
<path d="M1232,1442C1239.3,1438.2 1268.3,1436.8 1278,1438C1287.7,1439.2 1288,1445.2 1290,1449C1292,1452.8 1292.7,1457.7 1290,1461C1287.3,1464.3 1280.7,1468 1274,1469C1267.3,1470 1256.7,1468.3 1250,1467C1243.3,1465.7 1237,1465.2 1234,1461C1231,1456.8 1224.7,1445.8 1232,1442Z" fill="#fff000" />
<path d="M1250,1441C1253.7,1439.3 1266,1437.7 1270,1439C1274,1440.3 1274.7,1446 1274,1449C1273.3,1452 1269.7,1455.7 1266,1457C1262.3,1458.3 1255,1458.3 1252,1457C1249,1455.7 1248.3,1451.7 1248,1449C1247.7,1446.3 1246.3,1442.7 1250,1441Z" fill="#ff8c00" />
<path d="M1232,1446C1233.4,1444 1239,1443.5 1241,1445C1243,1446.5 1244.5,1452.5 1244,1455C1243.5,1457.5 1239.9,1459.7 1238,1460C1236.1,1460.3 1233.4,1459.3 1232.4,1457C1231.4,1454.7 1230.6,1448 1232,1446Z" fill="#ff2800" />
<path d="M1235,1450C1235.4,1448.8 1238.1,1448.3 1239,1449C1239.9,1449.7 1240.8,1452.8 1240.4,1454C1240,1455.2 1237.3,1456.7 1236.4,1456C1235.5,1455.3 1234.6,1451.2 1235,1450Z" fill="#ff7878" />
<path d="M1262,1453C1263,1450.7 1269.7,1449.7 1272,1451C1274.3,1452.3 1277,1458.7 1276,1461C1275,1463.3 1268.3,1466.3 1266,1465C1263.7,1463.7 1261,1455.3 1262,1453Z" fill="#14f000" />
<path d="M1212,1537C1212.3,1532.7 1217.7,1525.3 1222,1521C1226.3,1516.7 1233,1515 1238,1511C1243,1507 1247.3,1501.3 1252,1497C1256.7,1492.7 1261.7,1488 1266,1485C1270.3,1482 1273.7,1479.7 1278,1479C1282.3,1478.3 1288,1479 1292,1481C1296,1483 1300.2,1487 1302,1491C1303.8,1495 1303.3,1500.7 1303,1505C1302.7,1509.3 1300.8,1513 1300,1517C1299.2,1521 1299.7,1525.3 1298,1529C1296.3,1532.7 1292.7,1536 1290,1539C1287.3,1542 1285,1544.8 1282,1547C1279,1549.2 1274.7,1549.7 1272,1552C1269.3,1554.3 1268.3,1559.8 1266,1561C1263.7,1562.2 1260.3,1559.8 1258,1559C1255.7,1558.2 1255.3,1556 1252,1556C1248.7,1556 1242,1558.8 1238,1559C1234,1559.2 1231,1559 1228,1557C1225,1555 1222.7,1550.3 1220,1547C1217.3,1543.7 1211.7,1541.3 1212,1537Z" fill="#ffdcdc" stroke="#dcff00" stroke-width="22" stroke-linejoin="round" />
<path d="M1212,1537C1212.3,1532.7 1217.7,1525.3 1222,1521C1226.3,1516.7 1233,1515 1238,1511C1243,1507 1247.3,1501.3 1252,1497C1256.7,1492.7 1261.7,1488 1266,1485C1270.3,1482 1273.7,1479.7 1278,1479C1282.3,1478.3 1288,1479 1292,1481C1296,1483 1300.2,1487 1302,1491C1303.8,1495 1303.3,1500.7 1303,1505C1302.7,1509.3 1300.8,1513 1300,1517C1299.2,1521 1299.7,1525.3 1298,1529C1296.3,1532.7 1292.7,1536 1290,1539C1287.3,1542 1285,1544.8 1282,1547C1279,1549.2 1274.7,1549.7 1272,1552C1269.3,1554.3 1268.3,1559.8 1266,1561C1263.7,1562.2 1260.3,1559.8 1258,1559C1255.7,1558.2 1255.3,1556 1252,1556C1248.7,1556 1242,1558.8 1238,1559C1234,1559.2 1231,1559 1228,1557C1225,1555 1222.7,1550.3 1220,1547C1217.3,1543.7 1211.7,1541.3 1212,1537Z" fill="#ffdcdc" stroke="#fff000" stroke-width="16" stroke-linejoin="round" />
<path d="M1212,1537C1212.3,1532.7 1217.7,1525.3 1222,1521C1226.3,1516.7 1233,1515 1238,1511C1243,1507 1247.3,1501.3 1252,1497C1256.7,1492.7 1261.7,1488 1266,1485C1270.3,1482 1273.7,1479.7 1278,1479C1282.3,1478.3 1288,1479 1292,1481C1296,1483 1300.2,1487 1302,1491C1303.8,1495 1303.3,1500.7 1303,1505C1302.7,1509.3 1300.8,1513 1300,1517C1299.2,1521 1299.7,1525.3 1298,1529C1296.3,1532.7 1292.7,1536 1290,1539C1287.3,1542 1285,1544.8 1282,1547C1279,1549.2 1274.7,1549.7 1272,1552C1269.3,1554.3 1268.3,1559.8 1266,1561C1263.7,1562.2 1260.3,1559.8 1258,1559C1255.7,1558.2 1255.3,1556 1252,1556C1248.7,1556 1242,1558.8 1238,1559C1234,1559.2 1231,1559 1228,1557C1225,1555 1222.7,1550.3 1220,1547C1217.3,1543.7 1211.7,1541.3 1212,1537Z" fill="#ffdcdc" stroke="#ff8c00" stroke-width="11" stroke-linejoin="round" />
<path d="M1212,1537C1212.3,1532.7 1217.7,1525.3 1222,1521C1226.3,1516.7 1233,1515 1238,1511C1243,1507 1247.3,1501.3 1252,1497C1256.7,1492.7 1261.7,1488 1266,1485C1270.3,1482 1273.7,1479.7 1278,1479C1282.3,1478.3 1288,1479 1292,1481C1296,1483 1300.2,1487 1302,1491C1303.8,1495 1303.3,1500.7 1303,1505C1302.7,1509.3 1300.8,1513 1300,1517C1299.2,1521 1299.7,1525.3 1298,1529C1296.3,1532.7 1292.7,1536 1290,1539C1287.3,1542 1285,1544.8 1282,1547C1279,1549.2 1274.7,1549.7 1272,1552C1269.3,1554.3 1268.3,1559.8 1266,1561C1263.7,1562.2 1260.3,1559.8 1258,1559C1255.7,1558.2 1255.3,1556 1252,1556C1248.7,1556 1242,1558.8 1238,1559C1234,1559.2 1231,1559 1228,1557C1225,1555 1222.7,1550.3 1220,1547C1217.3,1543.7 1211.7,1541.3 1212,1537Z" fill="#ffdcdc" stroke="#ff2800" stroke-width="6.5" stroke-linejoin="round" />
<path d="M1212,1537C1212.3,1532.7 1217.7,1525.3 1222,1521C1226.3,1516.7 1233,1515 1238,1511C1243,1507 1247.3,1501.3 1252,1497C1256.7,1492.7 1261.7,1488 1266,1485C1270.3,1482 1273.7,1479.7 1278,1479C1282.3,1478.3 1288,1479 1292,1481C1296,1483 1300.2,1487 1302,1491C1303.8,1495 1303.3,1500.7 1303,1505C1302.7,1509.3 1300.8,1513 1300,1517C1299.2,1521 1299.7,1525.3 1298,1529C1296.3,1532.7 1292.7,1536 1290,1539C1287.3,1542 1285,1544.8 1282,1547C1279,1549.2 1274.7,1549.7 1272,1552C1269.3,1554.3 1268.3,1559.8 1266,1561C1263.7,1562.2 1260.3,1559.8 1258,1559C1255.7,1558.2 1255.3,1556 1252,1556C1248.7,1556 1242,1558.8 1238,1559C1234,1559.2 1231,1559 1228,1557C1225,1555 1222.7,1550.3 1220,1547C1217.3,1543.7 1211.7,1541.3 1212,1537Z" fill="#ffdcdc" stroke="#ff7878" stroke-width="2" stroke-linejoin="round" />
<path d="M1021,1433C1021.2,1430.3 1022.5,1427.3 1024,1426C1025.5,1424.7 1028,1424.5 1030,1425C1032,1425.5 1034,1426.3 1036,1429C1038,1431.7 1040.3,1437 1042,1441C1043.7,1445 1045.5,1449.8 1046,1453C1046.5,1456.2 1046,1458.3 1045,1460C1044,1461.7 1041.8,1463.2 1040,1463C1038.2,1462.8 1036,1461 1034,1459C1032,1457 1029.8,1453.8 1028,1451C1026.2,1448.2 1024.2,1445 1023,1442C1021.8,1439 1020.8,1435.7 1021,1433Z" fill="#ffdcdc" stroke="#00e6ff" stroke-width="34" stroke-linejoin="round" />
<path d="M1021,1433C1021.2,1430.3 1022.5,1427.3 1024,1426C1025.5,1424.7 1028,1424.5 1030,1425C1032,1425.5 1034,1426.3 1036,1429C1038,1431.7 1040.3,1437 1042,1441C1043.7,1445 1045.5,1449.8 1046,1453C1046.5,1456.2 1046,1458.3 1045,1460C1044,1461.7 1041.8,1463.2 1040,1463C1038.2,1462.8 1036,1461 1034,1459C1032,1457 1029.8,1453.8 1028,1451C1026.2,1448.2 1024.2,1445 1023,1442C1021.8,1439 1020.8,1435.7 1021,1433Z" fill="#ffdcdc" stroke="#00f582" stroke-width="26" stroke-linejoin="round" />
<path d="M1021,1433C1021.2,1430.3 1022.5,1427.3 1024,1426C1025.5,1424.7 1028,1424.5 1030,1425C1032,1425.5 1034,1426.3 1036,1429C1038,1431.7 1040.3,1437 1042,1441C1043.7,1445 1045.5,1449.8 1046,1453C1046.5,1456.2 1046,1458.3 1045,1460C1044,1461.7 1041.8,1463.2 1040,1463C1038.2,1462.8 1036,1461 1034,1459C1032,1457 1029.8,1453.8 1028,1451C1026.2,1448.2 1024.2,1445 1023,1442C1021.8,1439 1020.8,1435.7 1021,1433Z" fill="#ffdcdc" stroke="#14f000" stroke-width="19" stroke-linejoin="round" />
<path d="M1021,1433C1021.2,1430.3 1022.5,1427.3 1024,1426C1025.5,1424.7 1028,1424.5 1030,1425C1032,1425.5 1034,1426.3 1036,1429C1038,1431.7 1040.3,1437 1042,1441C1043.7,1445 1045.5,1449.8 1046,1453C1046.5,1456.2 1046,1458.3 1045,1460C1044,1461.7 1041.8,1463.2 1040,1463C1038.2,1462.8 1036,1461 1034,1459C1032,1457 1029.8,1453.8 1028,1451C1026.2,1448.2 1024.2,1445 1023,1442C1021.8,1439 1020.8,1435.7 1021,1433Z" fill="#ffdcdc" stroke="#fff000" stroke-width="12" stroke-linejoin="round" />
<path d="M1021,1433C1021.2,1430.3 1022.5,1427.3 1024,1426C1025.5,1424.7 1028,1424.5 1030,1425C1032,1425.5 1034,1426.3 1036,1429C1038,1431.7 1040.3,1437 1042,1441C1043.7,1445 1045.5,1449.8 1046,1453C1046.5,1456.2 1046,1458.3 1045,1460C1044,1461.7 1041.8,1463.2 1040,1463C1038.2,1462.8 1036,1461 1034,1459C1032,1457 1029.8,1453.8 1028,1451C1026.2,1448.2 1024.2,1445 1023,1442C1021.8,1439 1020.8,1435.7 1021,1433Z" fill="#ffdcdc" stroke="#ff8c00" stroke-width="8" stroke-linejoin="round" />
<path d="M1021,1433C1021.2,1430.3 1022.5,1427.3 1024,1426C1025.5,1424.7 1028,1424.5 1030,1425C1032,1425.5 1034,1426.3 1036,1429C1038,1431.7 1040.3,1437 1042,1441C1043.7,1445 1045.5,1449.8 1046,1453C1046.5,1456.2 1046,1458.3 1045,1460C1044,1461.7 1041.8,1463.2 1040,1463C1038.2,1462.8 1036,1461 1034,1459C1032,1457 1029.8,1453.8 1028,1451C1026.2,1448.2 1024.2,1445 1023,1442C1021.8,1439 1020.8,1435.7 1021,1433Z" fill="#ffdcdc" stroke="#ff2800" stroke-width="5" stroke-linejoin="round" />
<path d="M1021,1433C1021.2,1430.3 1022.5,1427.3 1024,1426C1025.5,1424.7 1028,1424.5 1030,1425C1032,1425.5 1034,1426.3 1036,1429C1038,1431.7 1040.3,1437 1042,1441C1043.7,1445 1045.5,1449.8 1046,1453C1046.5,1456.2 1046,1458.3 1045,1460C1044,1461.7 1041.8,1463.2 1040,1463C1038.2,1462.8 1036,1461 1034,1459C1032,1457 1029.8,1453.8 1028,1451C1026.2,1448.2 1024.2,1445 1023,1442C1021.8,1439 1020.8,1435.7 1021,1433Z" fill="#ffdcdc" stroke="#ff7878" stroke-width="1.5" stroke-linejoin="round" />
<path d="M1168,1312C1164.7,1309.5 1170,1300.7 1172,1300C1174,1299.3 1176.7,1306 1180,1308C1183.3,1310 1186.7,1311 1192,1312C1197.3,1313 1207,1313.5 1212,1314C1217,1314.5 1225.3,1314.8 1222,1315C1218.7,1315.2 1201,1315.5 1192,1315C1183,1314.5 1171.3,1314.5 1168,1312Z" fill="#fff000" />
<path d="M1047,1389 1046,1370 1047,1356 1052,1344 1056,1340 1054,1330 1062,1324 1068,1316 1070,1306 1078,1300 1082,1292 1092,1284 1104,1277 1116,1276 1128,1272 1140,1271 1152,1274 1160,1273 1168,1276 1171,1282 1166,1292 1163,1302 1166,1310 1172,1313 1192,1313 1218,1314.4 1230,1316 1242,1316.4 1252,1319 1266,1328 1274,1332 1276,1340 1272,1348 1278,1358 1282,1366 1292,1368 1300,1374 1296,1380 1294,1389 1294,1389 1292,1397 1290,1407 1286,1417 1288,1427 1298,1431 1306,1431 1312,1437 1318,1441 1320,1449 1326,1457 1328,1465 1324,1477 1320,1479 1318,1465 1314,1453 1306,1445 1298,1447 1286,1443 1274,1439 1270,1441 1266,1437 1262,1441 1258,1438 1254,1442 1250,1438 1246,1442 1242,1439 1238,1443 1232,1445 1231,1449 1228,1465 1224,1477 1222,1489 1218,1487 1210,1493 1208,1501 1198,1505 1192,1509 1188,1503 1180,1507 1172,1509 1160,1506 1148,1501 1138,1497 1128,1495 1118,1497 1114,1493 1112,1485 1106,1487 1098,1485 1088,1479 1084,1475 1076,1479 1070,1473 1070,1465 1068,1453 1064,1443 1062,1436 1072,1431 1076,1428 1070,1421 1064,1416 1056,1411 1050,1401 1048,1389Z" fill="#fff" />
<path d="M1375,1475 1374,1465 1380,1455 1392,1447 1408,1445 1422,1449 1432,1455 1442,1459 1454,1465 1462,1477 1442,1517 1431,1515 1428,1507 1422,1497 1418,1487 1412,1485 1408,1477 1402,1471 1392,1467 1382,1469 1377,1475Z" fill="#fff" />
<path d="M1130,1147 1136,1138 1146,1130 1154,1122 1166,1116 1174,1115 1172,1120 1162,1126 1154,1134 1150,1142 1142,1147 1137,1152.4Z" fill="#fff" stroke="#000" stroke-width="3.6" stroke-linejoin="round" />
<path d="M1032,1166 1040,1160 1048,1158.4 1051,1166 1048,1172.4 1040,1175 1035,1171Z" fill="#fff" stroke="#000" stroke-width="3.6" stroke-linejoin="round" />
</g>
<path d="M1189,1389L1426.3,1526" stroke="#000" stroke-width="1" stroke-dasharray="7 5" fill="none"/>
<path d="M1189,1389L1326,1626.3" stroke="#000" stroke-width="1" stroke-dasharray="7 5" fill="none"/>
<path d="M1189,1389L1052,1626.3" stroke="#000" stroke-width="1" stroke-dasharray="7 5" fill="none"/>
<path d="M1189,1389L951.7,1526" stroke="#000" stroke-width="1" stroke-dasharray="7 5" fill="none"/>
<path d="M1189,1389L951.7,1252" stroke="#000" stroke-width="1" stroke-dasharray="7 5" fill="none"/>
<path d="M1189,1389L1052,1151.7" stroke="#000" stroke-width="1" stroke-dasharray="7 5" fill="none"/>
<path d="M1189,1389L1326,1151.7" stroke="#000" stroke-width="1" stroke-dasharray="7 5" fill="none"/>
<path d="M1189,1389L1426.3,1252" stroke="#000" stroke-width="1" stroke-dasharray="7 5" fill="none"/>
<circle cx="1189" cy="1389" r="179" fill="none" stroke="#000" stroke-width="1" stroke-dasharray="7 5"/>
<path d="M915,1389H1463" stroke="#000" stroke-width="2.0" fill="none"/>
<path d="M1189,1131V1663" stroke="#000" stroke-width="2.0" fill="none"/>
<g clip-path="url(#clip1)">
<path d="M1047,1389 1046,1370 1047,1356 1052,1344 1056,1340 1054,1330 1062,1324 1068,1316 1070,1306 1078,1300 1082,1292 1092,1284 1104,1277 1116,1276 1128,1272 1140,1271 1152,1274 1160,1273 1168,1276 1171,1282 1166,1292 1163,1302 1166,1310 1172,1314 1166,1320 1168,1336 1178,1346 1188,1350 1196,1360 1204,1365 1206,1356 1212,1340 1220,1338 1222,1320 1218,1315 1230,1316 1232,1320 1242,1317 1252,1320 1258,1326 1258,1336 1274,1332 1276,1340 1272,1348 1278,1358 1282,1366 1292,1368 1300,1374 1296,1380 1294,1389 1294,1389 1292,1397 1290,1407 1286,1417 1288,1427 1298,1431 1292,1421 1302,1419 1310,1423 1306,1431 1312,1437 1318,1441 1320,1449 1326,1457 1328,1465 1324,1477 1320,1479 1318,1465 1314,1453 1306,1445 1298,1447 1286,1443 1274,1437 1266,1427 1263,1420 1258,1429 1246,1433 1236,1437 1231,1449 1228,1465 1224,1477 1218,1487 1210,1493 1208,1501 1198,1505 1192,1509 1188,1503 1180,1507 1172,1509 1160,1506 1148,1501 1138,1497 1128,1495 1118,1497 1114,1493 1112,1485 1106,1487 1098,1485 1088,1479 1084,1475 1076,1479 1070,1473 1070,1465 1068,1453 1064,1443 1062,1436 1072,1431 1076,1428 1070,1421 1064,1416 1056,1411 1050,1401 1048,1389Z" fill="none" stroke="#000" stroke-width="4.2" stroke-linejoin="round" stroke-linecap="round" />
<path d="M1375,1475 1374,1465 1380,1455 1392,1447 1408,1445 1422,1449 1432,1455 1442,1459 1452,1465" fill="none" stroke="#000" stroke-width="4.2" stroke-linejoin="round" stroke-linecap="round" />
<path d="M1431,1515 1428,1507 1422,1497 1418,1487 1412,1485 1408,1477 1402,1471 1392,1467 1382,1469 1377,1475" fill="none" stroke="#000" stroke-width="4.2" stroke-linejoin="round" stroke-linecap="round" />
<path d="M966.4,1467C966.6,1465.6 968.1,1464.8 969,1465C969.9,1465.2 971.1,1466.9 972,1468C972.9,1469.1 974.6,1470.2 974.4,1471.4C974.2,1472.6 972.1,1474.7 971,1475C969.9,1475.3 968.4,1474.7 967.6,1473.4C966.8,1472.1 966.2,1468.4 966.4,1467Z" fill="#000" />
<path d="M1330,1468C1330.6,1466.9 1332.6,1466.2 1333.2,1467.4C1333.8,1468.6 1334,1473.2 1333.6,1475C1333.2,1476.8 1331.7,1478.2 1331,1478C1330.3,1477.8 1329.8,1475.7 1329.6,1474C1329.4,1472.3 1329.4,1469.1 1330,1468Z" fill="#000" />
<path d="M1311.6,1511C1311.6,1510.1 1313.9,1508.5 1315,1508.6C1316.1,1508.7 1318,1510.5 1318,1511.4C1318,1512.3 1316.1,1514.1 1315,1514C1313.9,1513.9 1311.6,1511.9 1311.6,1511Z" fill="#000" />
<path d="M1308.6,1554C1309.4,1553.4 1312.1,1553.5 1314,1553.4C1315.9,1553.3 1319.2,1552.8 1320,1553.4C1320.8,1554 1320.3,1556.2 1319,1557C1317.7,1557.8 1313.7,1558.2 1312,1558.2C1310.3,1558.2 1309.6,1557.7 1309,1557C1308.4,1556.3 1307.8,1554.6 1308.6,1554Z" fill="#000" />
<path d="M1374.4,1497C1375.2,1494.9 1377.5,1494.3 1379,1494C1380.5,1493.7 1383.1,1493.5 1383.6,1495C1384.1,1496.5 1382.9,1500.7 1382,1503C1381.1,1505.3 1379.3,1508 1378,1508.6C1376.7,1509.2 1375,1508.5 1374.4,1506.6C1373.8,1504.7 1373.6,1499.1 1374.4,1497Z" fill="#000" />
<path d="M1201.6,1131C1201.9,1130.2 1203.9,1129.5 1205,1129.6C1206.1,1129.7 1207.8,1130.8 1208,1131.6C1208.2,1132.4 1207.2,1133.9 1206.4,1134.4C1205.6,1134.9 1203.8,1135 1203,1134.4C1202.2,1133.8 1201.3,1131.8 1201.6,1131Z" fill="#000" />
<path d="M1206.4,1326C1206.8,1324.1 1209,1321 1210,1321C1211,1321 1212.2,1324.2 1212.4,1326C1212.6,1327.8 1211.8,1330.9 1211,1332C1210.2,1333.1 1208.4,1333.4 1207.6,1332.4C1206.8,1331.4 1206,1327.9 1206.4,1326Z" fill="#000" />
<path d="M1280,1372C1280.5,1371.3 1284,1370.7 1285,1371C1286,1371.3 1286.5,1373.3 1286,1374C1285.5,1374.7 1283,1375.7 1282,1375.4C1281,1375.1 1279.5,1372.7 1280,1372Z" fill="#000" />
</g>
<circle cx="1189" cy="1389" r="274.0" fill="none" stroke="#000" stroke-width="2.1"/>
<text x="17" y="1095" font-size="43">e</text>
<text x="391" y="1097" font-size="36.4" text-anchor="middle">Wintertime mixed layer depth in TED</text>
<text x="803" y="1095" font-size="43">f</text>
<text x="1192" y="1097" font-size="36.4" text-anchor="middle">Wintertime mixed layer depth in CTRL</text>
<text x="1548" y="1087" font-size="35.5">(m)</text>
<rect x="1490" y="1635.4" width="18.2" height="27.9" fill="#dc00aa" />
<rect x="1490" y="1608" width="18.2" height="27.9" fill="#0000b4" />
<rect x="1490" y="1580.7" width="18.2" height="27.9" fill="#0050ff" />
<rect x="1490" y="1553.4" width="18.2" height="27.9" fill="#00e6ff" />
<rect x="1490" y="1526" width="18.2" height="27.9" fill="#00f582" />
<rect x="1490" y="1498.7" width="18.2" height="27.9" fill="#00f03c" />
<rect x="1490" y="1471.4" width="18.2" height="27.9" fill="#14f000" />
<rect x="1490" y="1444" width="18.2" height="27.9" fill="#50f500" />
<rect x="1490" y="1416.7" width="18.2" height="27.9" fill="#a0fa00" />
<rect x="1490" y="1389.4" width="18.2" height="27.9" fill="#dcff00" />
<rect x="1490" y="1362" width="18.2" height="27.9" fill="#fff000" />
<rect x="1490" y="1334.7" width="18.2" height="27.9" fill="#ffbe00" />
<rect x="1490" y="1307.3" width="18.2" height="27.9" fill="#ff8c00" />
<rect x="1490" y="1280" width="18.2" height="27.9" fill="#ff5a00" />
<rect x="1490" y="1252.7" width="18.2" height="27.9" fill="#ff2800" />
<rect x="1490" y="1225.3" width="18.2" height="27.9" fill="#ff1414" />
<rect x="1490" y="1198" width="18.2" height="27.9" fill="#ff4646" />
<rect x="1490" y="1170.7" width="18.2" height="27.9" fill="#ff7878" />
<rect x="1490" y="1143.3" width="18.2" height="27.9" fill="#ffaaaa" />
<rect x="1490" y="1116" width="18.2" height="27.9" fill="#ffdcdc" />
<path d="M1490,1114.6V1664.7" stroke="#000" stroke-width="3.8" fill="none"/>
<path d="M1508.2,1114.6V1664.7" stroke="#000" stroke-width="3.8" fill="none"/>
<path d="M1488.1,1663H1524.2" stroke="#000" stroke-width="3.4" fill="none"/>
<path d="M1508.2,1635.7H1517.2" stroke="#000" stroke-width="3.4" fill="none"/>
<path d="M1508.2,1608.3H1517.2" stroke="#000" stroke-width="3.4" fill="none"/>
<path d="M1508.2,1581H1517.2" stroke="#000" stroke-width="3.4" fill="none"/>
<path d="M1508.2,1553.7H1517.2" stroke="#000" stroke-width="3.4" fill="none"/>
<path d="M1508.2,1526.3H1524.2" stroke="#000" stroke-width="3.4" fill="none"/>
<path d="M1508.2,1499H1517.2" stroke="#000" stroke-width="3.4" fill="none"/>
<path d="M1508.2,1471.7H1517.2" stroke="#000" stroke-width="3.4" fill="none"/>
<path d="M1508.2,1444.3H1517.2" stroke="#000" stroke-width="3.4" fill="none"/>
<path d="M1508.2,1417H1517.2" stroke="#000" stroke-width="3.4" fill="none"/>
<path d="M1508.2,1389.7H1524.2" stroke="#000" stroke-width="3.4" fill="none"/>
<path d="M1508.2,1362.3H1517.2" stroke="#000" stroke-width="3.4" fill="none"/>
<path d="M1508.2,1335H1517.2" stroke="#000" stroke-width="3.4" fill="none"/>
<path d="M1508.2,1307.6H1517.2" stroke="#000" stroke-width="3.4" fill="none"/>
<path d="M1508.2,1280.3H1517.2" stroke="#000" stroke-width="3.4" fill="none"/>
<path d="M1508.2,1253H1524.2" stroke="#000" stroke-width="3.4" fill="none"/>
<path d="M1508.2,1225.6H1517.2" stroke="#000" stroke-width="3.4" fill="none"/>
<path d="M1508.2,1198.3H1517.2" stroke="#000" stroke-width="3.4" fill="none"/>
<path d="M1508.2,1171H1517.2" stroke="#000" stroke-width="3.4" fill="none"/>
<path d="M1508.2,1143.6H1517.2" stroke="#000" stroke-width="3.4" fill="none"/>
<path d="M1488.1,1116.3H1524.2" stroke="#000" stroke-width="3.4" fill="none"/>
<text x="1582" y="1671" font-size="22" text-anchor="end" font-weight="bold">0</text>
<text x="1582" y="1534.3" font-size="22" text-anchor="end" font-weight="bold">250</text>
<text x="1582" y="1397.7" font-size="22" text-anchor="end" font-weight="bold">500</text>
<text x="1582" y="1261" font-size="22" text-anchor="end" font-weight="bold">750</text>
<text x="1582" y="1124.3" font-size="22" text-anchor="end" font-weight="bold">1000</text>
</g>
</svg>
</body></html>
